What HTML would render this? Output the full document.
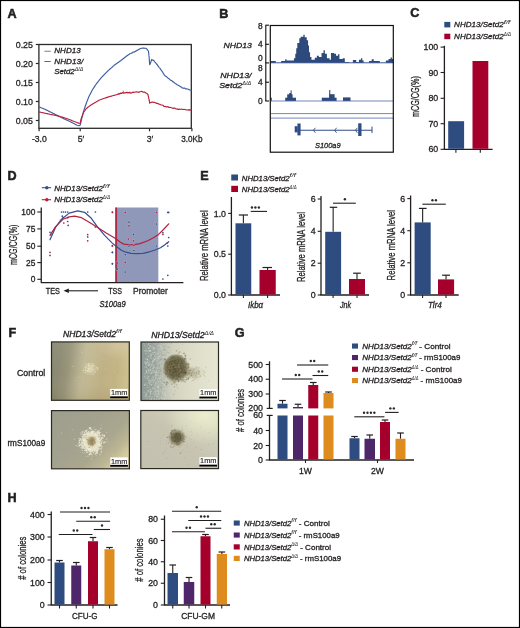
<!DOCTYPE html>
<html><head><meta charset="utf-8"><style>
html,body{margin:0;padding:0;background:#fff;}
svg{display:block;will-change:transform;}
text{font-family:"Liberation Sans",sans-serif;fill:#231f20;stroke:#231f20;stroke-width:0.3px;}
</style></head><body>
<svg width="520" height="628" viewBox="0 0 520 628">
<rect x="0" y="0" width="520" height="628" fill="#fff"/>
<text x="7.6" y="18" font-size="12.6" font-weight="bold" style="stroke-width:0.55px">A</text>
<rect x="38.9" y="44.5" width="152.4" height="83.8" fill="none" stroke="#2b2b2b" stroke-width="1.3"/>
<line x1="35.8" y1="44.5" x2="38.9" y2="44.5" stroke="#2b2b2b" stroke-width="1.2"/>
<text x="32.9" y="47.6" font-size="8.8" text-anchor="end">0.25</text>
<line x1="35.8" y1="63.5" x2="38.9" y2="63.5" stroke="#2b2b2b" stroke-width="1.2"/>
<text x="32.9" y="66.6" font-size="8.8" text-anchor="end">0.20</text>
<line x1="35.8" y1="82.5" x2="38.9" y2="82.5" stroke="#2b2b2b" stroke-width="1.2"/>
<text x="32.9" y="85.6" font-size="8.8" text-anchor="end">0.15</text>
<line x1="35.8" y1="101.5" x2="38.9" y2="101.5" stroke="#2b2b2b" stroke-width="1.2"/>
<text x="32.9" y="104.6" font-size="8.8" text-anchor="end">0.10</text>
<line x1="35.8" y1="120.5" x2="38.9" y2="120.5" stroke="#2b2b2b" stroke-width="1.2"/>
<text x="32.9" y="123.6" font-size="8.8" text-anchor="end">0.05</text>
<line x1="39.1" y1="128.3" x2="39.1" y2="131.3" stroke="#2b2b2b" stroke-width="1.2"/>
<line x1="80.2" y1="128.3" x2="80.2" y2="131.3" stroke="#2b2b2b" stroke-width="1.2"/>
<line x1="149.5" y1="128.3" x2="149.5" y2="131.3" stroke="#2b2b2b" stroke-width="1.2"/>
<line x1="191.9" y1="128.3" x2="191.9" y2="131.3" stroke="#2b2b2b" stroke-width="1.2"/>
<text x="39.3" y="142" font-size="8.6" text-anchor="middle">-3.0</text>
<text x="80.9" y="142" font-size="8.6" text-anchor="middle">5′</text>
<text x="150" y="142" font-size="8.6" text-anchor="middle">3′</text>
<text x="191.9" y="142" font-size="8.6" text-anchor="middle" textLength="21.3" lengthAdjust="spacingAndGlyphs">3.0Kb</text>
<line x1="44.4" y1="51.25" x2="50.8" y2="51.25" stroke="#6a82b8" stroke-width="1.0"/>
<text x="54.3" y="53.3" font-size="7.8" font-style="italic" textLength="26.4" lengthAdjust="spacingAndGlyphs">NHD13</text>
<line x1="44.4" y1="61.5" x2="50.8" y2="61.5" stroke="#c23a5c" stroke-width="1.0"/>
<text x="54.3" y="64.3" font-size="7.8" font-style="italic" textLength="29" lengthAdjust="spacingAndGlyphs">NHD13/</text>
<text x="54.3" y="74.4" font-size="7.8" font-style="italic"><tspan textLength="20.4" lengthAdjust="spacingAndGlyphs">Setd2</tspan><tspan font-size="5.4" dy="-3.4" style="stroke-width:0.05px" textLength="8.6" lengthAdjust="spacingAndGlyphs">Δ/Δ</tspan></text>
<polyline points="39.3,107 40.11,107.33 40.93,107.66 41.74,107.99 42.56,108.31 43.37,108.64 44.19,108.97 45,109.3 45.83,109.72 46.67,110.13 47.5,110.55 48.33,110.97 49.17,111.38 50,111.8 50.83,112.22 51.67,112.63 52.5,113.05 53.33,113.47 54.17,113.88 55,114.3 55.83,114.72 56.67,115.13 57.5,115.55 58.33,115.97 59.17,116.38 60,116.8 60.83,117.22 61.67,117.63 62.5,118.05 63.33,118.47 64.17,118.88 65,119.3 65.83,119.68 66.67,120.07 67.5,120.45 68.33,120.83 69.17,121.22 70,121.6 70.8,122 71.6,122.4 72.4,122.8 73.2,123.2 74,123.6 74.75,124 75.5,124.4 76.25,124.8 77,125.2 78,125.45 79,125.7 80.3,125 80.5,124.08 80.7,123.15 80.9,122.22 81.1,121.3 81.29,120.52 81.48,119.73 81.68,118.95 81.87,118.16 82.06,117.38 82.25,116.59 82.45,115.81 82.64,115.02 82.83,114.24 83.02,113.45 83.22,112.67 83.41,111.88 83.6,111.1 83.86,110.34 84.12,109.58 84.38,108.82 84.64,108.06 84.9,107.3 85.16,106.54 85.42,105.78 85.68,105.02 85.94,104.26 86.2,103.5 86.51,102.7 86.83,101.9 87.14,101.1 87.45,100.3 87.76,99.5 88.08,98.7 88.39,97.9 88.7,97.1 89.09,96.34 89.48,95.58 89.87,94.82 90.26,94.06 90.65,93.3 91.04,92.54 91.43,91.78 91.82,91.02 92.21,90.26 92.6,89.5 93.07,88.79 93.55,88.08 94.03,87.36 94.5,86.65 94.97,85.94 95.45,85.22 95.93,84.51 96.4,83.8 96.91,83.16 97.42,82.52 97.93,81.88 98.44,81.24 98.95,80.6 99.46,79.96 99.97,79.32 100.48,78.68 100.99,78.04 101.5,77.4 102.07,76.82 102.65,76.24 103.22,75.65 103.79,75.07 104.36,74.49 104.94,73.91 105.51,73.33 106.08,72.75 106.65,72.16 107.23,71.58 107.8,71 108.44,70.43 109.08,69.86 109.72,69.29 110.36,68.72 111,68.15 111.64,67.58 112.28,67.01 112.92,66.44 113.56,65.87 114.2,65.3 114.91,64.8 115.62,64.3 116.33,63.8 117.04,63.3 117.76,62.8 118.47,62.3 119.18,61.8 119.89,61.3 120.6,60.8 121.24,60.29 121.88,59.78 122.52,59.27 123.16,58.76 123.8,58.25 124.44,57.74 125.08,57.23 125.72,56.72 126.36,56.21 127,55.7 127.75,55.18 128.5,54.71 129.25,54.25 130,53.75 130.76,53.52 131.52,53.12 132.28,52.91 133.04,52.16 133.8,52.08 134.56,51.94 135.32,51.41 136.08,51.16 136.84,50.39 137.6,50.18 138.6,49.42 139.6,48.92 140.48,48.74 141.36,48.26 142.24,48.16 143.12,47.99 144,48.11 144.87,48.3 145.73,48.26 146.6,48.85 147.07,49.22 147.55,50.16 148.03,50.61 148.5,51.25 148.6,52.54 148.7,53.05 148.8,53.91 148.9,55.14 149,55.94 149.1,56.49 149.16,57.65 149.22,58.26 149.28,59.15 149.34,59.73 149.4,60.92 149.46,61.62 149.52,62.57 149.58,63.36 149.64,63.88 149.7,64.73 150.4,63.43 150.66,62.64 150.92,61.82 151.18,61.16 151.44,60.53 151.7,59.45 152.65,60.14 153.6,60.32 154.13,60.94 154.67,61.83 155.2,62.29 155.73,62.84 156.27,63.56 156.8,64.3 157.34,64.71 157.89,65.89 158.43,66.15 158.97,67.24 159.51,68.02 160.06,68.33 160.6,69.44 161.07,69.95 161.55,70.76 162.03,71.19 162.5,71.92 162.97,72.7 163.45,73.8 163.93,74.14 164.4,75.13 165.03,75.75 165.67,76.29 166.3,76.52 166.93,77.06 167.57,77.68 168.2,78.34 168.93,78.55 169.66,79.41 170.39,79.98 171.11,80.55 171.84,80.68 172.57,81.68 173.3,81.8 174.06,82.44 174.82,83.1 175.58,83.77 176.34,84 177.1,84.81 177.83,85.08 178.56,85.42 179.29,85.88 180.01,86.27 180.74,86.67 181.47,87.17 182.2,87.89 183.05,88.25 183.9,88.03 184.75,88.17 185.6,88.84 186.45,88.82 187.3,88.95 188.06,89.13 188.82,89.57 189.58,89.94 190.34,90.02 191.1,90.3" fill="none" stroke="#3e5e9e" stroke-width="1.15" stroke-linejoin="round" stroke-linecap="round"/>
<polyline points="39.3,112 40.01,112.15 40.72,112.3 41.44,112.45 42.15,112.6 42.86,112.75 43.58,112.9 44.29,113.05 45,113.2 45.71,113.36 46.43,113.51 47.14,113.67 47.86,113.83 48.57,113.99 49.29,114.14 50,114.3 50.71,114.44 51.43,114.59 52.14,114.73 52.86,114.87 53.57,115.01 54.29,115.16 55,115.3 55.71,115.47 56.43,115.64 57.14,115.81 57.86,115.99 58.57,116.16 59.29,116.33 60,116.5 60.71,116.71 61.43,116.93 62.14,117.14 62.86,117.36 63.57,117.57 64.29,117.79 65,118 65.71,118.26 66.43,118.51 67.14,118.77 67.86,119.03 68.57,119.29 69.29,119.54 70,119.8 70.71,120.09 71.43,120.37 72.14,120.66 72.86,120.94 73.57,121.23 74.29,121.51 75,121.8 75.7,122.06 76.4,122.32 77.1,122.58 77.8,122.84 78.5,123.1 79.35,123.25 80.2,123.4 80.35,122.63 80.5,121.87 80.65,121.1 80.8,120.33 80.95,119.57 81.1,118.8 81.38,118.09 81.66,117.38 81.93,116.67 82.21,115.96 82.49,115.24 82.77,114.53 83.04,113.82 83.32,113.11 83.6,112.4 84.03,111.77 84.47,111.13 84.9,110.5 85.33,109.87 85.77,109.23 86.2,108.6 86.77,108.18 87.33,107.76 87.9,107.33 88.47,106.91 89.03,106.49 89.6,106.07 90.17,105.64 90.73,105.22 91.3,104.8 91.93,104.42 92.57,104.05 93.2,103.67 93.83,103.3 94.47,102.92 95.1,102.55 95.73,102.17 96.37,101.8 97,101.42 97.63,101.05 98.27,100.67 98.9,100.3 99.58,100.05 100.27,99.81 100.95,99.56 101.64,99.32 102.32,99.07 103.01,98.82 103.69,98.58 104.38,98.33 105.06,98.08 105.75,97.84 106.43,97.59 107.12,97.35 107.8,97.1 108.49,96.91 109.18,96.72 109.88,96.52 110.57,96.33 111.26,96.14 111.95,95.95 112.65,95.75 113.34,95.56 114.03,95.37 114.72,95.18 115.42,94.98 116.11,94.79 116.8,94.6 117.5,94.39 118.2,94.11 118.9,93.57 119.6,94.13 120.3,93.12 121,93.33 121.7,93.43 122.4,92.58 123.1,92.91 123.81,93.1 124.52,92.82 125.23,92.96 125.94,92.35 126.66,92.64 127.37,92.38 128.08,93.01 128.79,92.52 129.5,92.66 130.2,93.09 130.9,92.89 131.6,92.94 132.3,92.41 133,92.38 133.7,92.53 134.4,92.24 135.1,92.01 135.81,92.05 136.52,91.75 137.23,91.89 137.94,92.37 138.66,92.28 139.37,91.91 140.08,91.73 140.79,91.52 141.5,91.23 142.26,91.52 143.02,92.09 143.78,92.29 144.54,91.96 145.3,92.46 145.93,92.92 146.55,93.33 147.18,93.77 147.8,94.33 147.98,94.73 148.17,95.78 148.35,96.15 148.53,97.09 148.72,98.09 148.9,98.77 149.03,99.16 149.17,100.5 149.3,100.98 149.43,101.67 149.57,101.91 149.7,103.14 150.35,102.55 151,102.6 151.65,102.09 152.3,102.09 153.05,102.15 153.8,102.5 154.55,102.31 155.3,102.8 156.05,103.1 156.8,103.4 157.56,103.21 158.32,103.89 159.08,104.15 159.84,104.23 160.6,104.73 161.23,105.03 161.87,104.95 162.5,105.28 163.13,105.27 163.77,106.19 164.4,106.59 165.11,106.32 165.82,106.66 166.53,106.83 167.24,106.99 167.96,106.63 168.67,107.32 169.38,107.28 170.09,107.5 170.8,107.43 171.49,107.78 172.18,108.09 172.87,108.14 173.56,108.39 174.25,107.94 174.95,108.23 175.64,108.66 176.33,109.02 177.02,108.8 177.71,109.39 178.4,109.52 179.11,109.03 179.82,109.46 180.53,109.29 181.24,109.18 181.96,109.29 182.67,109.5 183.38,109.42 184.09,109.48 184.8,109.38 185.5,109.8 186.2,109.76 186.9,110 187.6,110.01 188.3,109.73 189,110.36 189.7,109.58 190.4,109.98 191.1,110.1" fill="none" stroke="#b8203c" stroke-width="1.15" stroke-linejoin="round" stroke-linecap="round"/>
<line x1="123.3" y1="92.8" x2="123.3" y2="90.6" stroke="#b8203c" stroke-width="0.7"/>
<line x1="129.8" y1="92.8" x2="129.8" y2="91.5" stroke="#b8203c" stroke-width="0.7"/>
<line x1="133.5" y1="92.8" x2="133.5" y2="91.6" stroke="#b8203c" stroke-width="0.7"/>
<line x1="139" y1="92.8" x2="139" y2="91.8" stroke="#b8203c" stroke-width="0.7"/>
<text x="219.3" y="18" font-size="12.6" font-weight="bold" style="stroke-width:0.55px">B</text>
<path d="M270.38,62.9 L270.38,61.05 L275.77,61.05 L275.77,62.53 L281.15,62.53 L281.15,61.05 L285.19,61.05 L285.19,59.3 L286.53,59.3 L286.53,60.38 L293.94,60.38 L293.94,58.36 L295.28,58.36 L295.28,53.65 L296.22,53.65 L296.22,48.26 L297.3,48.26 L297.3,42.88 L299.32,42.88 L299.32,38.17 L300.67,38.17 L300.67,36.82 L303.36,36.82 L303.36,34.8 L304.7,34.8 L304.7,37.23 L306.72,37.23 L306.72,40.19 L308.07,40.19 L308.07,45.57 L309.01,45.57 L309.01,52.3 L310.09,52.3 L310.09,57.01 L311.43,57.01 L311.43,59.7 L314.8,59.7 L314.8,57.69 L316.82,57.69 L316.82,55.67 L318.84,55.67 L318.84,57.01 L321.53,57.01 L321.53,52.97 L323.55,52.97 L323.55,50.28 L324.89,50.28 L324.89,53.65 L326.91,53.65 L326.91,58.36 L329.6,58.36 L329.6,59.7 L330.95,59.7 L330.95,52.97 L334.99,52.97 L330,52.97 L334.04,52.97 L334.04,53.65 L336.06,53.65 L336.06,55.67 L338.08,55.67 L338.08,54.32 L339.42,54.32 L339.42,59.03 L342.79,59.03 L342.79,58.36 L344.8,58.36 L344.8,61.99 L348.84,61.99 L348.84,62.53 L352.88,62.53 L352.88,60.11 L356.24,60.11 L356.24,61.99 L358.94,61.99 L358.94,59.7 L360.96,59.7 L360.96,58.36 L362.3,58.36 L362.3,60.38 L363.65,60.38 L363.65,62.53 L369.03,62.53 L369.03,61.05 L371.72,61.05 L371.72,59.3 L373.74,59.3 L373.74,61.05 L379.8,61.05 L379.8,62.53 L385.85,62.53 L385.85,60.38 L388.55,60.38 L388.55,59.03 L390.57,59.03 L390.57,57.42 L391.91,57.42 L391.91,59.03 L393.26,59.03 L393.26,62.9Z" fill="#2e4a7d"/>
<rect x="270.4" y="97.7" width="1.4" height="3.3" fill="#2e4a7d"/>
<rect x="285.2" y="97.7" width="10.8" height="3.3" fill="#2e4a7d"/>
<rect x="287.2" y="94.3" width="5.4" height="6.7" fill="#2e4a7d"/>
<rect x="289.2" y="93" width="2" height="8" fill="#2e4a7d"/>
<rect x="290.6" y="90.3" width="1" height="10.7" fill="#2e4a7d"/>
<rect x="321.8" y="97.7" width="14.8" height="3.3" fill="#2e4a7d"/>
<rect x="329.2" y="94.2" width="5.4" height="6.8" fill="#2e4a7d"/>
<rect x="329.2" y="90" width="1.1" height="11" fill="#2e4a7d"/>
<rect x="343" y="97.4" width="7.5" height="3.6" fill="#2e4a7d"/>
<line x1="270.3" y1="62.9" x2="393.3" y2="62.9" stroke="#5168ab" stroke-width="0.8"/>
<line x1="270.3" y1="101" x2="393.3" y2="101" stroke="#5168ab" stroke-width="0.8"/>
<line x1="270.3" y1="113.6" x2="393.3" y2="113.6" stroke="#5168ab" stroke-width="0.8"/>
<line x1="270.3" y1="118.1" x2="393.3" y2="118.1" stroke="#5168ab" stroke-width="0.8"/>
<rect x="270.3" y="25.5" width="123" height="126.7" fill="none" stroke="#111" stroke-width="1.2"/>
<line x1="265.8" y1="25.2" x2="265.8" y2="101" stroke="#111" stroke-width="1.1"/>
<line x1="265.3" y1="25.2" x2="269" y2="25.2" stroke="#111" stroke-width="1.1"/>
<line x1="265.3" y1="44.3" x2="269" y2="44.3" stroke="#111" stroke-width="1.1"/>
<line x1="265.3" y1="62.9" x2="269" y2="62.9" stroke="#111" stroke-width="1.1"/>
<line x1="265.3" y1="82.2" x2="269" y2="82.2" stroke="#111" stroke-width="1.1"/>
<line x1="265.3" y1="101" x2="269" y2="101" stroke="#111" stroke-width="1.1"/>
<text x="260.4" y="28.6" font-size="8.4" text-anchor="middle">8</text>
<text x="260.4" y="47.1" font-size="8.4" text-anchor="middle">4</text>
<text x="260.4" y="60.9" font-size="8.4" text-anchor="middle">0</text>
<text x="260.4" y="71.1" font-size="8.4" text-anchor="middle">8</text>
<text x="260.4" y="85.4" font-size="8.4" text-anchor="middle">4</text>
<text x="260.4" y="104.1" font-size="8.4" text-anchor="middle">0</text>
<text x="251.8" y="47.6" font-size="7.9" text-anchor="end" font-style="italic" textLength="28.4" lengthAdjust="spacingAndGlyphs">NHD13</text>
<text x="251.6" y="77.8" font-size="7.9" text-anchor="end" font-style="italic" textLength="31.4" lengthAdjust="spacingAndGlyphs">NHD13/</text>
<text x="219.2" y="88.3" font-size="7.9" font-style="italic"><tspan textLength="23" lengthAdjust="spacingAndGlyphs">Setd2</tspan><tspan font-size="5.5" dy="-3.5" style="stroke-width:0.05px" textLength="9" lengthAdjust="spacingAndGlyphs">Δ/Δ</tspan></text>
<line x1="297" y1="130.3" x2="372" y2="130.3" stroke="#2f4c86" stroke-width="1.1"/>
<line x1="372" y1="126.6" x2="372" y2="133.1" stroke="#2f4c86" stroke-width="1"/>
<rect x="294.7" y="126.2" width="2.9" height="6.2" fill="#2f4c86"/>
<rect x="297.4" y="123.5" width="3.2" height="11.9" fill="#2f4c86"/>
<rect x="358.2" y="123.3" width="3.3" height="12.7" fill="#2f4c86"/>
<polyline points="315.4,127.8 313.4,130.3 315.4,132.8" fill="none" stroke="#2f4c86" stroke-width="0.9"/>
<polyline points="336.6,127.8 334.6,130.3 336.6,132.8" fill="none" stroke="#2f4c86" stroke-width="0.9"/>
<polyline points="357.4,127.8 355.4,130.3 357.4,132.8" fill="none" stroke="#2f4c86" stroke-width="0.9"/>
<text x="315" y="148.2" font-size="8" font-style="italic" textLength="25.6" lengthAdjust="spacingAndGlyphs">S100a9</text>
<text x="410.2" y="17.3" font-size="12.6" font-weight="bold" style="stroke-width:0.55px">C</text>
<rect x="444.3" y="21.9" width="6" height="5.5" fill="#2e4c7f"/>
<rect x="444.3" y="33.7" width="6" height="5.5" fill="#a4002b"/>
<text x="454.1" y="27.3" font-size="7.9"><tspan font-style="italic" textLength="49.6" lengthAdjust="spacingAndGlyphs">NHD13/Setd2</tspan><tspan font-style="italic" font-size="5.6" dy="-3.32" style="stroke-width:0.05px" textLength="6.6" lengthAdjust="spacingAndGlyphs">f/f</tspan></text>
<text x="454.1" y="39.1" font-size="7.9"><tspan font-style="italic" textLength="49.6" lengthAdjust="spacingAndGlyphs">NHD13/Setd2</tspan><tspan font-style="italic" font-size="5.6" dy="-3.32" style="stroke-width:0.05px" textLength="7.4" lengthAdjust="spacingAndGlyphs">Δ/Δ</tspan></text>
<line x1="444.4" y1="45.8" x2="444.4" y2="149.3" stroke="#231f20" stroke-width="1.3"/>
<line x1="440.6" y1="47.1" x2="444.4" y2="47.1" stroke="#231f20" stroke-width="1.1"/>
<text x="438.2" y="50.2" font-size="8.8" text-anchor="end">100</text>
<line x1="440.6" y1="72.5" x2="444.4" y2="72.5" stroke="#231f20" stroke-width="1.1"/>
<text x="438.2" y="75.6" font-size="8.8" text-anchor="end">90</text>
<line x1="440.6" y1="98.3" x2="444.4" y2="98.3" stroke="#231f20" stroke-width="1.1"/>
<text x="438.2" y="101.4" font-size="8.8" text-anchor="end">80</text>
<line x1="440.6" y1="123.7" x2="444.4" y2="123.7" stroke="#231f20" stroke-width="1.1"/>
<text x="438.2" y="126.8" font-size="8.8" text-anchor="end">70</text>
<line x1="440.6" y1="149.3" x2="444.4" y2="149.3" stroke="#231f20" stroke-width="1.1"/>
<text x="438.2" y="152.4" font-size="8.8" text-anchor="end">60</text>
<line x1="444" y1="149.3" x2="492.6" y2="149.3" stroke="#231f20" stroke-width="1.3"/>
<line x1="455.9" y1="149.3" x2="455.9" y2="152.8" stroke="#231f20" stroke-width="1.1"/>
<line x1="480.3" y1="149.3" x2="480.3" y2="152.8" stroke="#231f20" stroke-width="1.1"/>
<rect x="448.2" y="121.2" width="15.9" height="27.6" fill="#2e4c7f"/>
<rect x="472.5" y="61" width="15.8" height="87.8" fill="#a4002b"/>
<text transform="translate(418.5,96.6) rotate(-90)" x="0" y="0" font-size="10.2" text-anchor="middle" textLength="40.8" lengthAdjust="spacingAndGlyphs">mCG/CG(%)</text>
<text x="7.6" y="180" font-size="12.6" font-weight="bold" style="stroke-width:0.55px">D</text>
<line x1="41.8" y1="187.7" x2="51.1" y2="187.7" stroke="#33508e" stroke-width="1.1"/>
<circle cx="46.8" cy="187.7" r="1.7" fill="#33508e"/>
<line x1="41.8" y1="199.7" x2="51.1" y2="199.7" stroke="#b5203f" stroke-width="1.1"/>
<circle cx="46.8" cy="199.7" r="1.7" fill="#b5203f"/>
<text x="54.2" y="190.8" font-size="7.8"><tspan font-style="italic" textLength="48.6" lengthAdjust="spacingAndGlyphs">NHD13/Setd2</tspan><tspan font-style="italic" font-size="5.6" dy="-3.28" style="stroke-width:0.05px" textLength="6.6" lengthAdjust="spacingAndGlyphs">f/f</tspan></text>
<text x="54.2" y="202.3" font-size="7.8"><tspan font-style="italic" textLength="48.6" lengthAdjust="spacingAndGlyphs">NHD13/Setd2</tspan><tspan font-style="italic" font-size="5.6" dy="-3.28" style="stroke-width:0.05px" textLength="7.4" lengthAdjust="spacingAndGlyphs">Δ/Δ</tspan></text>
<rect x="115.6" y="207.5" width="42.7" height="74.8" fill="#9098b9"/>
<rect x="115.2" y="207.5" width="1.9" height="75" fill="#b02a4a"/>
<line x1="41.25" y1="207.5" x2="41.25" y2="282.6" stroke="#231f20" stroke-width="1.3"/>
<line x1="37.3" y1="212" x2="41.25" y2="212" stroke="#231f20" stroke-width="1.1"/>
<text x="35.3" y="215" font-size="8.4" text-anchor="end">100</text>
<line x1="37.3" y1="228.9" x2="41.25" y2="228.9" stroke="#231f20" stroke-width="1.1"/>
<text x="35.3" y="231.9" font-size="8.4" text-anchor="end">75</text>
<line x1="37.3" y1="246.2" x2="41.25" y2="246.2" stroke="#231f20" stroke-width="1.1"/>
<text x="35.3" y="249.2" font-size="8.4" text-anchor="end">50</text>
<line x1="37.3" y1="262.6" x2="41.25" y2="262.6" stroke="#231f20" stroke-width="1.1"/>
<text x="35.3" y="265.6" font-size="8.4" text-anchor="end">25</text>
<line x1="37.3" y1="279.3" x2="41.25" y2="279.3" stroke="#231f20" stroke-width="1.1"/>
<text x="35.3" y="282.3" font-size="8.4" text-anchor="end">0</text>
<line x1="40.8" y1="282.6" x2="183.4" y2="282.6" stroke="#231f20" stroke-width="1.3"/>
<text x="45.8" y="294" font-size="8.3" textLength="14.2" lengthAdjust="spacingAndGlyphs">TES</text>
<line x1="66" y1="290.8" x2="98" y2="290.8" stroke="#231f20" stroke-width="1.1"/>
<polygon points="63.5,290.8 68.8,288.5 68.8,293.1" fill="#231f20"/>
<text x="108.2" y="294" font-size="8.3" textLength="13.8" lengthAdjust="spacingAndGlyphs">TSS</text>
<text x="133" y="294" font-size="8.3" textLength="34.8" lengthAdjust="spacingAndGlyphs">Promoter</text>
<text x="99.5" y="307.2" font-size="8.6" font-style="italic" textLength="26.2" lengthAdjust="spacingAndGlyphs">S100a9</text>
<text transform="translate(16.6,244.8) rotate(-90)" x="0" y="0" font-size="10.2" text-anchor="middle" textLength="40.3" lengthAdjust="spacingAndGlyphs">mCG/CG(%)</text>
<polyline points="50,239.7 55.4,227.7 61.5,219.2 69.2,213.1 77.7,210.8 84.6,212.3 90.8,217.7 96.9,226.2 104.6,235.4 112.3,243.1 117,247 121,250 125.7,252.2 131,253.4 136.7,253.6 143,253.3 149.5,251.8 155,250 160.5,247.8 164.5,245 168.7,241.7" fill="none" stroke="#33508e" stroke-width="1.2" stroke-linejoin="round" stroke-linecap="round"/>
<polyline points="50,235.4 55.4,226.9 63.1,219.2 69.2,216.9 74.6,216.2 81.5,217.7 89.2,222.3 96.9,226.9 106.2,233.1 113,237 117,239.5 120,242 123.8,244.1 128,244.7 133,244.9 140,243.6 147.7,240.8 153,238 158.6,234.4 163,230 168.7,223.8" fill="none" stroke="#b5203f" stroke-width="1.2" stroke-linejoin="round" stroke-linecap="round"/>
<circle cx="125.3" cy="212.4" r="1.3" fill="#c4c8de" fill-opacity="0.6"/>
<circle cx="156.5" cy="212.4" r="1.3" fill="#c4c8de" fill-opacity="0.6"/>
<circle cx="129" cy="225.8" r="1.3" fill="#c4c8de" fill-opacity="0.6"/>
<circle cx="128.4" cy="239" r="1.3" fill="#c4c8de" fill-opacity="0.6"/>
<circle cx="133.5" cy="240.8" r="1.3" fill="#c4c8de" fill-opacity="0.6"/>
<circle cx="133.9" cy="245.4" r="1.3" fill="#c4c8de" fill-opacity="0.6"/>
<circle cx="117" cy="262.8" r="1.3" fill="#c4c8de" fill-opacity="0.6"/>
<circle cx="125.3" cy="262.4" r="1.3" fill="#c4c8de" fill-opacity="0.6"/>
<circle cx="116.9" cy="263" r="1.3" fill="#c4c8de" fill-opacity="0.6"/>
<circle cx="129" cy="222.1" r="1.3" fill="#c4c8de" fill-opacity="0.6"/>
<circle cx="156.5" cy="224" r="1.3" fill="#c4c8de" fill-opacity="0.6"/>
<circle cx="133.5" cy="234.4" r="1.3" fill="#c4c8de" fill-opacity="0.6"/>
<circle cx="129" cy="246" r="1.3" fill="#c4c8de" fill-opacity="0.6"/>
<circle cx="156.5" cy="246" r="1.3" fill="#c4c8de" fill-opacity="0.6"/>
<circle cx="133.9" cy="250.5" r="1.3" fill="#c4c8de" fill-opacity="0.6"/>
<circle cx="125.3" cy="254.6" r="1.3" fill="#c4c8de" fill-opacity="0.6"/>
<circle cx="117" cy="269.2" r="1.3" fill="#c4c8de" fill-opacity="0.6"/>
<circle cx="125.3" cy="272" r="1.3" fill="#c4c8de" fill-opacity="0.6"/>
<circle cx="116.9" cy="269.2" r="1.3" fill="#c4c8de" fill-opacity="0.6"/>
<circle cx="112.5" cy="212.4" r="0.85" fill="#b5203f"/>
<circle cx="125.3" cy="212.4" r="0.85" fill="#b5203f"/>
<circle cx="156.5" cy="212.4" r="0.85" fill="#b5203f"/>
<circle cx="167.8" cy="212.4" r="0.85" fill="#b5203f"/>
<circle cx="129" cy="225.8" r="0.85" fill="#b5203f"/>
<circle cx="128.4" cy="239" r="0.85" fill="#b5203f"/>
<circle cx="133.5" cy="240.8" r="0.85" fill="#b5203f"/>
<circle cx="133.9" cy="245.4" r="0.85" fill="#b5203f"/>
<circle cx="112.5" cy="246" r="0.85" fill="#b5203f"/>
<circle cx="162.9" cy="234.4" r="0.85" fill="#b5203f"/>
<circle cx="167.4" cy="243" r="0.85" fill="#b5203f"/>
<circle cx="117" cy="262.8" r="0.85" fill="#b5203f"/>
<circle cx="125.3" cy="262.4" r="0.85" fill="#b5203f"/>
<circle cx="112.3" cy="212" r="0.85" fill="#b5203f"/>
<circle cx="63.8" cy="223" r="0.85" fill="#b5203f"/>
<circle cx="67.7" cy="217.7" r="0.85" fill="#b5203f"/>
<circle cx="50.8" cy="234.6" r="0.85" fill="#b5203f"/>
<circle cx="87.7" cy="234.6" r="0.85" fill="#b5203f"/>
<circle cx="87.7" cy="240.8" r="0.85" fill="#b5203f"/>
<circle cx="95.4" cy="226.9" r="0.85" fill="#b5203f"/>
<circle cx="50" cy="252.3" r="0.85" fill="#b5203f"/>
<circle cx="112.3" cy="245.7" r="0.85" fill="#b5203f"/>
<circle cx="116.9" cy="263" r="0.85" fill="#b5203f"/>
<circle cx="168.7" cy="212.4" r="0.85" fill="#33508e"/>
<circle cx="129" cy="222.1" r="0.85" fill="#33508e"/>
<circle cx="156.5" cy="224" r="0.85" fill="#33508e"/>
<circle cx="133.5" cy="234.4" r="0.85" fill="#33508e"/>
<circle cx="162.9" cy="232.6" r="0.85" fill="#33508e"/>
<circle cx="168.7" cy="237.5" r="0.85" fill="#33508e"/>
<circle cx="129" cy="246" r="0.85" fill="#33508e"/>
<circle cx="156.5" cy="246" r="0.85" fill="#33508e"/>
<circle cx="133.9" cy="250.5" r="0.85" fill="#33508e"/>
<circle cx="167.8" cy="246" r="0.85" fill="#33508e"/>
<circle cx="112.5" cy="252.4" r="0.85" fill="#33508e"/>
<circle cx="125.3" cy="254.6" r="0.85" fill="#33508e"/>
<circle cx="112.5" cy="263.7" r="0.85" fill="#33508e"/>
<circle cx="117" cy="269.2" r="0.85" fill="#33508e"/>
<circle cx="125.3" cy="272" r="0.85" fill="#33508e"/>
<circle cx="162.9" cy="279" r="0.85" fill="#33508e"/>
<circle cx="167.8" cy="275.3" r="0.85" fill="#33508e"/>
<circle cx="61.5" cy="212" r="0.85" fill="#33508e"/>
<circle cx="63.5" cy="212" r="0.85" fill="#33508e"/>
<circle cx="65.5" cy="212" r="0.85" fill="#33508e"/>
<circle cx="67.7" cy="212" r="0.85" fill="#33508e"/>
<circle cx="87.7" cy="212" r="0.85" fill="#33508e"/>
<circle cx="95.4" cy="212" r="0.85" fill="#33508e"/>
<circle cx="62.3" cy="216.2" r="0.85" fill="#33508e"/>
<circle cx="63.1" cy="217.7" r="0.85" fill="#33508e"/>
<circle cx="67.7" cy="221.5" r="0.85" fill="#33508e"/>
<circle cx="68.2" cy="225.4" r="0.85" fill="#33508e"/>
<circle cx="50" cy="232.3" r="0.85" fill="#33508e"/>
<circle cx="87.7" cy="236.9" r="0.85" fill="#33508e"/>
<circle cx="50" cy="255.4" r="0.85" fill="#33508e"/>
<circle cx="112.3" cy="252.3" r="0.85" fill="#33508e"/>
<circle cx="112.3" cy="263.8" r="0.85" fill="#33508e"/>
<circle cx="116.9" cy="269.2" r="0.85" fill="#33508e"/>
<text x="200.3" y="180" font-size="12.6" font-weight="bold" style="stroke-width:0.55px">E</text>
<rect x="231.25" y="174.5" width="6.75" height="6" fill="#2e4c7f"/>
<rect x="231.25" y="185.8" width="6.75" height="6.2" fill="#a4002b"/>
<text x="241.8" y="180.5" font-size="7.7"><tspan font-style="italic" textLength="47.8" lengthAdjust="spacingAndGlyphs">NHD13/Setd2</tspan><tspan font-style="italic" font-size="5.4" dy="-3.23" style="stroke-width:0.05px" textLength="6.2" lengthAdjust="spacingAndGlyphs">f/f</tspan></text>
<text x="241.8" y="192" font-size="7.7"><tspan font-style="italic" textLength="47.8" lengthAdjust="spacingAndGlyphs">NHD13/Setd2</tspan><tspan font-style="italic" font-size="5.4" dy="-3.23" style="stroke-width:0.05px" textLength="7" lengthAdjust="spacingAndGlyphs">Δ/Δ</tspan></text>
<line x1="231.4" y1="197" x2="231.4" y2="295" stroke="#231f20" stroke-width="1.3"/>
<line x1="228.1" y1="213.4" x2="231.4" y2="213.4" stroke="#231f20" stroke-width="1.1"/>
<text x="226" y="216.5" font-size="8.8" text-anchor="end">1.0</text>
<line x1="228.1" y1="254.2" x2="231.4" y2="254.2" stroke="#231f20" stroke-width="1.1"/>
<text x="226" y="257.3" font-size="8.8" text-anchor="end">0.5</text>
<line x1="228.1" y1="295" x2="231.4" y2="295" stroke="#231f20" stroke-width="1.1"/>
<text x="226" y="298.1" font-size="8.8" text-anchor="end">0.0</text>
<line x1="230.8" y1="295" x2="280" y2="295" stroke="#231f20" stroke-width="1.3"/>
<line x1="243.4" y1="295" x2="243.4" y2="298" stroke="#231f20" stroke-width="1.1"/>
<line x1="267.6" y1="295" x2="267.6" y2="298" stroke="#231f20" stroke-width="1.1"/>
<line x1="243.38" y1="223.3" x2="243.38" y2="215" stroke="#231f20" stroke-width="1.1"/>
<line x1="238.8" y1="215" x2="248" y2="215" stroke="#231f20" stroke-width="1.2"/>
<rect x="235.5" y="223.3" width="15.75" height="71.2" fill="#2e4c7f"/>
<line x1="267.62" y1="270" x2="267.62" y2="267.5" stroke="#231f20" stroke-width="1.1"/>
<line x1="262.5" y1="267.5" x2="272" y2="267.5" stroke="#231f20" stroke-width="1.2"/>
<rect x="259.5" y="270" width="16.25" height="24.5" fill="#a4002b"/>
<line x1="250.75" y1="211.4" x2="267" y2="211.4" stroke="#231f20" stroke-width="1.1"/>
<circle cx="251.95" cy="207.5" r="1.2" fill="#2a2a2a"/>
<circle cx="255.4" cy="207.5" r="1.2" fill="#2a2a2a"/>
<circle cx="258.85" cy="207.5" r="1.2" fill="#2a2a2a"/>
<text x="255.5" y="308" font-size="8.4" text-anchor="middle" font-style="italic" textLength="15" lengthAdjust="spacingAndGlyphs">Ikbα</text>
<text transform="translate(208.2,245.7) rotate(-90)" x="0" y="0" font-size="10.3" text-anchor="middle" textLength="70.7" lengthAdjust="spacingAndGlyphs">Relative mRNA level</text>
<line x1="321" y1="196.1" x2="321" y2="295" stroke="#231f20" stroke-width="1.3"/>
<line x1="317.7" y1="199" x2="321" y2="199" stroke="#231f20" stroke-width="1.1"/>
<text x="315.6" y="202.1" font-size="8.8" text-anchor="end">6</text>
<line x1="317.7" y1="231.3" x2="321" y2="231.3" stroke="#231f20" stroke-width="1.1"/>
<text x="315.6" y="234.4" font-size="8.8" text-anchor="end">4</text>
<line x1="317.7" y1="263.2" x2="321" y2="263.2" stroke="#231f20" stroke-width="1.1"/>
<text x="315.6" y="266.3" font-size="8.8" text-anchor="end">2</text>
<line x1="317.7" y1="295" x2="321" y2="295" stroke="#231f20" stroke-width="1.1"/>
<text x="315.6" y="298.1" font-size="8.8" text-anchor="end">0</text>
<line x1="320.4" y1="295" x2="369" y2="295" stroke="#231f20" stroke-width="1.3"/>
<line x1="333.1" y1="295" x2="333.1" y2="298" stroke="#231f20" stroke-width="1.1"/>
<line x1="357" y1="295" x2="357" y2="298" stroke="#231f20" stroke-width="1.1"/>
<line x1="333.15" y1="231.8" x2="333.15" y2="207.3" stroke="#231f20" stroke-width="1.1"/>
<line x1="329.8" y1="207.3" x2="337.2" y2="207.3" stroke="#231f20" stroke-width="1.2"/>
<rect x="325.2" y="231.8" width="15.9" height="62.7" fill="#2e4c7f"/>
<line x1="357" y1="279" x2="357" y2="273.2" stroke="#231f20" stroke-width="1.1"/>
<line x1="353.1" y1="273.2" x2="360.8" y2="273.2" stroke="#231f20" stroke-width="1.2"/>
<rect x="349" y="279" width="16" height="15.5" fill="#a4002b"/>
<line x1="333" y1="203.2" x2="355.8" y2="203.2" stroke="#231f20" stroke-width="1.1"/>
<circle cx="344.9" cy="199.3" r="1.2" fill="#2a2a2a"/>
<text x="345.5" y="308" font-size="8.4" text-anchor="middle" font-style="italic" textLength="11" lengthAdjust="spacingAndGlyphs">Jnk</text>
<text transform="translate(305.1,247) rotate(-90)" x="0" y="0" font-size="10.3" text-anchor="middle" textLength="70" lengthAdjust="spacingAndGlyphs">Relative mRNA level</text>
<line x1="410.6" y1="195.5" x2="410.6" y2="295" stroke="#231f20" stroke-width="1.3"/>
<line x1="407.3" y1="198.6" x2="410.6" y2="198.6" stroke="#231f20" stroke-width="1.1"/>
<text x="405.2" y="201.7" font-size="8.8" text-anchor="end">6</text>
<line x1="407.3" y1="230.7" x2="410.6" y2="230.7" stroke="#231f20" stroke-width="1.1"/>
<text x="405.2" y="233.8" font-size="8.8" text-anchor="end">4</text>
<line x1="407.3" y1="262.8" x2="410.6" y2="262.8" stroke="#231f20" stroke-width="1.1"/>
<text x="405.2" y="265.9" font-size="8.8" text-anchor="end">2</text>
<line x1="407.3" y1="295" x2="410.6" y2="295" stroke="#231f20" stroke-width="1.1"/>
<text x="405.2" y="298.1" font-size="8.8" text-anchor="end">0</text>
<line x1="410" y1="295" x2="458.7" y2="295" stroke="#231f20" stroke-width="1.3"/>
<line x1="422.6" y1="295" x2="422.6" y2="298" stroke="#231f20" stroke-width="1.1"/>
<line x1="446" y1="295" x2="446" y2="298" stroke="#231f20" stroke-width="1.1"/>
<line x1="422.65" y1="222.4" x2="422.65" y2="208.4" stroke="#231f20" stroke-width="1.1"/>
<line x1="418.9" y1="208.4" x2="426.6" y2="208.4" stroke="#231f20" stroke-width="1.2"/>
<rect x="414.6" y="222.4" width="16.1" height="72.1" fill="#2e4c7f"/>
<line x1="446.05" y1="279.4" x2="446.05" y2="275.2" stroke="#231f20" stroke-width="1.1"/>
<line x1="442.1" y1="275.2" x2="450" y2="275.2" stroke="#231f20" stroke-width="1.2"/>
<rect x="438" y="279.4" width="16.1" height="15.1" fill="#a4002b"/>
<line x1="422.4" y1="204.2" x2="445.8" y2="204.2" stroke="#231f20" stroke-width="1.1"/>
<circle cx="432.47" cy="200.3" r="1.2" fill="#2a2a2a"/>
<circle cx="435.92" cy="200.3" r="1.2" fill="#2a2a2a"/>
<text x="434.9" y="308" font-size="8.4" text-anchor="middle" font-style="italic" textLength="14" lengthAdjust="spacingAndGlyphs">Tlr4</text>
<text transform="translate(394.5,245.2) rotate(-90)" x="0" y="0" font-size="10.3" text-anchor="middle" textLength="70.4" lengthAdjust="spacingAndGlyphs">Relative mRNA level</text>
<text x="8.6" y="336.5" font-size="12.6" font-weight="bold" style="stroke-width:0.55px">F</text>
<text x="63" y="336.9" font-size="8.2"><tspan font-style="italic" textLength="53" lengthAdjust="spacingAndGlyphs">NHD13/Setd2</tspan><tspan font-style="italic" font-size="5.8" dy="-3.44" style="stroke-width:0.05px" textLength="5.8" lengthAdjust="spacingAndGlyphs">f/f</tspan></text>
<text x="151.2" y="338.3" font-size="8.2"><tspan font-style="italic" textLength="53.4" lengthAdjust="spacingAndGlyphs">NHD13/Setd2</tspan><tspan font-style="italic" font-size="5.8" dy="-3.44" style="stroke-width:0.05px" textLength="9.4" lengthAdjust="spacingAndGlyphs">Δ/Δ</tspan></text>
<text x="45.2" y="375.9" font-size="8.4" text-anchor="end" textLength="28.2" lengthAdjust="spacingAndGlyphs">Control</text>
<text x="45.2" y="446" font-size="8.4" text-anchor="end" textLength="37.8" lengthAdjust="spacingAndGlyphs">rmS100a9</text>
<defs>
<linearGradient id="g1" gradientUnits="userSpaceOnUse" x1="51.5" y1="341" x2="129.3" y2="353">
<stop offset="0" stop-color="#878670"/><stop offset="0.15" stop-color="#8c8a72"/><stop offset="0.26" stop-color="#989479"/>
<stop offset="0.36" stop-color="#aea88a"/><stop offset="0.45" stop-color="#bfb894"/><stop offset="0.55" stop-color="#c1b78f"/>
<stop offset="0.7" stop-color="#bfb084"/><stop offset="0.88" stop-color="#c4b483"/><stop offset="1" stop-color="#cdbf8d"/></linearGradient>
<linearGradient id="g1v" x1="0" y1="0" x2="0" y2="1">
<stop offset="0" stop-color="#fff" stop-opacity="0.07"/><stop offset="0.55" stop-color="#fff" stop-opacity="0"/><stop offset="1" stop-color="#4a3a10" stop-opacity="0.09"/></linearGradient>
<radialGradient id="g1c" cx="0.5" cy="0.5" r="0.5">
<stop offset="0" stop-color="#ebe5c8" stop-opacity="0.65"/><stop offset="1" stop-color="#ebe5c8" stop-opacity="0"/></radialGradient>
<linearGradient id="g2" x1="0" y1="0" x2="1" y2="0">
<stop offset="0" stop-color="#8f9b96"/><stop offset="0.12" stop-color="#97a29d"/><stop offset="0.22" stop-color="#abb2a9"/>
<stop offset="0.32" stop-color="#c2c5b6"/><stop offset="0.42" stop-color="#d2d2bf"/><stop offset="0.6" stop-color="#dcdbc7"/><stop offset="1" stop-color="#e7e6d2"/></linearGradient>
<radialGradient id="g2b" cx="0.47" cy="0.46" r="0.54">
<stop offset="0" stop-color="#5c553a"/><stop offset="0.5" stop-color="#635c3f"/><stop offset="0.75" stop-color="#746d4f" stop-opacity="0.75"/><stop offset="1" stop-color="#a39d80" stop-opacity="0"/></radialGradient>
<radialGradient id="g2t" cx="0.35" cy="0.5" r="0.6">
<stop offset="0" stop-color="#8a8264" stop-opacity="0.55"/><stop offset="0.6" stop-color="#a39d80" stop-opacity="0.3"/><stop offset="1" stop-color="#c4bfa5" stop-opacity="0"/></radialGradient>
<linearGradient id="g3" x1="0" y1="0" x2="1" y2="0.7">
<stop offset="0" stop-color="#9e9e8f"/><stop offset="0.45" stop-color="#a3a28e"/><stop offset="0.72" stop-color="#aaa78f"/><stop offset="0.88" stop-color="#bdb694"/><stop offset="1" stop-color="#d6cca2"/></linearGradient>
<radialGradient id="g3h" cx="0.5" cy="0.5" r="0.5">
<stop offset="0" stop-color="#ece8d1"/><stop offset="0.7" stop-color="#e8e4cb" stop-opacity="0.95"/><stop offset="0.85" stop-color="#dcd8bf" stop-opacity="0.6"/><stop offset="1" stop-color="#d0ccb4" stop-opacity="0"/></radialGradient>
<radialGradient id="g3c" cx="0.5" cy="0.5" r="0.5">
<stop offset="0" stop-color="#9a8960"/><stop offset="0.55" stop-color="#a8986e" stop-opacity="0.85"/><stop offset="1" stop-color="#d8d0b0" stop-opacity="0"/></radialGradient>
<linearGradient id="g4" x1="0" y1="1" x2="1" y2="0">
<stop offset="0" stop-color="#c2c0ae"/><stop offset="0.5" stop-color="#c7c5b2"/><stop offset="0.8" stop-color="#d2d1bb"/><stop offset="1" stop-color="#dddec2"/></linearGradient>
<radialGradient id="g4b" cx="0.5" cy="0.5" r="0.5">
<stop offset="0" stop-color="#615b3f"/><stop offset="0.45" stop-color="#6e684a" stop-opacity="0.92"/><stop offset="0.75" stop-color="#8a8466" stop-opacity="0.5"/><stop offset="1" stop-color="#b0ab90" stop-opacity="0"/></radialGradient>
<radialGradient id="g4h" cx="0.82" cy="0.08" r="0.5">
<stop offset="0" stop-color="#eceecf" stop-opacity="0.95"/><stop offset="1" stop-color="#eceecf" stop-opacity="0"/></radialGradient>
<filter id="soft" x="-2%" y="-2%" width="104%" height="104%"><feGaussianBlur stdDeviation="0.35"/></filter>
</defs>
<clipPath id="c1"><rect x="51.5" y="341.9" width="77.8" height="58.4"/></clipPath><g clip-path="url(#c1)"><g filter="url(#soft)">
<rect x="51.5" y="341.9" width="77.8" height="58.4" fill="url(#g1)"/>
<rect x="51.5" y="341.9" width="77.8" height="58.4" fill="url(#g1v)"/>
<ellipse cx="118" cy="346" rx="22" ry="14" fill="url(#g1c)" opacity="0.45"/>
<ellipse cx="90.3" cy="369" rx="8" ry="7" fill="url(#g1c)"/>
<circle cx="85.61" cy="367.7" r="0.67" fill="#f3efd9" fill-opacity="0.62"/>
<circle cx="85.74" cy="366.88" r="0.37" fill="#f3efd9" fill-opacity="0.64"/>
<circle cx="91.89" cy="364.33" r="0.34" fill="#f3efd9" fill-opacity="0.55"/>
<circle cx="91.13" cy="367.48" r="0.58" fill="#f3efd9" fill-opacity="0.44"/>
<circle cx="97.55" cy="367.89" r="0.56" fill="#f3efd9" fill-opacity="0.69"/>
<circle cx="93.26" cy="369.54" r="0.51" fill="#f3efd9" fill-opacity="0.45"/>
<circle cx="90.47" cy="372.13" r="0.31" fill="#f3efd9" fill-opacity="0.62"/>
<circle cx="93.03" cy="365.69" r="0.51" fill="#f3efd9" fill-opacity="0.7"/>
<circle cx="87.53" cy="365.38" r="0.48" fill="#f3efd9" fill-opacity="0.54"/>
<circle cx="97.79" cy="369.12" r="0.64" fill="#f3efd9" fill-opacity="0.73"/>
<circle cx="90.84" cy="372.92" r="0.42" fill="#f3efd9" fill-opacity="0.45"/>
<circle cx="84.98" cy="372.63" r="0.64" fill="#f3efd9" fill-opacity="0.59"/>
<circle cx="94.51" cy="364.09" r="0.3" fill="#f3efd9" fill-opacity="0.51"/>
<circle cx="83.27" cy="370.46" r="0.69" fill="#f3efd9" fill-opacity="0.59"/>
<circle cx="88.91" cy="368.02" r="0.61" fill="#f3efd9" fill-opacity="0.54"/>
<circle cx="89.2" cy="370.97" r="0.69" fill="#f3efd9" fill-opacity="0.75"/>
<circle cx="90.36" cy="371.53" r="0.34" fill="#f3efd9" fill-opacity="0.45"/>
<circle cx="93.24" cy="374.51" r="0.52" fill="#f3efd9" fill-opacity="0.62"/>
<circle cx="89.93" cy="366.48" r="0.35" fill="#f3efd9" fill-opacity="0.7"/>
<circle cx="88.05" cy="370.36" r="0.39" fill="#f3efd9" fill-opacity="0.54"/>
<circle cx="92.73" cy="363.25" r="0.42" fill="#f3efd9" fill-opacity="0.8"/>
<circle cx="87.59" cy="371.14" r="0.64" fill="#f3efd9" fill-opacity="0.7"/>
<circle cx="92.67" cy="369.16" r="0.39" fill="#f3efd9" fill-opacity="0.53"/>
<circle cx="87.16" cy="374.32" r="0.42" fill="#f3efd9" fill-opacity="0.46"/>
<circle cx="88.35" cy="368.33" r="0.4" fill="#f3efd9" fill-opacity="0.68"/>
<circle cx="85.92" cy="370.45" r="0.68" fill="#f3efd9" fill-opacity="0.63"/>
<circle cx="94.1" cy="365.64" r="0.37" fill="#f3efd9" fill-opacity="0.49"/>
<circle cx="93.25" cy="363.66" r="0.4" fill="#f3efd9" fill-opacity="0.51"/>
<circle cx="96.3" cy="367.26" r="0.38" fill="#f3efd9" fill-opacity="0.83"/>
<circle cx="84.69" cy="365.6" r="0.47" fill="#f3efd9" fill-opacity="0.47"/>
<circle cx="91.73" cy="369" r="0.4" fill="#f3efd9" fill-opacity="0.72"/>
<circle cx="92" cy="366.35" r="0.54" fill="#f3efd9" fill-opacity="0.55"/>
<circle cx="89.72" cy="366.62" r="0.33" fill="#f3efd9" fill-opacity="0.52"/>
<circle cx="93.67" cy="365.41" r="0.55" fill="#f3efd9" fill-opacity="0.54"/>
<circle cx="92.35" cy="375.27" r="0.31" fill="#f3efd9" fill-opacity="0.54"/>
<circle cx="94.95" cy="370.91" r="0.37" fill="#f3efd9" fill-opacity="0.58"/>
<circle cx="94.14" cy="372.92" r="0.44" fill="#f3efd9" fill-opacity="0.8"/>
<circle cx="86.2" cy="363.93" r="0.58" fill="#f3efd9" fill-opacity="0.67"/>
<circle cx="93.04" cy="369.83" r="0.31" fill="#f3efd9" fill-opacity="0.81"/>
<circle cx="96.41" cy="368.04" r="0.31" fill="#f3efd9" fill-opacity="0.7"/>
<circle cx="89.66" cy="364.82" r="0.43" fill="#f3efd9" fill-opacity="0.85"/>
<circle cx="88.33" cy="368.79" r="0.59" fill="#f3efd9" fill-opacity="0.81"/>
<circle cx="88.45" cy="363.95" r="0.62" fill="#f3efd9" fill-opacity="0.81"/>
<circle cx="88.54" cy="365.76" r="0.66" fill="#f3efd9" fill-opacity="0.8"/>
<circle cx="91.52" cy="365.24" r="0.65" fill="#f3efd9" fill-opacity="0.67"/>
<circle cx="78.81" cy="377.1" r="0.5" fill="#ece6cc" fill-opacity="0.44"/>
<circle cx="89.79" cy="363.55" r="0.65" fill="#ece6cc" fill-opacity="0.52"/>
<circle cx="76.58" cy="378.01" r="0.56" fill="#ece6cc" fill-opacity="0.43"/>
<circle cx="99.11" cy="355.42" r="0.33" fill="#ece6cc" fill-opacity="0.48"/>
<circle cx="90.74" cy="365.14" r="0.47" fill="#ece6cc" fill-opacity="0.34"/>
<circle cx="72.49" cy="366.31" r="0.52" fill="#ece6cc" fill-opacity="0.53"/>
<circle cx="100.71" cy="366.57" r="0.41" fill="#ece6cc" fill-opacity="0.46"/>
<circle cx="95.51" cy="371.86" r="0.62" fill="#ece6cc" fill-opacity="0.46"/>
<circle cx="102.52" cy="358.14" r="0.41" fill="#ece6cc" fill-opacity="0.46"/>
<circle cx="85.53" cy="368.77" r="0.58" fill="#ece6cc" fill-opacity="0.53"/>
<circle cx="74.45" cy="380.39" r="0.5" fill="#ece6cc" fill-opacity="0.36"/>
<circle cx="86.73" cy="366.11" r="0.59" fill="#ece6cc" fill-opacity="0.51"/>
<circle cx="110.83" cy="360.35" r="0.4" fill="#ece6cc" fill-opacity="0.32"/>
<circle cx="89.84" cy="378.53" r="0.37" fill="#ece6cc" fill-opacity="0.39"/>
<circle cx="74.14" cy="366.63" r="0.41" fill="#ece6cc" fill-opacity="0.51"/>
<circle cx="67.51" cy="372.96" r="0.33" fill="#ece6cc" fill-opacity="0.28"/>
<circle cx="114.53" cy="371.55" r="0.55" fill="#ece6cc" fill-opacity="0.43"/>
<circle cx="94.62" cy="356.94" r="0.31" fill="#ece6cc" fill-opacity="0.31"/>
<circle cx="105.68" cy="367.98" r="0.59" fill="#ece6cc" fill-opacity="0.34"/>
<circle cx="97.19" cy="367.45" r="0.52" fill="#ece6cc" fill-opacity="0.4"/>
<circle cx="81.91" cy="352.28" r="0.58" fill="#ece6cc" fill-opacity="0.54"/>
<circle cx="98.01" cy="382.83" r="0.47" fill="#ece6cc" fill-opacity="0.32"/>
</g></g>
<rect x="51.5" y="341.9" width="77.8" height="58.4" fill="none" stroke="#2b2a22" stroke-width="1.2"/>
<rect x="110.2" y="388.9" width="17.6" height="7.6" fill="#fff"/>
<rect x="110.2" y="396.4" width="17.6" height="1.8" fill="#000"/>
<text x="119.1" y="395" font-size="7.6" text-anchor="middle" textLength="16.4" lengthAdjust="spacingAndGlyphs" style="stroke-width:0.15px">1mm</text>
<clipPath id="c2"><rect x="141" y="342" width="77.5" height="58.5"/></clipPath><g clip-path="url(#c2)"><g filter="url(#soft)">
<rect x="141" y="342" width="77.5" height="58.5" fill="url(#g2)"/>
<circle cx="162.05" cy="383.56" r="0.48" fill="#d6dace" fill-opacity="0.41"/>
<circle cx="145.22" cy="362.38" r="0.71" fill="#d6dace" fill-opacity="0.51"/>
<circle cx="164.23" cy="365.13" r="0.76" fill="#d6dace" fill-opacity="0.66"/>
<circle cx="161.71" cy="347.51" r="0.82" fill="#d6dace" fill-opacity="0.59"/>
<circle cx="156.05" cy="378.47" r="0.81" fill="#d6dace" fill-opacity="0.45"/>
<circle cx="156.82" cy="375.21" r="0.8" fill="#d6dace" fill-opacity="0.62"/>
<circle cx="160.78" cy="379.95" r="0.49" fill="#d6dace" fill-opacity="0.59"/>
<circle cx="150.13" cy="389.55" r="0.69" fill="#d6dace" fill-opacity="0.59"/>
<circle cx="151.85" cy="398.88" r="0.84" fill="#d6dace" fill-opacity="0.51"/>
<circle cx="177.43" cy="387.97" r="0.54" fill="#d6dace" fill-opacity="0.66"/>
<circle cx="153.14" cy="347.26" r="0.6" fill="#d6dace" fill-opacity="0.52"/>
<circle cx="155.66" cy="386.67" r="0.62" fill="#d6dace" fill-opacity="0.31"/>
<circle cx="146.11" cy="388.49" r="0.48" fill="#d6dace" fill-opacity="0.43"/>
<circle cx="149.42" cy="387.8" r="0.46" fill="#d6dace" fill-opacity="0.36"/>
<circle cx="169.52" cy="390.8" r="0.71" fill="#d6dace" fill-opacity="0.68"/>
<circle cx="146.66" cy="370.82" r="0.83" fill="#d6dace" fill-opacity="0.33"/>
<circle cx="147.5" cy="359.18" r="0.73" fill="#d6dace" fill-opacity="0.56"/>
<circle cx="163.25" cy="372.56" r="0.78" fill="#d6dace" fill-opacity="0.52"/>
<circle cx="149.93" cy="391.1" r="0.81" fill="#d6dace" fill-opacity="0.38"/>
<circle cx="158.51" cy="391.42" r="0.84" fill="#d6dace" fill-opacity="0.51"/>
<circle cx="153.61" cy="373.31" r="0.63" fill="#d6dace" fill-opacity="0.54"/>
<circle cx="148.74" cy="344.1" r="0.84" fill="#d6dace" fill-opacity="0.51"/>
<circle cx="167.32" cy="374.86" r="0.62" fill="#d6dace" fill-opacity="0.58"/>
<circle cx="160.82" cy="346.29" r="0.64" fill="#d6dace" fill-opacity="0.47"/>
<circle cx="178.95" cy="357.98" r="0.61" fill="#d6dace" fill-opacity="0.35"/>
<circle cx="153.71" cy="367.44" r="0.77" fill="#d6dace" fill-opacity="0.66"/>
<circle cx="157.83" cy="353.51" r="0.68" fill="#d6dace" fill-opacity="0.67"/>
<circle cx="146.05" cy="349.94" r="0.75" fill="#d6dace" fill-opacity="0.31"/>
<circle cx="147.95" cy="382" r="0.54" fill="#d6dace" fill-opacity="0.44"/>
<circle cx="154.79" cy="378.14" r="0.45" fill="#d6dace" fill-opacity="0.59"/>
<circle cx="157.71" cy="356.91" r="0.49" fill="#d6dace" fill-opacity="0.51"/>
<circle cx="157.33" cy="367.61" r="0.57" fill="#d6dace" fill-opacity="0.47"/>
<circle cx="153.28" cy="354.25" r="0.68" fill="#d6dace" fill-opacity="0.56"/>
<circle cx="145.73" cy="372.95" r="0.78" fill="#d6dace" fill-opacity="0.54"/>
<circle cx="151.24" cy="385.09" r="0.76" fill="#d6dace" fill-opacity="0.66"/>
<circle cx="153.12" cy="360.66" r="0.54" fill="#d6dace" fill-opacity="0.67"/>
<circle cx="155.39" cy="393.53" r="0.46" fill="#d6dace" fill-opacity="0.4"/>
<circle cx="200.14" cy="384.28" r="0.52" fill="#d6dace" fill-opacity="0.34"/>
<circle cx="152.27" cy="387.92" r="0.46" fill="#d6dace" fill-opacity="0.46"/>
<circle cx="158.56" cy="381.9" r="0.41" fill="#d6dace" fill-opacity="0.38"/>
<circle cx="158.52" cy="398.18" r="0.45" fill="#d6dace" fill-opacity="0.5"/>
<circle cx="176.09" cy="386.09" r="0.63" fill="#d6dace" fill-opacity="0.57"/>
<circle cx="146.29" cy="348.6" r="0.42" fill="#d6dace" fill-opacity="0.52"/>
<circle cx="149.68" cy="372.1" r="0.66" fill="#d6dace" fill-opacity="0.36"/>
<circle cx="148.32" cy="390.81" r="0.85" fill="#d6dace" fill-opacity="0.67"/>
<circle cx="153.9" cy="347.98" r="0.43" fill="#d6dace" fill-opacity="0.68"/>
<circle cx="170.45" cy="361.29" r="0.61" fill="#d6dace" fill-opacity="0.51"/>
<circle cx="150.43" cy="367.23" r="0.67" fill="#d6dace" fill-opacity="0.31"/>
<circle cx="153.34" cy="352.92" r="0.6" fill="#d6dace" fill-opacity="0.6"/>
<circle cx="173.41" cy="365.8" r="0.49" fill="#d6dace" fill-opacity="0.37"/>
<circle cx="146.81" cy="393.86" r="0.76" fill="#d6dace" fill-opacity="0.58"/>
<circle cx="144.22" cy="391.99" r="0.68" fill="#d6dace" fill-opacity="0.46"/>
<circle cx="159.36" cy="399" r="0.76" fill="#d6dace" fill-opacity="0.4"/>
<circle cx="155.1" cy="394.9" r="0.73" fill="#d6dace" fill-opacity="0.61"/>
<circle cx="150.45" cy="394.05" r="0.8" fill="#d6dace" fill-opacity="0.58"/>
<circle cx="158.99" cy="386.62" r="0.74" fill="#d6dace" fill-opacity="0.46"/>
<circle cx="145.05" cy="362.15" r="0.61" fill="#d6dace" fill-opacity="0.3"/>
<circle cx="150.03" cy="362.95" r="0.69" fill="#d6dace" fill-opacity="0.55"/>
<circle cx="148.32" cy="380.8" r="0.55" fill="#d6dace" fill-opacity="0.56"/>
<circle cx="182.25" cy="375.25" r="0.64" fill="#d6dace" fill-opacity="0.46"/>
<circle cx="166.94" cy="382.82" r="0.74" fill="#d6dace" fill-opacity="0.69"/>
<circle cx="144.02" cy="343.81" r="0.68" fill="#d6dace" fill-opacity="0.6"/>
<circle cx="144.68" cy="345.4" r="0.49" fill="#d6dace" fill-opacity="0.45"/>
<circle cx="160.2" cy="348.16" r="0.51" fill="#d6dace" fill-opacity="0.66"/>
<circle cx="162.12" cy="398.11" r="0.66" fill="#d6dace" fill-opacity="0.7"/>
<circle cx="149.89" cy="379.19" r="0.76" fill="#d6dace" fill-opacity="0.33"/>
<circle cx="166.09" cy="345.09" r="0.82" fill="#d6dace" fill-opacity="0.36"/>
<circle cx="159.53" cy="369.63" r="0.48" fill="#d6dace" fill-opacity="0.5"/>
<circle cx="148.26" cy="396.85" r="0.59" fill="#d6dace" fill-opacity="0.51"/>
<circle cx="147.57" cy="376.88" r="0.56" fill="#d6dace" fill-opacity="0.41"/>
<circle cx="155.52" cy="358.8" r="0.72" fill="#d6dace" fill-opacity="0.42"/>
<circle cx="160.98" cy="343.31" r="0.51" fill="#d6dace" fill-opacity="0.32"/>
<circle cx="158.85" cy="364.92" r="0.8" fill="#d6dace" fill-opacity="0.6"/>
<circle cx="166.33" cy="345.38" r="0.84" fill="#d6dace" fill-opacity="0.68"/>
<circle cx="175.12" cy="367.2" r="0.61" fill="#d6dace" fill-opacity="0.69"/>
<circle cx="159.49" cy="356.51" r="0.64" fill="#d6dace" fill-opacity="0.67"/>
<circle cx="147.07" cy="398.78" r="0.77" fill="#d6dace" fill-opacity="0.54"/>
<circle cx="161.72" cy="349.12" r="0.68" fill="#d6dace" fill-opacity="0.48"/>
<circle cx="145.5" cy="372.87" r="0.46" fill="#d6dace" fill-opacity="0.48"/>
<circle cx="149.01" cy="380.9" r="0.6" fill="#d6dace" fill-opacity="0.4"/>
<circle cx="158.51" cy="387.23" r="0.64" fill="#d6dace" fill-opacity="0.7"/>
<circle cx="152.24" cy="397.28" r="0.73" fill="#d6dace" fill-opacity="0.4"/>
<circle cx="169.52" cy="387.6" r="0.68" fill="#d6dace" fill-opacity="0.44"/>
<circle cx="166.18" cy="358.11" r="0.71" fill="#d6dace" fill-opacity="0.53"/>
<circle cx="163" cy="385.82" r="0.49" fill="#d6dace" fill-opacity="0.4"/>
<circle cx="156.34" cy="398.83" r="0.81" fill="#d6dace" fill-opacity="0.65"/>
<circle cx="149.49" cy="358.08" r="0.59" fill="#d6dace" fill-opacity="0.55"/>
<circle cx="145.39" cy="348.39" r="0.64" fill="#d6dace" fill-opacity="0.33"/>
<circle cx="164.57" cy="374.16" r="0.68" fill="#d6dace" fill-opacity="0.45"/>
<circle cx="156.42" cy="370.02" r="0.49" fill="#d6dace" fill-opacity="0.44"/>
<circle cx="144.99" cy="346.77" r="0.45" fill="#d6dace" fill-opacity="0.62"/>
<circle cx="174.54" cy="378.36" r="0.75" fill="#d6dace" fill-opacity="0.39"/>
<circle cx="154.99" cy="389.07" r="0.57" fill="#d6dace" fill-opacity="0.56"/>
<circle cx="149.66" cy="399.38" r="0.55" fill="#d6dace" fill-opacity="0.52"/>
<circle cx="144.88" cy="367.09" r="0.57" fill="#d6dace" fill-opacity="0.34"/>
<circle cx="180.02" cy="392.82" r="0.44" fill="#d6dace" fill-opacity="0.33"/>
<circle cx="160.95" cy="381.91" r="0.53" fill="#d6dace" fill-opacity="0.61"/>
<circle cx="151.24" cy="346.87" r="0.5" fill="#d6dace" fill-opacity="0.56"/>
<circle cx="155.86" cy="384.19" r="0.71" fill="#d6dace" fill-opacity="0.41"/>
<circle cx="150.69" cy="350.72" r="0.56" fill="#d6dace" fill-opacity="0.59"/>
<circle cx="149.34" cy="383.28" r="0.66" fill="#d6dace" fill-opacity="0.67"/>
<circle cx="149.95" cy="396.55" r="0.81" fill="#d6dace" fill-opacity="0.48"/>
<circle cx="148.46" cy="360.76" r="0.58" fill="#d6dace" fill-opacity="0.67"/>
<circle cx="156.89" cy="393.95" r="0.51" fill="#d6dace" fill-opacity="0.44"/>
<circle cx="154.09" cy="365.25" r="0.57" fill="#d6dace" fill-opacity="0.38"/>
<circle cx="155.37" cy="374.92" r="0.76" fill="#d6dace" fill-opacity="0.52"/>
<circle cx="154.63" cy="352.65" r="0.74" fill="#d6dace" fill-opacity="0.65"/>
<circle cx="161.62" cy="358.68" r="0.41" fill="#d6dace" fill-opacity="0.51"/>
<circle cx="163.92" cy="398.07" r="0.69" fill="#d6dace" fill-opacity="0.62"/>
<circle cx="149.67" cy="346.18" r="0.65" fill="#d6dace" fill-opacity="0.62"/>
<circle cx="149.71" cy="384.88" r="0.8" fill="#d6dace" fill-opacity="0.33"/>
<circle cx="147.33" cy="378.96" r="0.46" fill="#d6dace" fill-opacity="0.6"/>
<circle cx="151.12" cy="355.18" r="0.74" fill="#d6dace" fill-opacity="0.51"/>
<circle cx="153.67" cy="386.47" r="0.58" fill="#d6dace" fill-opacity="0.44"/>
<circle cx="167.43" cy="370.89" r="0.64" fill="#d6dace" fill-opacity="0.59"/>
<circle cx="148.73" cy="383.22" r="0.81" fill="#d6dace" fill-opacity="0.46"/>
<circle cx="154.93" cy="391.58" r="0.76" fill="#d6dace" fill-opacity="0.63"/>
<circle cx="165.05" cy="393.6" r="0.83" fill="#d6dace" fill-opacity="0.56"/>
<circle cx="168.9" cy="388.63" r="0.59" fill="#d6dace" fill-opacity="0.47"/>
<circle cx="147.76" cy="350.91" r="0.73" fill="#d6dace" fill-opacity="0.7"/>
<circle cx="150.88" cy="354.25" r="0.59" fill="#d6dace" fill-opacity="0.42"/>
<circle cx="150.83" cy="398.26" r="0.43" fill="#d6dace" fill-opacity="0.42"/>
<circle cx="161.36" cy="387.12" r="0.48" fill="#d6dace" fill-opacity="0.32"/>
<circle cx="159.27" cy="368.88" r="0.66" fill="#d6dace" fill-opacity="0.66"/>
<circle cx="151.48" cy="353.11" r="0.5" fill="#d6dace" fill-opacity="0.39"/>
<circle cx="145.74" cy="383.74" r="0.67" fill="#d6dace" fill-opacity="0.39"/>
<circle cx="149.16" cy="352.42" r="0.74" fill="#d6dace" fill-opacity="0.42"/>
<circle cx="155.93" cy="374.02" r="0.77" fill="#d6dace" fill-opacity="0.49"/>
<circle cx="146.2" cy="395.07" r="0.55" fill="#d6dace" fill-opacity="0.52"/>
<circle cx="177.37" cy="397.53" r="0.62" fill="#d6dace" fill-opacity="0.39"/>
<circle cx="180.97" cy="388.58" r="0.57" fill="#d6dace" fill-opacity="0.51"/>
<circle cx="155.94" cy="372.16" r="0.52" fill="#d6dace" fill-opacity="0.7"/>
<circle cx="150.47" cy="343.13" r="0.61" fill="#d6dace" fill-opacity="0.45"/>
<circle cx="153.85" cy="388.31" r="0.72" fill="#d6dace" fill-opacity="0.54"/>
<circle cx="149.14" cy="361" r="0.52" fill="#d6dace" fill-opacity="0.65"/>
<circle cx="151.81" cy="372.18" r="0.69" fill="#d6dace" fill-opacity="0.7"/>
<circle cx="146.05" cy="351.16" r="0.75" fill="#d6dace" fill-opacity="0.3"/>
<circle cx="163.68" cy="389.73" r="0.78" fill="#d6dace" fill-opacity="0.63"/>
<circle cx="155.03" cy="383.7" r="0.44" fill="#d6dace" fill-opacity="0.49"/>
<circle cx="150.28" cy="369.45" r="0.83" fill="#d6dace" fill-opacity="0.53"/>
<circle cx="152.5" cy="387.89" r="0.59" fill="#d6dace" fill-opacity="0.67"/>
<circle cx="154.63" cy="347.73" r="0.77" fill="#d6dace" fill-opacity="0.38"/>
<circle cx="162.82" cy="351.56" r="0.77" fill="#d6dace" fill-opacity="0.42"/>
<circle cx="149.26" cy="360.37" r="0.43" fill="#d6dace" fill-opacity="0.42"/>
<circle cx="168.82" cy="363.18" r="0.71" fill="#d6dace" fill-opacity="0.34"/>
<circle cx="149.18" cy="365.17" r="0.61" fill="#d6dace" fill-opacity="0.69"/>
<circle cx="155.2" cy="343.21" r="0.57" fill="#d6dace" fill-opacity="0.58"/>
<circle cx="164.44" cy="356.15" r="0.65" fill="#d6dace" fill-opacity="0.48"/>
<circle cx="193.38" cy="388.47" r="0.49" fill="#d6dace" fill-opacity="0.55"/>
<circle cx="147.25" cy="359.2" r="0.57" fill="#d6dace" fill-opacity="0.52"/>
<circle cx="148.33" cy="365.05" r="0.7" fill="#d6dace" fill-opacity="0.4"/>
<circle cx="157.86" cy="354" r="0.73" fill="#d6dace" fill-opacity="0.43"/>
<circle cx="163.37" cy="384.12" r="0.55" fill="#d6dace" fill-opacity="0.63"/>
<circle cx="150.97" cy="347.81" r="0.46" fill="#d6dace" fill-opacity="0.34"/>
<circle cx="155.02" cy="352.84" r="0.58" fill="#d6dace" fill-opacity="0.63"/>
<circle cx="166.57" cy="376.58" r="0.44" fill="#d6dace" fill-opacity="0.39"/>
<circle cx="148.54" cy="365.89" r="0.43" fill="#d6dace" fill-opacity="0.67"/>
<circle cx="150.87" cy="367.05" r="0.63" fill="#d6dace" fill-opacity="0.56"/>
<circle cx="147.14" cy="364.69" r="0.55" fill="#d6dace" fill-opacity="0.46"/>
<circle cx="173.52" cy="343.39" r="0.58" fill="#d6dace" fill-opacity="0.58"/>
<circle cx="172.07" cy="380.46" r="0.67" fill="#d6dace" fill-opacity="0.31"/>
<circle cx="147.2" cy="361.53" r="0.55" fill="#d6dace" fill-opacity="0.56"/>
<circle cx="156.23" cy="371.79" r="0.75" fill="#d6dace" fill-opacity="0.63"/>
<circle cx="153.65" cy="377.66" r="0.47" fill="#d6dace" fill-opacity="0.61"/>
<circle cx="160.54" cy="362.77" r="0.63" fill="#d6dace" fill-opacity="0.36"/>
<circle cx="155.55" cy="383.52" r="0.84" fill="#d6dace" fill-opacity="0.51"/>
<circle cx="150.56" cy="353.84" r="0.83" fill="#d6dace" fill-opacity="0.55"/>
<circle cx="173.68" cy="353.88" r="0.44" fill="#d6dace" fill-opacity="0.4"/>
<circle cx="165.93" cy="361.43" r="0.82" fill="#d6dace" fill-opacity="0.44"/>
<circle cx="155.43" cy="369.12" r="0.46" fill="#d6dace" fill-opacity="0.69"/>
<circle cx="166.81" cy="373.75" r="0.65" fill="#d6dace" fill-opacity="0.52"/>
<circle cx="170.07" cy="357.7" r="0.81" fill="#d6dace" fill-opacity="0.7"/>
<circle cx="152.93" cy="349.55" r="0.77" fill="#d6dace" fill-opacity="0.42"/>
<circle cx="163.78" cy="394.08" r="0.51" fill="#d6dace" fill-opacity="0.53"/>
<circle cx="148.98" cy="374" r="0.43" fill="#d6dace" fill-opacity="0.31"/>
<circle cx="152.96" cy="352.85" r="0.84" fill="#d6dace" fill-opacity="0.68"/>
<circle cx="151.47" cy="381.1" r="0.73" fill="#d6dace" fill-opacity="0.45"/>
<circle cx="155.51" cy="376.53" r="0.76" fill="#d6dace" fill-opacity="0.31"/>
<circle cx="149.6" cy="350.72" r="0.57" fill="#d6dace" fill-opacity="0.53"/>
<circle cx="161.08" cy="352.49" r="0.63" fill="#d6dace" fill-opacity="0.41"/>
<circle cx="157.08" cy="379.4" r="0.42" fill="#d6dace" fill-opacity="0.57"/>
<circle cx="149.96" cy="350.82" r="0.83" fill="#d6dace" fill-opacity="0.54"/>
<circle cx="160.18" cy="378.37" r="0.71" fill="#d6dace" fill-opacity="0.6"/>
<circle cx="147.1" cy="385.72" r="0.62" fill="#d6dace" fill-opacity="0.7"/>
<circle cx="160.56" cy="366.02" r="0.6" fill="#d6dace" fill-opacity="0.53"/>
<circle cx="170.74" cy="394.55" r="0.64" fill="#d6dace" fill-opacity="0.51"/>
<circle cx="175.56" cy="360.94" r="0.42" fill="#d6dace" fill-opacity="0.59"/>
<circle cx="158.32" cy="394.26" r="0.73" fill="#d6dace" fill-opacity="0.54"/>
<circle cx="144.16" cy="376.62" r="0.43" fill="#d6dace" fill-opacity="0.35"/>
<circle cx="157.64" cy="368.2" r="0.63" fill="#d6dace" fill-opacity="0.46"/>
<circle cx="167.35" cy="372.76" r="0.51" fill="#d6dace" fill-opacity="0.42"/>
<circle cx="151.91" cy="365.24" r="0.51" fill="#d6dace" fill-opacity="0.33"/>
<circle cx="179.38" cy="380.78" r="0.79" fill="#d6dace" fill-opacity="0.47"/>
<circle cx="166.05" cy="388.8" r="0.5" fill="#d6dace" fill-opacity="0.6"/>
<circle cx="175.59" cy="348.17" r="0.76" fill="#d6dace" fill-opacity="0.35"/>
<circle cx="158.1" cy="373.41" r="0.83" fill="#d6dace" fill-opacity="0.3"/>
<circle cx="144.51" cy="361.17" r="0.43" fill="#d6dace" fill-opacity="0.66"/>
<circle cx="157.48" cy="389.39" r="0.58" fill="#d6dace" fill-opacity="0.44"/>
<circle cx="148.21" cy="344.29" r="0.8" fill="#d6dace" fill-opacity="0.42"/>
<circle cx="146.51" cy="371.16" r="0.82" fill="#d6dace" fill-opacity="0.69"/>
<circle cx="154.72" cy="359.48" r="0.82" fill="#d6dace" fill-opacity="0.66"/>
<circle cx="145.86" cy="353.74" r="0.78" fill="#d6dace" fill-opacity="0.44"/>
<circle cx="153.68" cy="393.08" r="0.85" fill="#d6dace" fill-opacity="0.38"/>
<circle cx="145.69" cy="378.86" r="0.49" fill="#d6dace" fill-opacity="0.65"/>
<circle cx="151.21" cy="384.23" r="0.54" fill="#d6dace" fill-opacity="0.66"/>
<circle cx="146.34" cy="392.5" r="0.72" fill="#d6dace" fill-opacity="0.35"/>
<circle cx="156.56" cy="368.1" r="0.44" fill="#d6dace" fill-opacity="0.39"/>
<circle cx="179.56" cy="360.16" r="0.72" fill="#d6dace" fill-opacity="0.38"/>
<circle cx="148.92" cy="380.71" r="0.76" fill="#d6dace" fill-opacity="0.45"/>
<circle cx="154.64" cy="380.57" r="0.8" fill="#d6dace" fill-opacity="0.54"/>
<circle cx="145.78" cy="395.79" r="0.7" fill="#d6dace" fill-opacity="0.41"/>
<circle cx="157.42" cy="379.3" r="0.44" fill="#d6dace" fill-opacity="0.69"/>
<circle cx="162.25" cy="373.02" r="0.42" fill="#d6dace" fill-opacity="0.54"/>
<circle cx="151.18" cy="358.86" r="0.51" fill="#d6dace" fill-opacity="0.62"/>
<circle cx="155.19" cy="385.95" r="0.51" fill="#d6dace" fill-opacity="0.41"/>
<circle cx="150.83" cy="374.02" r="0.48" fill="#d6dace" fill-opacity="0.66"/>
<circle cx="148.17" cy="369.04" r="0.74" fill="#d6dace" fill-opacity="0.45"/>
<circle cx="144.32" cy="395.93" r="0.62" fill="#d6dace" fill-opacity="0.37"/>
<circle cx="165.62" cy="363.18" r="0.7" fill="#d6dace" fill-opacity="0.61"/>
<circle cx="151.94" cy="372.21" r="0.63" fill="#d6dace" fill-opacity="0.64"/>
<circle cx="151.79" cy="397.21" r="0.48" fill="#d6dace" fill-opacity="0.61"/>
<circle cx="161.77" cy="352" r="0.67" fill="#d6dace" fill-opacity="0.39"/>
<circle cx="169.65" cy="387.73" r="0.76" fill="#d6dace" fill-opacity="0.39"/>
<circle cx="154.07" cy="370.62" r="0.5" fill="#d6dace" fill-opacity="0.53"/>
<circle cx="148.29" cy="376.82" r="0.72" fill="#d6dace" fill-opacity="0.53"/>
<circle cx="144.03" cy="392.69" r="0.48" fill="#d6dace" fill-opacity="0.36"/>
<circle cx="162.62" cy="367.49" r="0.6" fill="#d6dace" fill-opacity="0.41"/>
<circle cx="146.09" cy="388.41" r="0.43" fill="#d6dace" fill-opacity="0.66"/>
<circle cx="162.18" cy="388.02" r="0.51" fill="#d6dace" fill-opacity="0.36"/>
<circle cx="152.4" cy="360.38" r="0.42" fill="#d6dace" fill-opacity="0.43"/>
<circle cx="158.14" cy="357.72" r="0.66" fill="#d6dace" fill-opacity="0.34"/>
<circle cx="157.48" cy="389.68" r="0.48" fill="#d6dace" fill-opacity="0.4"/>
<circle cx="157.16" cy="390.28" r="0.75" fill="#d6dace" fill-opacity="0.32"/>
<circle cx="164.68" cy="366.11" r="0.56" fill="#d6dace" fill-opacity="0.39"/>
<circle cx="148.61" cy="370.65" r="0.74" fill="#d6dace" fill-opacity="0.69"/>
<circle cx="144.86" cy="350.81" r="0.6" fill="#d6dace" fill-opacity="0.6"/>
<circle cx="155.51" cy="393.68" r="0.46" fill="#d6dace" fill-opacity="0.46"/>
<circle cx="146.9" cy="359.64" r="0.59" fill="#d6dace" fill-opacity="0.33"/>
<circle cx="196.09" cy="386.39" r="0.73" fill="#d6dace" fill-opacity="0.39"/>
<circle cx="155.39" cy="357.06" r="0.65" fill="#d6dace" fill-opacity="0.4"/>
<circle cx="180.07" cy="363.43" r="0.55" fill="#d6dace" fill-opacity="0.69"/>
<circle cx="152.89" cy="377.63" r="0.42" fill="#d6dace" fill-opacity="0.46"/>
<circle cx="147.27" cy="362.23" r="0.71" fill="#d6dace" fill-opacity="0.65"/>
<circle cx="148.49" cy="376.46" r="0.8" fill="#d6dace" fill-opacity="0.49"/>
<circle cx="168.08" cy="364.42" r="0.75" fill="#d6dace" fill-opacity="0.39"/>
<circle cx="163.19" cy="362.48" r="0.48" fill="#d6dace" fill-opacity="0.52"/>
<circle cx="149.56" cy="354.83" r="0.61" fill="#d6dace" fill-opacity="0.42"/>
<circle cx="153.25" cy="368.21" r="0.85" fill="#d6dace" fill-opacity="0.57"/>
<circle cx="151.04" cy="364.52" r="0.43" fill="#d6dace" fill-opacity="0.58"/>
<circle cx="152.22" cy="363.36" r="0.52" fill="#d6dace" fill-opacity="0.31"/>
<circle cx="149.17" cy="365.1" r="0.82" fill="#d6dace" fill-opacity="0.59"/>
<circle cx="155.36" cy="357.95" r="0.56" fill="#d6dace" fill-opacity="0.36"/>
<circle cx="157.93" cy="386.53" r="0.73" fill="#d6dace" fill-opacity="0.66"/>
<circle cx="149.86" cy="343.67" r="0.54" fill="#d6dace" fill-opacity="0.45"/>
<circle cx="172.69" cy="361.2" r="0.75" fill="#d6dace" fill-opacity="0.51"/>
<circle cx="160.52" cy="345.66" r="0.58" fill="#d6dace" fill-opacity="0.4"/>
<circle cx="152.85" cy="376.74" r="0.41" fill="#d6dace" fill-opacity="0.42"/>
<circle cx="146.32" cy="366.88" r="0.64" fill="#d6dace" fill-opacity="0.35"/>
<circle cx="147.35" cy="384.22" r="0.7" fill="#d6dace" fill-opacity="0.36"/>
<circle cx="155.97" cy="354.28" r="0.53" fill="#d6dace" fill-opacity="0.59"/>
<circle cx="157.1" cy="392.29" r="0.5" fill="#d6dace" fill-opacity="0.42"/>
<circle cx="152.86" cy="362.34" r="0.5" fill="#d6dace" fill-opacity="0.32"/>
<circle cx="166.31" cy="375.04" r="0.76" fill="#d6dace" fill-opacity="0.69"/>
<circle cx="147.46" cy="359.64" r="0.7" fill="#d6dace" fill-opacity="0.67"/>
<circle cx="149.16" cy="380.83" r="0.83" fill="#d6dace" fill-opacity="0.65"/>
<circle cx="167.91" cy="355.99" r="0.68" fill="#d6dace" fill-opacity="0.34"/>
<circle cx="158.35" cy="345.96" r="0.57" fill="#d6dace" fill-opacity="0.43"/>
<circle cx="151.01" cy="371.08" r="0.53" fill="#d6dace" fill-opacity="0.36"/>
<circle cx="158.86" cy="352.09" r="0.7" fill="#d6dace" fill-opacity="0.4"/>
<circle cx="154.45" cy="347.85" r="0.55" fill="#d6dace" fill-opacity="0.47"/>
<circle cx="156.35" cy="382.83" r="0.65" fill="#d6dace" fill-opacity="0.58"/>
<circle cx="161.17" cy="343.83" r="0.58" fill="#d6dace" fill-opacity="0.45"/>
<circle cx="159.03" cy="345.64" r="0.62" fill="#d6dace" fill-opacity="0.53"/>
<circle cx="150.27" cy="369.46" r="0.55" fill="#d6dace" fill-opacity="0.4"/>
<circle cx="158.61" cy="393.78" r="0.65" fill="#d6dace" fill-opacity="0.4"/>
<circle cx="146.18" cy="380.91" r="0.48" fill="#d6dace" fill-opacity="0.49"/>
<circle cx="173.81" cy="363.35" r="0.66" fill="#d6dace" fill-opacity="0.68"/>
<circle cx="170.37" cy="386.86" r="0.68" fill="#d6dace" fill-opacity="0.55"/>
<circle cx="158.05" cy="358.38" r="0.77" fill="#d6dace" fill-opacity="0.65"/>
<circle cx="152.8" cy="364.46" r="0.81" fill="#d6dace" fill-opacity="0.32"/>
<circle cx="156.51" cy="360.24" r="0.56" fill="#d6dace" fill-opacity="0.69"/>
<circle cx="158.34" cy="351.12" r="0.49" fill="#d6dace" fill-opacity="0.39"/>
<circle cx="148.97" cy="342.55" r="0.64" fill="#d6dace" fill-opacity="0.46"/>
<circle cx="154.59" cy="356.26" r="0.62" fill="#d6dace" fill-opacity="0.56"/>
<circle cx="165.37" cy="374.74" r="0.77" fill="#d6dace" fill-opacity="0.69"/>
<circle cx="150.67" cy="361.68" r="0.56" fill="#d6dace" fill-opacity="0.65"/>
<circle cx="153.84" cy="382.48" r="0.71" fill="#d6dace" fill-opacity="0.69"/>
<circle cx="167.4" cy="389.9" r="0.47" fill="#d6dace" fill-opacity="0.55"/>
<circle cx="164.58" cy="363.75" r="0.53" fill="#d6dace" fill-opacity="0.6"/>
<circle cx="145.21" cy="373.2" r="0.51" fill="#d6dace" fill-opacity="0.4"/>
<circle cx="148.54" cy="372.04" r="0.46" fill="#d6dace" fill-opacity="0.33"/>
<circle cx="152.92" cy="346.45" r="0.45" fill="#d6dace" fill-opacity="0.58"/>
<circle cx="157.32" cy="386.9" r="0.62" fill="#d6dace" fill-opacity="0.37"/>
<circle cx="155.41" cy="392.31" r="0.79" fill="#d6dace" fill-opacity="0.32"/>
<circle cx="144.47" cy="388.3" r="0.58" fill="#d6dace" fill-opacity="0.59"/>
<circle cx="163.04" cy="356.98" r="0.72" fill="#d6dace" fill-opacity="0.43"/>
<circle cx="157.58" cy="390.96" r="0.77" fill="#d6dace" fill-opacity="0.53"/>
<circle cx="167.34" cy="366.68" r="0.72" fill="#d6dace" fill-opacity="0.55"/>
<circle cx="158.01" cy="349.7" r="0.57" fill="#d6dace" fill-opacity="0.57"/>
<circle cx="169.12" cy="355.78" r="0.48" fill="#d6dace" fill-opacity="0.31"/>
<circle cx="176.7" cy="398.3" r="0.46" fill="#d6dace" fill-opacity="0.58"/>
<circle cx="163.49" cy="366.61" r="0.68" fill="#d6dace" fill-opacity="0.46"/>
<circle cx="187.82" cy="345.3" r="0.72" fill="#d6dace" fill-opacity="0.35"/>
<circle cx="163.49" cy="344.94" r="0.53" fill="#d6dace" fill-opacity="0.59"/>
<circle cx="152.09" cy="361.48" r="0.41" fill="#d6dace" fill-opacity="0.52"/>
<circle cx="144.32" cy="370.28" r="0.57" fill="#d6dace" fill-opacity="0.42"/>
<circle cx="153.53" cy="358.81" r="0.58" fill="#d6dace" fill-opacity="0.55"/>
<circle cx="173.04" cy="386.51" r="0.84" fill="#d6dace" fill-opacity="0.46"/>
<circle cx="150.92" cy="388.51" r="0.47" fill="#d6dace" fill-opacity="0.37"/>
<circle cx="162.88" cy="348.66" r="0.82" fill="#d6dace" fill-opacity="0.4"/>
<circle cx="152.08" cy="361.11" r="0.41" fill="#d6dace" fill-opacity="0.53"/>
<circle cx="144.6" cy="350.76" r="0.68" fill="#d6dace" fill-opacity="0.41"/>
<circle cx="146.58" cy="363.54" r="0.52" fill="#d6dace" fill-opacity="0.32"/>
<circle cx="162.17" cy="346.2" r="0.8" fill="#d6dace" fill-opacity="0.42"/>
<circle cx="152.95" cy="370.3" r="0.85" fill="#d6dace" fill-opacity="0.38"/>
<circle cx="148.8" cy="392.37" r="0.62" fill="#d6dace" fill-opacity="0.47"/>
<circle cx="149.63" cy="345.81" r="0.65" fill="#d6dace" fill-opacity="0.56"/>
<circle cx="159.05" cy="378.32" r="0.52" fill="#d6dace" fill-opacity="0.68"/>
<circle cx="177.91" cy="367.98" r="0.78" fill="#d6dace" fill-opacity="0.59"/>
<circle cx="182.66" cy="352.61" r="0.41" fill="#d6dace" fill-opacity="0.37"/>
<circle cx="148.63" cy="363.14" r="0.74" fill="#d6dace" fill-opacity="0.42"/>
<circle cx="148.28" cy="372.07" r="0.4" fill="#d6dace" fill-opacity="0.38"/>
<circle cx="146.31" cy="372.82" r="0.76" fill="#d6dace" fill-opacity="0.62"/>
<circle cx="144.6" cy="384.79" r="0.58" fill="#d6dace" fill-opacity="0.62"/>
<circle cx="156.82" cy="399.19" r="0.45" fill="#d6dace" fill-opacity="0.68"/>
<circle cx="168.15" cy="365.63" r="0.72" fill="#d6dace" fill-opacity="0.4"/>
<circle cx="146.94" cy="375.67" r="0.5" fill="#d6dace" fill-opacity="0.46"/>
<circle cx="145.88" cy="363.74" r="0.7" fill="#d6dace" fill-opacity="0.62"/>
<circle cx="159.05" cy="362.86" r="0.53" fill="#d6dace" fill-opacity="0.66"/>
<circle cx="161.14" cy="360.99" r="0.44" fill="#d6dace" fill-opacity="0.43"/>
<circle cx="144.58" cy="385.23" r="0.65" fill="#d6dace" fill-opacity="0.57"/>
<circle cx="155.01" cy="352.69" r="0.45" fill="#d6dace" fill-opacity="0.36"/>
<circle cx="154.01" cy="343.04" r="0.63" fill="#d6dace" fill-opacity="0.46"/>
<circle cx="157.72" cy="360.99" r="0.64" fill="#d6dace" fill-opacity="0.68"/>
<circle cx="153.26" cy="360.95" r="0.74" fill="#d6dace" fill-opacity="0.34"/>
<circle cx="175.65" cy="399.28" r="0.59" fill="#d6dace" fill-opacity="0.69"/>
<circle cx="147.11" cy="383.1" r="0.48" fill="#d6dace" fill-opacity="0.41"/>
<circle cx="160.09" cy="381.44" r="0.83" fill="#d6dace" fill-opacity="0.43"/>
<circle cx="150.11" cy="399.39" r="0.47" fill="#d6dace" fill-opacity="0.55"/>
<circle cx="157.75" cy="364.24" r="0.69" fill="#d6dace" fill-opacity="0.38"/>
<circle cx="168.92" cy="391.74" r="0.68" fill="#d6dace" fill-opacity="0.5"/>
<circle cx="166.32" cy="375.14" r="0.45" fill="#d6dace" fill-opacity="0.63"/>
<circle cx="150.49" cy="380.76" r="0.59" fill="#d6dace" fill-opacity="0.45"/>
<circle cx="160.34" cy="355.73" r="0.67" fill="#d6dace" fill-opacity="0.53"/>
<circle cx="148.08" cy="378.57" r="0.6" fill="#d6dace" fill-opacity="0.54"/>
<circle cx="144.39" cy="376.69" r="0.82" fill="#d6dace" fill-opacity="0.36"/>
<circle cx="193.34" cy="384.93" r="0.54" fill="#d6dace" fill-opacity="0.59"/>
<circle cx="153.84" cy="399.39" r="0.58" fill="#d6dace" fill-opacity="0.65"/>
<circle cx="178" cy="370.74" r="0.51" fill="#d6dace" fill-opacity="0.64"/>
<circle cx="178.72" cy="379.83" r="0.82" fill="#d6dace" fill-opacity="0.63"/>
<circle cx="149.65" cy="399.64" r="0.43" fill="#d6dace" fill-opacity="0.65"/>
<circle cx="162.3" cy="383.42" r="0.51" fill="#d6dace" fill-opacity="0.62"/>
<circle cx="163.02" cy="392.27" r="0.49" fill="#d6dace" fill-opacity="0.41"/>
<circle cx="149.65" cy="379.51" r="0.43" fill="#d6dace" fill-opacity="0.52"/>
<circle cx="148.3" cy="356.4" r="0.76" fill="#d6dace" fill-opacity="0.64"/>
<circle cx="162.08" cy="386.82" r="0.65" fill="#d6dace" fill-opacity="0.66"/>
<circle cx="146.66" cy="363.54" r="0.45" fill="#d6dace" fill-opacity="0.31"/>
<circle cx="152.79" cy="362.38" r="0.79" fill="#d6dace" fill-opacity="0.63"/>
<circle cx="151.5" cy="364.85" r="0.78" fill="#d6dace" fill-opacity="0.55"/>
<circle cx="150.81" cy="394.35" r="0.43" fill="#d6dace" fill-opacity="0.7"/>
<circle cx="150.05" cy="392.9" r="0.73" fill="#d6dace" fill-opacity="0.38"/>
<circle cx="165.71" cy="380.93" r="0.59" fill="#d6dace" fill-opacity="0.31"/>
<circle cx="151.43" cy="378.71" r="0.53" fill="#d6dace" fill-opacity="0.54"/>
<circle cx="155.78" cy="382.45" r="0.48" fill="#d6dace" fill-opacity="0.35"/>
<circle cx="150.21" cy="349.92" r="0.45" fill="#d6dace" fill-opacity="0.68"/>
<circle cx="160.83" cy="377.58" r="0.56" fill="#d6dace" fill-opacity="0.38"/>
<circle cx="168.53" cy="384.83" r="0.56" fill="#d6dace" fill-opacity="0.42"/>
<circle cx="144.8" cy="365.98" r="0.47" fill="#d6dace" fill-opacity="0.55"/>
<circle cx="170.38" cy="366.02" r="0.61" fill="#d6dace" fill-opacity="0.5"/>
<circle cx="157.5" cy="396.65" r="0.56" fill="#d6dace" fill-opacity="0.58"/>
<circle cx="145.97" cy="358.88" r="0.79" fill="#d6dace" fill-opacity="0.41"/>
<circle cx="164.96" cy="391.63" r="0.7" fill="#d6dace" fill-opacity="0.48"/>
<circle cx="158.49" cy="385.24" r="0.67" fill="#d6dace" fill-opacity="0.48"/>
<circle cx="150.41" cy="346.19" r="0.59" fill="#d6dace" fill-opacity="0.41"/>
<circle cx="181.07" cy="359.34" r="0.71" fill="#d6dace" fill-opacity="0.57"/>
<circle cx="158.43" cy="356.57" r="0.59" fill="#d6dace" fill-opacity="0.35"/>
<circle cx="153.64" cy="366.69" r="0.55" fill="#d6dace" fill-opacity="0.63"/>
<circle cx="151.44" cy="391.39" r="0.67" fill="#d6dace" fill-opacity="0.52"/>
<circle cx="171.64" cy="347.58" r="0.56" fill="#d6dace" fill-opacity="0.45"/>
<circle cx="163.93" cy="384.08" r="0.7" fill="#d6dace" fill-opacity="0.44"/>
<circle cx="175.34" cy="343.84" r="0.68" fill="#d6dace" fill-opacity="0.49"/>
<circle cx="167.41" cy="363.3" r="0.61" fill="#d6dace" fill-opacity="0.43"/>
<circle cx="154.41" cy="398.3" r="0.84" fill="#d6dace" fill-opacity="0.7"/>
<circle cx="163.18" cy="365.22" r="0.77" fill="#d6dace" fill-opacity="0.56"/>
<circle cx="160.84" cy="346.33" r="0.61" fill="#d6dace" fill-opacity="0.46"/>
<circle cx="197.02" cy="380.22" r="0.5" fill="#d6dace" fill-opacity="0.7"/>
<circle cx="147.88" cy="350.72" r="0.58" fill="#d6dace" fill-opacity="0.6"/>
<circle cx="158.88" cy="347.3" r="0.48" fill="#d6dace" fill-opacity="0.56"/>
<circle cx="162.86" cy="357.07" r="0.77" fill="#d6dace" fill-opacity="0.59"/>
<circle cx="162.39" cy="387.12" r="0.45" fill="#d6dace" fill-opacity="0.49"/>
<circle cx="175.55" cy="396.81" r="0.8" fill="#d6dace" fill-opacity="0.31"/>
<circle cx="147.14" cy="362.69" r="0.64" fill="#d6dace" fill-opacity="0.51"/>
<circle cx="165.62" cy="359.84" r="0.63" fill="#d6dace" fill-opacity="0.35"/>
<circle cx="162.16" cy="375.15" r="0.46" fill="#d6dace" fill-opacity="0.34"/>
<circle cx="157.31" cy="387.2" r="0.51" fill="#d6dace" fill-opacity="0.47"/>
<circle cx="145.02" cy="345.62" r="0.5" fill="#d6dace" fill-opacity="0.48"/>
<circle cx="160.58" cy="391.42" r="0.45" fill="#d6dace" fill-opacity="0.64"/>
<circle cx="150.34" cy="351.4" r="0.84" fill="#d6dace" fill-opacity="0.51"/>
<circle cx="162.33" cy="392.17" r="0.83" fill="#d6dace" fill-opacity="0.47"/>
<circle cx="156.21" cy="343.12" r="0.47" fill="#d6dace" fill-opacity="0.63"/>
<circle cx="146.47" cy="351.5" r="0.64" fill="#d6dace" fill-opacity="0.31"/>
<circle cx="169.15" cy="348.84" r="0.54" fill="#d6dace" fill-opacity="0.69"/>
<circle cx="163.32" cy="345.15" r="0.59" fill="#d6dace" fill-opacity="0.33"/>
<circle cx="168.29" cy="357.5" r="0.45" fill="#d6dace" fill-opacity="0.67"/>
<circle cx="152.81" cy="380.11" r="0.8" fill="#d6dace" fill-opacity="0.68"/>
<circle cx="160.31" cy="375.15" r="0.63" fill="#d6dace" fill-opacity="0.66"/>
<circle cx="154.64" cy="385.01" r="0.52" fill="#d6dace" fill-opacity="0.45"/>
<circle cx="152.31" cy="367.18" r="0.61" fill="#d6dace" fill-opacity="0.44"/>
<circle cx="159.87" cy="345.35" r="0.78" fill="#d6dace" fill-opacity="0.32"/>
<circle cx="151.41" cy="372.85" r="0.65" fill="#d6dace" fill-opacity="0.46"/>
<circle cx="145.25" cy="363.89" r="0.54" fill="#d6dace" fill-opacity="0.49"/>
<circle cx="151.21" cy="355.74" r="0.74" fill="#d6dace" fill-opacity="0.49"/>
<circle cx="160.32" cy="398.06" r="0.4" fill="#d6dace" fill-opacity="0.54"/>
<circle cx="144.92" cy="397.75" r="0.56" fill="#d6dace" fill-opacity="0.54"/>
<circle cx="153.2" cy="377.53" r="0.67" fill="#d6dace" fill-opacity="0.43"/>
<circle cx="153.94" cy="371.11" r="0.63" fill="#d6dace" fill-opacity="0.6"/>
<circle cx="150.67" cy="356.99" r="0.52" fill="#d6dace" fill-opacity="0.62"/>
<circle cx="146.31" cy="366.97" r="0.79" fill="#d6dace" fill-opacity="0.46"/>
<circle cx="149.38" cy="347.41" r="0.84" fill="#d6dace" fill-opacity="0.63"/>
<circle cx="167.54" cy="361.37" r="0.54" fill="#d6dace" fill-opacity="0.63"/>
<circle cx="149.47" cy="345.76" r="0.74" fill="#d6dace" fill-opacity="0.32"/>
<circle cx="166.28" cy="378.42" r="0.65" fill="#d6dace" fill-opacity="0.67"/>
<circle cx="146.19" cy="396.22" r="0.74" fill="#d6dace" fill-opacity="0.53"/>
<circle cx="146.6" cy="342.82" r="0.73" fill="#d6dace" fill-opacity="0.47"/>
<circle cx="163.64" cy="395.21" r="0.43" fill="#d6dace" fill-opacity="0.61"/>
<circle cx="185.49" cy="367.83" r="0.74" fill="#d6dace" fill-opacity="0.45"/>
<circle cx="160.23" cy="349.28" r="0.54" fill="#d6dace" fill-opacity="0.59"/>
<circle cx="149.54" cy="346.61" r="0.45" fill="#d6dace" fill-opacity="0.63"/>
<circle cx="154.13" cy="349.01" r="0.45" fill="#d6dace" fill-opacity="0.42"/>
<circle cx="161.44" cy="397.35" r="0.65" fill="#d6dace" fill-opacity="0.67"/>
<circle cx="148" cy="373.34" r="0.78" fill="#d6dace" fill-opacity="0.35"/>
<circle cx="160.07" cy="392.74" r="0.61" fill="#d6dace" fill-opacity="0.31"/>
<circle cx="158.18" cy="381.28" r="0.82" fill="#d6dace" fill-opacity="0.5"/>
<circle cx="150.46" cy="382.15" r="0.57" fill="#d6dace" fill-opacity="0.61"/>
<circle cx="164.8" cy="352.07" r="0.66" fill="#d6dace" fill-opacity="0.38"/>
<circle cx="160.18" cy="362.41" r="0.47" fill="#d6dace" fill-opacity="0.44"/>
<circle cx="160.27" cy="364.84" r="0.66" fill="#d6dace" fill-opacity="0.64"/>
<circle cx="154.53" cy="363.1" r="0.66" fill="#d6dace" fill-opacity="0.49"/>
<circle cx="158.16" cy="382.6" r="0.51" fill="#d6dace" fill-opacity="0.4"/>
<circle cx="145.73" cy="384.5" r="0.66" fill="#d6dace" fill-opacity="0.4"/>
<circle cx="171.47" cy="364.21" r="0.72" fill="#d6dace" fill-opacity="0.47"/>
<circle cx="155.72" cy="378.01" r="0.65" fill="#d6dace" fill-opacity="0.69"/>
<circle cx="158.88" cy="370.49" r="0.5" fill="#d6dace" fill-opacity="0.6"/>
<circle cx="153.49" cy="348.38" r="0.54" fill="#d6dace" fill-opacity="0.64"/>
<circle cx="168.18" cy="375.16" r="0.65" fill="#d6dace" fill-opacity="0.43"/>
<circle cx="149.42" cy="351.21" r="0.83" fill="#d6dace" fill-opacity="0.61"/>
<circle cx="146.49" cy="387.58" r="0.5" fill="#d6dace" fill-opacity="0.38"/>
<circle cx="150.81" cy="373.26" r="0.67" fill="#d6dace" fill-opacity="0.35"/>
<circle cx="145.97" cy="394.21" r="0.82" fill="#d6dace" fill-opacity="0.58"/>
<circle cx="165.05" cy="363.43" r="0.83" fill="#d6dace" fill-opacity="0.59"/>
<circle cx="152.03" cy="384.3" r="0.52" fill="#d6dace" fill-opacity="0.4"/>
<circle cx="174.55" cy="343.67" r="0.64" fill="#d6dace" fill-opacity="0.4"/>
<circle cx="147.26" cy="350.06" r="0.62" fill="#d6dace" fill-opacity="0.41"/>
<circle cx="155.77" cy="358.89" r="0.52" fill="#d6dace" fill-opacity="0.5"/>
<circle cx="150.63" cy="391.93" r="0.78" fill="#d6dace" fill-opacity="0.54"/>
<circle cx="150.73" cy="373.77" r="0.73" fill="#d6dace" fill-opacity="0.51"/>
<circle cx="163.24" cy="387.07" r="0.52" fill="#d6dace" fill-opacity="0.32"/>
<circle cx="174.3" cy="396.36" r="0.56" fill="#d6dace" fill-opacity="0.61"/>
<circle cx="145.83" cy="363.8" r="0.73" fill="#d6dace" fill-opacity="0.68"/>
<circle cx="161.48" cy="371.57" r="0.65" fill="#d6dace" fill-opacity="0.44"/>
<circle cx="148.37" cy="348.84" r="0.82" fill="#d6dace" fill-opacity="0.56"/>
<circle cx="182.9" cy="346.63" r="0.81" fill="#d6dace" fill-opacity="0.34"/>
<circle cx="151.41" cy="399.36" r="0.54" fill="#d6dace" fill-opacity="0.65"/>
<circle cx="147.23" cy="346.03" r="0.7" fill="#d6dace" fill-opacity="0.33"/>
<circle cx="164.45" cy="399.01" r="0.71" fill="#d6dace" fill-opacity="0.64"/>
<circle cx="147.86" cy="387.63" r="0.63" fill="#d6dace" fill-opacity="0.33"/>
<circle cx="154.07" cy="372.79" r="0.56" fill="#d6dace" fill-opacity="0.5"/>
<circle cx="145.73" cy="353.86" r="0.72" fill="#d6dace" fill-opacity="0.47"/>
<circle cx="150.45" cy="370.5" r="0.65" fill="#d6dace" fill-opacity="0.69"/>
<circle cx="144.57" cy="374.78" r="0.46" fill="#d6dace" fill-opacity="0.42"/>
<circle cx="156.76" cy="396.49" r="0.84" fill="#d6dace" fill-opacity="0.68"/>
<circle cx="165.38" cy="395.71" r="0.79" fill="#d6dace" fill-opacity="0.67"/>
<circle cx="162.41" cy="376.46" r="0.71" fill="#d6dace" fill-opacity="0.55"/>
<circle cx="146.35" cy="377.76" r="0.82" fill="#d6dace" fill-opacity="0.33"/>
<circle cx="184.22" cy="344.33" r="0.45" fill="#d6dace" fill-opacity="0.65"/>
<circle cx="148.89" cy="397.54" r="0.41" fill="#d6dace" fill-opacity="0.31"/>
<circle cx="155.74" cy="372.39" r="0.66" fill="#d6dace" fill-opacity="0.6"/>
<circle cx="165.43" cy="388.95" r="0.4" fill="#d6dace" fill-opacity="0.33"/>
<circle cx="155.93" cy="390.42" r="0.58" fill="#d6dace" fill-opacity="0.43"/>
<circle cx="185.89" cy="362.44" r="0.41" fill="#d6dace" fill-opacity="0.61"/>
<circle cx="145.53" cy="372.75" r="0.53" fill="#7c8883" fill-opacity="0.37"/>
<circle cx="163.85" cy="368.66" r="0.49" fill="#7c8883" fill-opacity="0.42"/>
<circle cx="147.85" cy="357.07" r="0.59" fill="#7c8883" fill-opacity="0.4"/>
<circle cx="151.64" cy="361.64" r="0.5" fill="#7c8883" fill-opacity="0.36"/>
<circle cx="145.17" cy="357.16" r="0.75" fill="#7c8883" fill-opacity="0.25"/>
<circle cx="162.21" cy="355.85" r="0.52" fill="#7c8883" fill-opacity="0.28"/>
<circle cx="147.31" cy="387.94" r="0.62" fill="#7c8883" fill-opacity="0.22"/>
<circle cx="166.22" cy="386.4" r="0.5" fill="#7c8883" fill-opacity="0.25"/>
<circle cx="183.01" cy="363.82" r="0.54" fill="#7c8883" fill-opacity="0.43"/>
<circle cx="167.28" cy="399.45" r="0.55" fill="#7c8883" fill-opacity="0.23"/>
<circle cx="150.45" cy="361.94" r="0.72" fill="#7c8883" fill-opacity="0.29"/>
<circle cx="169.39" cy="359.01" r="0.64" fill="#7c8883" fill-opacity="0.39"/>
<circle cx="171.39" cy="343.3" r="0.6" fill="#7c8883" fill-opacity="0.3"/>
<circle cx="148.19" cy="346.24" r="0.77" fill="#7c8883" fill-opacity="0.24"/>
<circle cx="152.48" cy="397.73" r="0.77" fill="#7c8883" fill-opacity="0.29"/>
<circle cx="173.59" cy="396.02" r="0.46" fill="#7c8883" fill-opacity="0.38"/>
<circle cx="153.25" cy="350.3" r="0.67" fill="#7c8883" fill-opacity="0.42"/>
<circle cx="147.29" cy="384.27" r="0.78" fill="#7c8883" fill-opacity="0.31"/>
<circle cx="149.28" cy="358.2" r="0.78" fill="#7c8883" fill-opacity="0.22"/>
<circle cx="149.46" cy="353.13" r="0.54" fill="#7c8883" fill-opacity="0.21"/>
<circle cx="147.34" cy="349.56" r="0.61" fill="#7c8883" fill-opacity="0.34"/>
<circle cx="152.93" cy="375.14" r="0.7" fill="#7c8883" fill-opacity="0.33"/>
<circle cx="149.85" cy="355.32" r="0.43" fill="#7c8883" fill-opacity="0.28"/>
<circle cx="146.02" cy="386.24" r="0.77" fill="#7c8883" fill-opacity="0.33"/>
<circle cx="151.18" cy="375.19" r="0.52" fill="#7c8883" fill-opacity="0.4"/>
<circle cx="155.36" cy="398.42" r="0.58" fill="#7c8883" fill-opacity="0.35"/>
<circle cx="153.52" cy="353.47" r="0.78" fill="#7c8883" fill-opacity="0.44"/>
<circle cx="157.82" cy="343.9" r="0.71" fill="#7c8883" fill-opacity="0.3"/>
<circle cx="152.47" cy="352.45" r="0.69" fill="#7c8883" fill-opacity="0.25"/>
<circle cx="146.86" cy="343.63" r="0.49" fill="#7c8883" fill-opacity="0.4"/>
<circle cx="165.82" cy="369.24" r="0.47" fill="#7c8883" fill-opacity="0.2"/>
<circle cx="144.11" cy="360" r="0.42" fill="#7c8883" fill-opacity="0.27"/>
<circle cx="154.58" cy="369.69" r="0.65" fill="#7c8883" fill-opacity="0.28"/>
<circle cx="153.78" cy="363" r="0.75" fill="#7c8883" fill-opacity="0.35"/>
<circle cx="160.21" cy="368.97" r="0.53" fill="#7c8883" fill-opacity="0.43"/>
<circle cx="153.32" cy="355.92" r="0.77" fill="#7c8883" fill-opacity="0.41"/>
<circle cx="150.59" cy="371.76" r="0.79" fill="#7c8883" fill-opacity="0.27"/>
<circle cx="150.04" cy="352.33" r="0.69" fill="#7c8883" fill-opacity="0.26"/>
<circle cx="151.6" cy="396.98" r="0.51" fill="#7c8883" fill-opacity="0.22"/>
<circle cx="148.41" cy="382.02" r="0.54" fill="#7c8883" fill-opacity="0.34"/>
<circle cx="177.92" cy="372.07" r="0.55" fill="#7c8883" fill-opacity="0.2"/>
<circle cx="144.59" cy="371.05" r="0.51" fill="#7c8883" fill-opacity="0.34"/>
<circle cx="155.29" cy="347.67" r="0.6" fill="#7c8883" fill-opacity="0.32"/>
<circle cx="156.31" cy="379.37" r="0.79" fill="#7c8883" fill-opacity="0.27"/>
<circle cx="149.9" cy="388.5" r="0.49" fill="#7c8883" fill-opacity="0.41"/>
<circle cx="146.22" cy="388.38" r="0.5" fill="#7c8883" fill-opacity="0.43"/>
<circle cx="159.81" cy="374.42" r="0.78" fill="#7c8883" fill-opacity="0.32"/>
<circle cx="144.39" cy="370.23" r="0.52" fill="#7c8883" fill-opacity="0.41"/>
<circle cx="157.73" cy="353.8" r="0.49" fill="#7c8883" fill-opacity="0.41"/>
<circle cx="144.26" cy="388.7" r="0.79" fill="#7c8883" fill-opacity="0.43"/>
<circle cx="154.63" cy="383.42" r="0.72" fill="#7c8883" fill-opacity="0.4"/>
<circle cx="168.61" cy="352.63" r="0.73" fill="#7c8883" fill-opacity="0.28"/>
<circle cx="145.25" cy="343.81" r="0.6" fill="#7c8883" fill-opacity="0.29"/>
<circle cx="177.65" cy="388.03" r="0.64" fill="#7c8883" fill-opacity="0.43"/>
<circle cx="163.66" cy="346.21" r="0.67" fill="#7c8883" fill-opacity="0.23"/>
<circle cx="152.87" cy="398.98" r="0.75" fill="#7c8883" fill-opacity="0.28"/>
<circle cx="153.05" cy="386.09" r="0.79" fill="#7c8883" fill-opacity="0.36"/>
<circle cx="165.25" cy="349.7" r="0.69" fill="#7c8883" fill-opacity="0.21"/>
<circle cx="161.3" cy="387.66" r="0.75" fill="#7c8883" fill-opacity="0.34"/>
<circle cx="162.96" cy="396.75" r="0.66" fill="#7c8883" fill-opacity="0.32"/>
<circle cx="154.48" cy="343.82" r="0.46" fill="#7c8883" fill-opacity="0.4"/>
<circle cx="153.3" cy="355.65" r="0.66" fill="#7c8883" fill-opacity="0.39"/>
<circle cx="150.18" cy="360.67" r="0.51" fill="#7c8883" fill-opacity="0.25"/>
<circle cx="160.98" cy="379.75" r="0.67" fill="#7c8883" fill-opacity="0.44"/>
<circle cx="160.65" cy="394.91" r="0.52" fill="#7c8883" fill-opacity="0.44"/>
<circle cx="174.02" cy="378.11" r="0.79" fill="#7c8883" fill-opacity="0.39"/>
<circle cx="150.07" cy="372.55" r="0.6" fill="#7c8883" fill-opacity="0.21"/>
<circle cx="154.52" cy="392.09" r="0.61" fill="#7c8883" fill-opacity="0.32"/>
<circle cx="144.39" cy="353.96" r="0.63" fill="#7c8883" fill-opacity="0.26"/>
<circle cx="155.37" cy="361.33" r="0.43" fill="#7c8883" fill-opacity="0.21"/>
<circle cx="155.28" cy="397.06" r="0.66" fill="#7c8883" fill-opacity="0.3"/>
<circle cx="158.48" cy="365.89" r="0.49" fill="#7c8883" fill-opacity="0.32"/>
<circle cx="151.4" cy="367.4" r="0.67" fill="#7c8883" fill-opacity="0.39"/>
<circle cx="145.95" cy="374.42" r="0.66" fill="#7c8883" fill-opacity="0.43"/>
<circle cx="153.34" cy="373.62" r="0.8" fill="#7c8883" fill-opacity="0.33"/>
<circle cx="150.56" cy="353.39" r="0.71" fill="#7c8883" fill-opacity="0.21"/>
<circle cx="155.13" cy="358.17" r="0.69" fill="#7c8883" fill-opacity="0.38"/>
<circle cx="159.39" cy="360.86" r="0.71" fill="#7c8883" fill-opacity="0.36"/>
<circle cx="148.52" cy="367.37" r="0.44" fill="#7c8883" fill-opacity="0.32"/>
<circle cx="159.94" cy="397.39" r="0.76" fill="#7c8883" fill-opacity="0.21"/>
<circle cx="154.72" cy="382.43" r="0.58" fill="#7c8883" fill-opacity="0.23"/>
<circle cx="149.13" cy="366.97" r="0.63" fill="#7c8883" fill-opacity="0.39"/>
<circle cx="161.82" cy="381.68" r="0.65" fill="#7c8883" fill-opacity="0.21"/>
<circle cx="156.43" cy="383.35" r="0.45" fill="#7c8883" fill-opacity="0.21"/>
<circle cx="146.73" cy="346.69" r="0.56" fill="#7c8883" fill-opacity="0.32"/>
<circle cx="144.46" cy="348.57" r="0.78" fill="#7c8883" fill-opacity="0.41"/>
<circle cx="163.9" cy="360.65" r="0.79" fill="#7c8883" fill-opacity="0.23"/>
<circle cx="145.67" cy="359.99" r="0.49" fill="#7c8883" fill-opacity="0.42"/>
<circle cx="159.4" cy="365.43" r="0.75" fill="#7c8883" fill-opacity="0.26"/>
<circle cx="144.85" cy="388" r="0.68" fill="#7c8883" fill-opacity="0.31"/>
<circle cx="154.69" cy="368.55" r="0.53" fill="#7c8883" fill-opacity="0.36"/>
<circle cx="156" cy="366.14" r="0.52" fill="#7c8883" fill-opacity="0.39"/>
<circle cx="160.32" cy="393.07" r="0.58" fill="#7c8883" fill-opacity="0.29"/>
<circle cx="148.73" cy="394.13" r="0.79" fill="#7c8883" fill-opacity="0.4"/>
<circle cx="162.22" cy="385.1" r="0.52" fill="#7c8883" fill-opacity="0.38"/>
<circle cx="156.99" cy="397.11" r="0.66" fill="#7c8883" fill-opacity="0.37"/>
<circle cx="164.05" cy="355.49" r="0.71" fill="#7c8883" fill-opacity="0.33"/>
<circle cx="152.66" cy="398.85" r="0.54" fill="#7c8883" fill-opacity="0.38"/>
<circle cx="159.47" cy="386.57" r="0.5" fill="#7c8883" fill-opacity="0.35"/>
<circle cx="145.63" cy="355.2" r="0.56" fill="#7c8883" fill-opacity="0.45"/>
<circle cx="154.9" cy="345.94" r="0.63" fill="#7c8883" fill-opacity="0.41"/>
<circle cx="175.28" cy="390.65" r="0.56" fill="#7c8883" fill-opacity="0.35"/>
<circle cx="149.99" cy="385.43" r="0.63" fill="#7c8883" fill-opacity="0.26"/>
<circle cx="168.69" cy="383.05" r="0.62" fill="#7c8883" fill-opacity="0.34"/>
<circle cx="152.1" cy="387.39" r="0.53" fill="#7c8883" fill-opacity="0.38"/>
<circle cx="144.66" cy="397.14" r="0.51" fill="#7c8883" fill-opacity="0.34"/>
<circle cx="161.26" cy="352.11" r="0.65" fill="#7c8883" fill-opacity="0.42"/>
<circle cx="147.1" cy="380.64" r="0.52" fill="#7c8883" fill-opacity="0.4"/>
<circle cx="151.36" cy="377.34" r="0.58" fill="#7c8883" fill-opacity="0.33"/>
<circle cx="148.05" cy="399.49" r="0.63" fill="#7c8883" fill-opacity="0.44"/>
<circle cx="159.21" cy="346.83" r="0.52" fill="#7c8883" fill-opacity="0.37"/>
<circle cx="164.22" cy="382.19" r="0.73" fill="#7c8883" fill-opacity="0.3"/>
<circle cx="146.09" cy="373.4" r="0.41" fill="#7c8883" fill-opacity="0.29"/>
<circle cx="157.98" cy="380.29" r="0.46" fill="#7c8883" fill-opacity="0.28"/>
<circle cx="168.33" cy="356.86" r="0.47" fill="#7c8883" fill-opacity="0.23"/>
<circle cx="169.07" cy="347.43" r="0.72" fill="#7c8883" fill-opacity="0.38"/>
<circle cx="145.57" cy="382.48" r="0.41" fill="#7c8883" fill-opacity="0.4"/>
<circle cx="161.31" cy="391.92" r="0.48" fill="#7c8883" fill-opacity="0.38"/>
<circle cx="148.26" cy="393.01" r="0.49" fill="#7c8883" fill-opacity="0.32"/>
<circle cx="156.92" cy="360.54" r="0.58" fill="#7c8883" fill-opacity="0.4"/>
<circle cx="162.61" cy="399.25" r="0.49" fill="#7c8883" fill-opacity="0.26"/>
<circle cx="152.75" cy="378.13" r="0.46" fill="#7c8883" fill-opacity="0.44"/>
<circle cx="152.76" cy="367.29" r="0.73" fill="#7c8883" fill-opacity="0.43"/>
<circle cx="157.57" cy="381.43" r="0.47" fill="#7c8883" fill-opacity="0.29"/>
<circle cx="146.83" cy="393.26" r="0.75" fill="#7c8883" fill-opacity="0.26"/>
<circle cx="154.08" cy="363.45" r="0.49" fill="#7c8883" fill-opacity="0.38"/>
<circle cx="166.13" cy="346.1" r="0.74" fill="#7c8883" fill-opacity="0.34"/>
<circle cx="150.75" cy="376.03" r="0.44" fill="#7c8883" fill-opacity="0.21"/>
<circle cx="170.17" cy="377.01" r="0.74" fill="#7c8883" fill-opacity="0.22"/>
<circle cx="178.59" cy="348.36" r="0.41" fill="#7c8883" fill-opacity="0.37"/>
<circle cx="149.34" cy="380.85" r="0.68" fill="#7c8883" fill-opacity="0.28"/>
<circle cx="154.71" cy="369.38" r="0.52" fill="#7c8883" fill-opacity="0.34"/>
<circle cx="152.75" cy="356.81" r="0.52" fill="#7c8883" fill-opacity="0.27"/>
<circle cx="155.15" cy="343.43" r="0.52" fill="#7c8883" fill-opacity="0.35"/>
<circle cx="144.86" cy="391.15" r="0.59" fill="#7c8883" fill-opacity="0.33"/>
<circle cx="151.29" cy="360.43" r="0.75" fill="#7c8883" fill-opacity="0.39"/>
<circle cx="159.8" cy="382.31" r="0.6" fill="#7c8883" fill-opacity="0.3"/>
<circle cx="159.33" cy="364.93" r="0.6" fill="#7c8883" fill-opacity="0.32"/>
<circle cx="162.21" cy="387.84" r="0.76" fill="#7c8883" fill-opacity="0.26"/>
<circle cx="147.34" cy="343.78" r="0.52" fill="#7c8883" fill-opacity="0.21"/>
<circle cx="150" cy="358.92" r="0.48" fill="#7c8883" fill-opacity="0.42"/>
<circle cx="164" cy="390.58" r="0.67" fill="#7c8883" fill-opacity="0.37"/>
<circle cx="144.57" cy="365.35" r="0.62" fill="#7c8883" fill-opacity="0.42"/>
<circle cx="160.51" cy="399.5" r="0.77" fill="#7c8883" fill-opacity="0.41"/>
<circle cx="154.09" cy="398.33" r="0.62" fill="#7c8883" fill-opacity="0.33"/>
<circle cx="149.09" cy="360.32" r="0.74" fill="#7c8883" fill-opacity="0.33"/>
<circle cx="149.93" cy="399.61" r="0.41" fill="#7c8883" fill-opacity="0.24"/>
<circle cx="144.36" cy="364.9" r="0.66" fill="#7c8883" fill-opacity="0.23"/>
<circle cx="176.82" cy="367.54" r="0.7" fill="#7c8883" fill-opacity="0.35"/>
<circle cx="157.57" cy="375.99" r="0.47" fill="#7c8883" fill-opacity="0.32"/>
<circle cx="162.2" cy="354.97" r="0.58" fill="#7c8883" fill-opacity="0.34"/>
<circle cx="157.16" cy="361.86" r="0.63" fill="#7c8883" fill-opacity="0.36"/>
<circle cx="154.51" cy="380.26" r="0.49" fill="#7c8883" fill-opacity="0.22"/>
<circle cx="145.18" cy="386.31" r="0.53" fill="#7c8883" fill-opacity="0.44"/>
<circle cx="150.47" cy="379.12" r="0.5" fill="#7c8883" fill-opacity="0.4"/>
<circle cx="146.5" cy="384.14" r="0.7" fill="#7c8883" fill-opacity="0.21"/>
<circle cx="170.21" cy="350.58" r="0.48" fill="#7c8883" fill-opacity="0.21"/>
<circle cx="149.72" cy="351.9" r="0.59" fill="#7c8883" fill-opacity="0.44"/>
<circle cx="149.03" cy="390.11" r="0.47" fill="#7c8883" fill-opacity="0.36"/>
<circle cx="154.48" cy="377.87" r="0.77" fill="#7c8883" fill-opacity="0.21"/>
<circle cx="157.59" cy="389.86" r="0.5" fill="#7c8883" fill-opacity="0.38"/>
<circle cx="149.7" cy="353.15" r="0.6" fill="#7c8883" fill-opacity="0.44"/>
<circle cx="144.77" cy="395.26" r="0.67" fill="#7c8883" fill-opacity="0.22"/>
<circle cx="156.11" cy="353.22" r="0.49" fill="#7c8883" fill-opacity="0.27"/>
<circle cx="157.04" cy="398.84" r="0.67" fill="#7c8883" fill-opacity="0.36"/>
<circle cx="163.3" cy="364.53" r="0.69" fill="#7c8883" fill-opacity="0.32"/>
<circle cx="160.28" cy="364.58" r="0.61" fill="#7c8883" fill-opacity="0.21"/>
<circle cx="150.31" cy="344.11" r="0.79" fill="#7c8883" fill-opacity="0.29"/>
<circle cx="148.1" cy="376.57" r="0.77" fill="#7c8883" fill-opacity="0.25"/>
<circle cx="151.45" cy="371.26" r="0.6" fill="#7c8883" fill-opacity="0.39"/>
<circle cx="154.17" cy="353.41" r="0.69" fill="#7c8883" fill-opacity="0.22"/>
<circle cx="148.41" cy="392.22" r="0.41" fill="#7c8883" fill-opacity="0.25"/>
<circle cx="172.32" cy="378.13" r="0.7" fill="#7c8883" fill-opacity="0.39"/>
<circle cx="149.81" cy="384.04" r="0.42" fill="#7c8883" fill-opacity="0.41"/>
<circle cx="149.35" cy="344.66" r="0.41" fill="#7c8883" fill-opacity="0.42"/>
<circle cx="151.15" cy="364.41" r="0.43" fill="#7c8883" fill-opacity="0.21"/>
<circle cx="155.58" cy="395.19" r="0.41" fill="#7c8883" fill-opacity="0.23"/>
<circle cx="160.73" cy="358.98" r="0.48" fill="#7c8883" fill-opacity="0.23"/>
<circle cx="150.56" cy="352.17" r="0.47" fill="#7c8883" fill-opacity="0.33"/>
<circle cx="164.43" cy="364.09" r="0.46" fill="#7c8883" fill-opacity="0.34"/>
<circle cx="158.85" cy="369.77" r="0.42" fill="#7c8883" fill-opacity="0.35"/>
<circle cx="144.74" cy="353.62" r="0.53" fill="#7c8883" fill-opacity="0.2"/>
<circle cx="159.2" cy="365.05" r="0.62" fill="#7c8883" fill-opacity="0.43"/>
<circle cx="156.95" cy="350.09" r="0.55" fill="#7c8883" fill-opacity="0.38"/>
<circle cx="160.31" cy="394.72" r="0.42" fill="#7c8883" fill-opacity="0.27"/>
<circle cx="160.91" cy="359.34" r="0.7" fill="#7c8883" fill-opacity="0.4"/>
<circle cx="154.65" cy="353.18" r="0.56" fill="#7c8883" fill-opacity="0.41"/>
<circle cx="176.41" cy="386.52" r="0.45" fill="#7c8883" fill-opacity="0.44"/>
<circle cx="145.8" cy="363.32" r="0.64" fill="#7c8883" fill-opacity="0.44"/>
<circle cx="174.02" cy="394.13" r="0.63" fill="#7c8883" fill-opacity="0.42"/>
<circle cx="172.68" cy="380.21" r="0.78" fill="#7c8883" fill-opacity="0.24"/>
<circle cx="144.18" cy="365.71" r="0.63" fill="#7c8883" fill-opacity="0.23"/>
<circle cx="145.03" cy="378.65" r="0.51" fill="#7c8883" fill-opacity="0.28"/>
<circle cx="149.27" cy="377.39" r="0.48" fill="#7c8883" fill-opacity="0.31"/>
<circle cx="171.54" cy="357.6" r="0.55" fill="#7c8883" fill-opacity="0.37"/>
<circle cx="178.51" cy="353.41" r="0.74" fill="#7c8883" fill-opacity="0.25"/>
<circle cx="156.8" cy="342.56" r="0.4" fill="#7c8883" fill-opacity="0.2"/>
<circle cx="148.77" cy="361.37" r="0.51" fill="#7c8883" fill-opacity="0.45"/>
<circle cx="147.57" cy="383.67" r="0.49" fill="#7c8883" fill-opacity="0.32"/>
<circle cx="148.19" cy="384.05" r="0.74" fill="#7c8883" fill-opacity="0.43"/>
<circle cx="155.53" cy="365.35" r="0.53" fill="#7c8883" fill-opacity="0.39"/>
<circle cx="150.25" cy="369.12" r="0.67" fill="#7c8883" fill-opacity="0.24"/>
<circle cx="152.01" cy="354.17" r="0.65" fill="#7c8883" fill-opacity="0.24"/>
<circle cx="182.31" cy="344.53" r="0.57" fill="#7c8883" fill-opacity="0.25"/>
<circle cx="146.36" cy="381.29" r="0.79" fill="#7c8883" fill-opacity="0.21"/>
<circle cx="163.41" cy="348.16" r="0.41" fill="#7c8883" fill-opacity="0.31"/>
<circle cx="154.27" cy="374" r="0.74" fill="#7c8883" fill-opacity="0.29"/>
<circle cx="164.31" cy="349" r="0.66" fill="#7c8883" fill-opacity="0.21"/>
<circle cx="144.48" cy="351.79" r="0.43" fill="#7c8883" fill-opacity="0.33"/>
<circle cx="147.66" cy="349.87" r="0.64" fill="#7c8883" fill-opacity="0.41"/>
<circle cx="148.25" cy="381.09" r="0.69" fill="#7c8883" fill-opacity="0.42"/>
<circle cx="150.3" cy="374.36" r="0.63" fill="#7c8883" fill-opacity="0.42"/>
<circle cx="161.98" cy="359" r="0.71" fill="#7c8883" fill-opacity="0.36"/>
<circle cx="180.53" cy="369.43" r="0.4" fill="#7c8883" fill-opacity="0.32"/>
<circle cx="145.71" cy="371.79" r="0.6" fill="#7c8883" fill-opacity="0.21"/>
<circle cx="164.28" cy="350.06" r="0.64" fill="#7c8883" fill-opacity="0.37"/>
<circle cx="170.56" cy="359.18" r="0.58" fill="#7c8883" fill-opacity="0.33"/>
<circle cx="145.58" cy="388.73" r="0.56" fill="#7c8883" fill-opacity="0.43"/>
<circle cx="159.03" cy="370.09" r="0.54" fill="#7c8883" fill-opacity="0.45"/>
<circle cx="145.52" cy="345.17" r="0.56" fill="#7c8883" fill-opacity="0.22"/>
<circle cx="147.75" cy="351.08" r="0.57" fill="#7c8883" fill-opacity="0.35"/>
<circle cx="151.71" cy="386.41" r="0.58" fill="#7c8883" fill-opacity="0.27"/>
<circle cx="165.19" cy="354.76" r="0.4" fill="#7c8883" fill-opacity="0.42"/>
<circle cx="167.18" cy="370.27" r="0.45" fill="#7c8883" fill-opacity="0.23"/>
<circle cx="163.26" cy="346.2" r="0.67" fill="#7c8883" fill-opacity="0.25"/>
<circle cx="159.85" cy="368.14" r="0.64" fill="#7c8883" fill-opacity="0.21"/>
<circle cx="156.46" cy="350.78" r="0.71" fill="#7c8883" fill-opacity="0.23"/>
<circle cx="149.34" cy="344.64" r="0.66" fill="#7c8883" fill-opacity="0.32"/>
<circle cx="165.52" cy="354.37" r="0.42" fill="#7c8883" fill-opacity="0.35"/>
<circle cx="159.51" cy="369.55" r="0.52" fill="#7c8883" fill-opacity="0.43"/>
<circle cx="149.56" cy="346.73" r="0.77" fill="#7c8883" fill-opacity="0.44"/>
<circle cx="164.81" cy="378.04" r="0.53" fill="#7c8883" fill-opacity="0.38"/>
<circle cx="165.94" cy="344.84" r="0.6" fill="#7c8883" fill-opacity="0.23"/>
<circle cx="159.22" cy="373.92" r="0.78" fill="#7c8883" fill-opacity="0.42"/>
<circle cx="144.14" cy="360.75" r="0.47" fill="#7c8883" fill-opacity="0.39"/>
<circle cx="163.01" cy="386.16" r="0.53" fill="#7c8883" fill-opacity="0.31"/>
<circle cx="151.98" cy="369.15" r="0.45" fill="#7c8883" fill-opacity="0.22"/>
<circle cx="166.84" cy="352.25" r="0.73" fill="#7c8883" fill-opacity="0.32"/>
<circle cx="152.79" cy="363.71" r="0.47" fill="#7c8883" fill-opacity="0.44"/>
<circle cx="155.26" cy="377.32" r="0.45" fill="#7c8883" fill-opacity="0.38"/>
<circle cx="160.89" cy="386.77" r="0.64" fill="#7c8883" fill-opacity="0.42"/>
<circle cx="155.93" cy="398.26" r="0.56" fill="#7c8883" fill-opacity="0.36"/>
<circle cx="154.86" cy="363.55" r="0.66" fill="#7c8883" fill-opacity="0.29"/>
<circle cx="154.95" cy="362.74" r="0.74" fill="#7c8883" fill-opacity="0.4"/>
<circle cx="156.92" cy="364.7" r="0.66" fill="#7c8883" fill-opacity="0.26"/>
<circle cx="169.85" cy="360.63" r="0.44" fill="#7c8883" fill-opacity="0.4"/>
<circle cx="155.21" cy="364.25" r="0.45" fill="#7c8883" fill-opacity="0.24"/>
<circle cx="150.05" cy="379.2" r="0.76" fill="#7c8883" fill-opacity="0.22"/>
<circle cx="144.73" cy="355.49" r="0.75" fill="#7c8883" fill-opacity="0.29"/>
<circle cx="169.3" cy="369.72" r="0.48" fill="#7c8883" fill-opacity="0.27"/>
<ellipse cx="192" cy="372.5" rx="14" ry="6.5" fill="url(#g2t)"/>
<ellipse cx="176.3" cy="368.8" rx="13.2" ry="14.6" fill="url(#g2b)"/>
<circle cx="172.28" cy="371.16" r="0.85" fill="#5a5337" fill-opacity="0.28"/>
<circle cx="167.49" cy="364.09" r="0.72" fill="#5a5337" fill-opacity="0.25"/>
<circle cx="185.07" cy="374.1" r="0.78" fill="#5a5337" fill-opacity="0.29"/>
<circle cx="169.96" cy="370.31" r="0.63" fill="#756e50" fill-opacity="0.34"/>
<circle cx="167.21" cy="382.43" r="0.65" fill="#756e50" fill-opacity="0.38"/>
<circle cx="183.45" cy="377.07" r="0.5" fill="#756e50" fill-opacity="0.4"/>
<circle cx="172.79" cy="368.7" r="0.79" fill="#665f42" fill-opacity="0.5"/>
<circle cx="165.76" cy="362.38" r="0.98" fill="#665f42" fill-opacity="0.4"/>
<circle cx="166.73" cy="370.68" r="0.82" fill="#5a5337" fill-opacity="0.37"/>
<circle cx="183.3" cy="360.42" r="0.86" fill="#756e50" fill-opacity="0.39"/>
<circle cx="180.44" cy="358.99" r="0.69" fill="#5a5337" fill-opacity="0.43"/>
<circle cx="185.55" cy="356.28" r="0.88" fill="#5a5337" fill-opacity="0.34"/>
<circle cx="169.25" cy="370.58" r="0.6" fill="#756e50" fill-opacity="0.31"/>
<circle cx="182.01" cy="359.28" r="0.45" fill="#756e50" fill-opacity="0.33"/>
<circle cx="179.49" cy="366.32" r="0.64" fill="#756e50" fill-opacity="0.44"/>
<circle cx="169.31" cy="363.67" r="0.68" fill="#756e50" fill-opacity="0.4"/>
<circle cx="174.83" cy="369.62" r="0.48" fill="#665f42" fill-opacity="0.25"/>
<circle cx="178.71" cy="372.03" r="0.74" fill="#756e50" fill-opacity="0.36"/>
<circle cx="180.07" cy="367.73" r="0.81" fill="#756e50" fill-opacity="0.26"/>
<circle cx="183.36" cy="353.19" r="0.55" fill="#665f42" fill-opacity="0.48"/>
<circle cx="177.03" cy="371.93" r="0.54" fill="#5a5337" fill-opacity="0.48"/>
<circle cx="176.78" cy="369.15" r="0.91" fill="#665f42" fill-opacity="0.25"/>
<circle cx="173.95" cy="380.9" r="0.75" fill="#665f42" fill-opacity="0.34"/>
<circle cx="170.24" cy="370.73" r="0.65" fill="#665f42" fill-opacity="0.36"/>
<circle cx="187.21" cy="364.86" r="0.98" fill="#756e50" fill-opacity="0.26"/>
<circle cx="181.62" cy="370.57" r="0.65" fill="#5a5337" fill-opacity="0.37"/>
<circle cx="182.88" cy="362.97" r="0.57" fill="#665f42" fill-opacity="0.23"/>
<circle cx="174.11" cy="374.41" r="0.62" fill="#5a5337" fill-opacity="0.24"/>
<circle cx="173.28" cy="360.61" r="0.64" fill="#5a5337" fill-opacity="0.25"/>
<circle cx="185.79" cy="369.84" r="0.58" fill="#756e50" fill-opacity="0.45"/>
<circle cx="179.8" cy="367.29" r="0.66" fill="#665f42" fill-opacity="0.44"/>
<circle cx="175.91" cy="363.38" r="0.7" fill="#665f42" fill-opacity="0.24"/>
<circle cx="188.21" cy="378.73" r="0.96" fill="#5a5337" fill-opacity="0.48"/>
<circle cx="164.89" cy="359.2" r="0.97" fill="#5a5337" fill-opacity="0.46"/>
<circle cx="170.15" cy="381.77" r="0.57" fill="#665f42" fill-opacity="0.3"/>
<circle cx="166.29" cy="373.15" r="0.82" fill="#5a5337" fill-opacity="0.24"/>
<circle cx="167.5" cy="374.7" r="0.47" fill="#665f42" fill-opacity="0.3"/>
<circle cx="174.76" cy="375.23" r="0.97" fill="#756e50" fill-opacity="0.46"/>
<circle cx="171.32" cy="372.13" r="0.67" fill="#756e50" fill-opacity="0.32"/>
<circle cx="176.59" cy="371.09" r="0.48" fill="#665f42" fill-opacity="0.3"/>
<circle cx="172.98" cy="382.87" r="0.75" fill="#665f42" fill-opacity="0.22"/>
<circle cx="173.98" cy="363.65" r="0.72" fill="#665f42" fill-opacity="0.25"/>
<circle cx="175.8" cy="368.25" r="0.87" fill="#5a5337" fill-opacity="0.25"/>
<circle cx="182.6" cy="370.15" r="0.46" fill="#5a5337" fill-opacity="0.32"/>
<circle cx="169.88" cy="371.51" r="0.46" fill="#5a5337" fill-opacity="0.33"/>
<circle cx="180.42" cy="360.76" r="0.5" fill="#665f42" fill-opacity="0.43"/>
<circle cx="166.37" cy="368.58" r="0.91" fill="#756e50" fill-opacity="0.26"/>
<circle cx="171.87" cy="384.11" r="0.94" fill="#756e50" fill-opacity="0.36"/>
<circle cx="188.9" cy="367.77" r="0.91" fill="#756e50" fill-opacity="0.37"/>
<circle cx="165.36" cy="363.97" r="0.78" fill="#5a5337" fill-opacity="0.33"/>
<circle cx="179.48" cy="367.58" r="0.76" fill="#5a5337" fill-opacity="0.47"/>
<circle cx="176.47" cy="365.68" r="0.8" fill="#665f42" fill-opacity="0.22"/>
<circle cx="177.75" cy="379.07" r="0.93" fill="#665f42" fill-opacity="0.49"/>
<circle cx="171.05" cy="372.64" r="0.96" fill="#756e50" fill-opacity="0.48"/>
<circle cx="174.86" cy="368.51" r="0.71" fill="#665f42" fill-opacity="0.27"/>
<circle cx="171.49" cy="365.78" r="0.7" fill="#665f42" fill-opacity="0.26"/>
<circle cx="170.05" cy="366.35" r="0.55" fill="#665f42" fill-opacity="0.33"/>
<circle cx="170.4" cy="369.96" r="0.78" fill="#5a5337" fill-opacity="0.48"/>
<circle cx="185.09" cy="362.19" r="0.58" fill="#5a5337" fill-opacity="0.28"/>
<circle cx="181.79" cy="364.99" r="0.84" fill="#756e50" fill-opacity="0.5"/>
<circle cx="175.88" cy="369.97" r="0.5" fill="#5a5337" fill-opacity="0.5"/>
<circle cx="189.13" cy="364.19" r="0.81" fill="#5a5337" fill-opacity="0.29"/>
<circle cx="179.02" cy="355.49" r="0.59" fill="#5a5337" fill-opacity="0.34"/>
<circle cx="174.16" cy="382.51" r="0.77" fill="#5a5337" fill-opacity="0.43"/>
<circle cx="177.03" cy="361.21" r="0.6" fill="#756e50" fill-opacity="0.39"/>
<circle cx="173.47" cy="358.77" r="0.52" fill="#665f42" fill-opacity="0.49"/>
<circle cx="177.26" cy="373.25" r="0.98" fill="#5a5337" fill-opacity="0.48"/>
<circle cx="182.2" cy="358.35" r="0.9" fill="#756e50" fill-opacity="0.41"/>
<circle cx="185.97" cy="358.73" r="0.86" fill="#5a5337" fill-opacity="0.23"/>
<circle cx="184.71" cy="372.69" r="0.72" fill="#756e50" fill-opacity="0.5"/>
<circle cx="168.36" cy="371.94" r="0.82" fill="#756e50" fill-opacity="0.34"/>
<circle cx="191.44" cy="375.53" r="0.87" fill="#665f42" fill-opacity="0.42"/>
<circle cx="178.32" cy="362.06" r="0.56" fill="#665f42" fill-opacity="0.34"/>
<circle cx="180.18" cy="359.67" r="0.54" fill="#665f42" fill-opacity="0.48"/>
<circle cx="177.86" cy="365.81" r="0.98" fill="#756e50" fill-opacity="0.39"/>
<circle cx="183.05" cy="377.43" r="0.82" fill="#756e50" fill-opacity="0.39"/>
<circle cx="175.42" cy="360.03" r="0.64" fill="#665f42" fill-opacity="0.4"/>
<circle cx="166.51" cy="384.44" r="0.92" fill="#756e50" fill-opacity="0.48"/>
<circle cx="172.53" cy="361.2" r="0.89" fill="#665f42" fill-opacity="0.35"/>
<circle cx="184" cy="369.61" r="0.8" fill="#756e50" fill-opacity="0.32"/>
<circle cx="183.75" cy="372.32" r="0.63" fill="#665f42" fill-opacity="0.5"/>
<circle cx="167.17" cy="361.86" r="0.87" fill="#5a5337" fill-opacity="0.35"/>
<circle cx="180.8" cy="364.93" r="0.46" fill="#665f42" fill-opacity="0.48"/>
<circle cx="183.05" cy="371.89" r="0.62" fill="#5a5337" fill-opacity="0.41"/>
<circle cx="180.22" cy="371.94" r="0.67" fill="#5a5337" fill-opacity="0.25"/>
<circle cx="171.05" cy="368.43" r="0.48" fill="#756e50" fill-opacity="0.49"/>
<circle cx="178.61" cy="376.22" r="0.57" fill="#5a5337" fill-opacity="0.37"/>
<circle cx="168.9" cy="373.69" r="0.64" fill="#756e50" fill-opacity="0.39"/>
<circle cx="174.6" cy="363.1" r="0.67" fill="#665f42" fill-opacity="0.49"/>
<circle cx="177.94" cy="357.42" r="1" fill="#5a5337" fill-opacity="0.46"/>
<circle cx="176.19" cy="366.65" r="0.52" fill="#756e50" fill-opacity="0.25"/>
<circle cx="179.66" cy="361.88" r="0.79" fill="#756e50" fill-opacity="0.25"/>
<circle cx="170.51" cy="371.5" r="0.66" fill="#665f42" fill-opacity="0.36"/>
<circle cx="174.44" cy="386.69" r="0.66" fill="#5a5337" fill-opacity="0.43"/>
<circle cx="178.78" cy="369.21" r="0.54" fill="#665f42" fill-opacity="0.39"/>
<circle cx="172.78" cy="377.36" r="0.95" fill="#5a5337" fill-opacity="0.47"/>
<circle cx="180.07" cy="366.48" r="0.9" fill="#5a5337" fill-opacity="0.39"/>
<circle cx="178.68" cy="361.98" r="0.73" fill="#756e50" fill-opacity="0.26"/>
<circle cx="174.9" cy="361.13" r="0.45" fill="#5a5337" fill-opacity="0.24"/>
<circle cx="184.13" cy="361.07" r="0.72" fill="#665f42" fill-opacity="0.36"/>
<circle cx="172.1" cy="370.4" r="0.81" fill="#5a5337" fill-opacity="0.48"/>
<circle cx="175.08" cy="365.93" r="0.85" fill="#756e50" fill-opacity="0.34"/>
<circle cx="174.26" cy="356.75" r="0.52" fill="#756e50" fill-opacity="0.37"/>
<circle cx="175.56" cy="374" r="0.94" fill="#665f42" fill-opacity="0.24"/>
<circle cx="173.29" cy="371.44" r="0.96" fill="#5a5337" fill-opacity="0.49"/>
<circle cx="176.46" cy="350.68" r="0.77" fill="#5a5337" fill-opacity="0.35"/>
<circle cx="183.59" cy="363.24" r="0.63" fill="#665f42" fill-opacity="0.49"/>
<circle cx="175.14" cy="373.27" r="0.57" fill="#5a5337" fill-opacity="0.46"/>
<circle cx="180.26" cy="375.92" r="0.68" fill="#756e50" fill-opacity="0.49"/>
<circle cx="172.21" cy="379.84" r="0.74" fill="#5a5337" fill-opacity="0.35"/>
<circle cx="171.51" cy="375.81" r="0.73" fill="#5a5337" fill-opacity="0.42"/>
<circle cx="177.24" cy="378.5" r="0.91" fill="#756e50" fill-opacity="0.28"/>
<circle cx="174.43" cy="376.06" r="0.72" fill="#5a5337" fill-opacity="0.48"/>
<circle cx="174.54" cy="368.27" r="0.65" fill="#5a5337" fill-opacity="0.24"/>
<circle cx="175.84" cy="370.61" r="0.93" fill="#665f42" fill-opacity="0.46"/>
<circle cx="177.46" cy="367.34" r="0.97" fill="#5a5337" fill-opacity="0.39"/>
<circle cx="174.92" cy="366.39" r="0.74" fill="#5a5337" fill-opacity="0.26"/>
<circle cx="183.75" cy="374.93" r="0.69" fill="#5a5337" fill-opacity="0.29"/>
<circle cx="168.52" cy="375.85" r="0.45" fill="#756e50" fill-opacity="0.33"/>
<circle cx="176.64" cy="375.78" r="0.53" fill="#665f42" fill-opacity="0.28"/>
<circle cx="178.32" cy="375.77" r="0.6" fill="#756e50" fill-opacity="0.5"/>
<circle cx="171.17" cy="368.46" r="0.92" fill="#756e50" fill-opacity="0.25"/>
<circle cx="186.3" cy="363.87" r="0.93" fill="#665f42" fill-opacity="0.49"/>
<circle cx="176.47" cy="371.1" r="0.7" fill="#756e50" fill-opacity="0.28"/>
<circle cx="179.21" cy="368.89" r="0.5" fill="#756e50" fill-opacity="0.45"/>
<circle cx="164.16" cy="376.86" r="0.46" fill="#665f42" fill-opacity="0.26"/>
<circle cx="169.61" cy="363.69" r="0.89" fill="#756e50" fill-opacity="0.26"/>
<circle cx="175.26" cy="372.16" r="0.72" fill="#5a5337" fill-opacity="0.4"/>
<circle cx="182.61" cy="380.11" r="0.81" fill="#5a5337" fill-opacity="0.45"/>
<circle cx="181.13" cy="358.61" r="0.57" fill="#665f42" fill-opacity="0.28"/>
<circle cx="170.46" cy="371.19" r="0.69" fill="#5a5337" fill-opacity="0.3"/>
<circle cx="166.1" cy="374.19" r="0.98" fill="#5a5337" fill-opacity="0.47"/>
<circle cx="180.26" cy="366.45" r="0.79" fill="#5a5337" fill-opacity="0.5"/>
<circle cx="181.86" cy="363.43" r="0.79" fill="#756e50" fill-opacity="0.38"/>
<circle cx="182.01" cy="371.65" r="0.49" fill="#665f42" fill-opacity="0.35"/>
<circle cx="176.91" cy="371.41" r="0.66" fill="#756e50" fill-opacity="0.34"/>
<circle cx="185.6" cy="372.63" r="0.76" fill="#665f42" fill-opacity="0.45"/>
<circle cx="172.48" cy="359.56" r="0.53" fill="#756e50" fill-opacity="0.24"/>
<circle cx="173.59" cy="370.38" r="0.91" fill="#756e50" fill-opacity="0.24"/>
<circle cx="168.34" cy="372.06" r="0.9" fill="#756e50" fill-opacity="0.38"/>
<circle cx="171.49" cy="361.6" r="0.48" fill="#5a5337" fill-opacity="0.32"/>
<circle cx="183.98" cy="374.83" r="0.52" fill="#5a5337" fill-opacity="0.29"/>
<circle cx="183.16" cy="371.16" r="0.68" fill="#756e50" fill-opacity="0.28"/>
<circle cx="176.58" cy="369.9" r="0.47" fill="#665f42" fill-opacity="0.26"/>
<circle cx="183.6" cy="369.61" r="0.59" fill="#756e50" fill-opacity="0.28"/>
<circle cx="183.1" cy="367.71" r="0.85" fill="#756e50" fill-opacity="0.3"/>
<circle cx="176.56" cy="363.86" r="0.93" fill="#756e50" fill-opacity="0.28"/>
<circle cx="173.06" cy="367.6" r="0.76" fill="#5a5337" fill-opacity="0.29"/>
<circle cx="173.38" cy="364.4" r="0.51" fill="#5a5337" fill-opacity="0.38"/>
<circle cx="176.33" cy="371.18" r="0.55" fill="#756e50" fill-opacity="0.26"/>
<circle cx="176.44" cy="363.69" r="0.65" fill="#5a5337" fill-opacity="0.45"/>
<circle cx="184.26" cy="353.34" r="0.78" fill="#5a5337" fill-opacity="0.39"/>
<circle cx="171.99" cy="366.01" r="0.66" fill="#756e50" fill-opacity="0.3"/>
<circle cx="181.88" cy="368.39" r="0.54" fill="#5a5337" fill-opacity="0.41"/>
<circle cx="176.43" cy="371.99" r="0.52" fill="#756e50" fill-opacity="0.3"/>
<circle cx="184.32" cy="361.27" r="0.47" fill="#5a5337" fill-opacity="0.38"/>
<circle cx="172.41" cy="367.27" r="0.52" fill="#665f42" fill-opacity="0.31"/>
<circle cx="186.62" cy="378.12" r="0.46" fill="#665f42" fill-opacity="0.37"/>
<circle cx="172.94" cy="369.94" r="0.88" fill="#5a5337" fill-opacity="0.41"/>
<circle cx="171.98" cy="357.89" r="0.45" fill="#756e50" fill-opacity="0.24"/>
<circle cx="172.9" cy="368.22" r="0.8" fill="#756e50" fill-opacity="0.44"/>
<circle cx="177.65" cy="361.74" r="0.53" fill="#756e50" fill-opacity="0.35"/>
<circle cx="174.83" cy="364.67" r="0.85" fill="#756e50" fill-opacity="0.48"/>
<circle cx="174.94" cy="373.63" r="0.86" fill="#5a5337" fill-opacity="0.3"/>
<circle cx="172.15" cy="373.69" r="0.85" fill="#756e50" fill-opacity="0.37"/>
<circle cx="174.35" cy="371.63" r="0.73" fill="#756e50" fill-opacity="0.5"/>
<circle cx="172.31" cy="364.45" r="0.5" fill="#5a5337" fill-opacity="0.31"/>
<circle cx="176.48" cy="356.29" r="0.58" fill="#665f42" fill-opacity="0.5"/>
<circle cx="165.66" cy="369.85" r="0.82" fill="#665f42" fill-opacity="0.41"/>
<circle cx="174.03" cy="367.77" r="0.82" fill="#756e50" fill-opacity="0.23"/>
<circle cx="167.35" cy="370.09" r="0.86" fill="#665f42" fill-opacity="0.36"/>
<circle cx="174.18" cy="371.8" r="0.94" fill="#5a5337" fill-opacity="0.45"/>
<circle cx="179.3" cy="376.33" r="0.57" fill="#665f42" fill-opacity="0.24"/>
<circle cx="176.69" cy="368.26" r="0.99" fill="#665f42" fill-opacity="0.24"/>
<circle cx="179.59" cy="352.12" r="0.92" fill="#665f42" fill-opacity="0.34"/>
<circle cx="178.18" cy="366.5" r="0.75" fill="#665f42" fill-opacity="0.45"/>
<circle cx="183.52" cy="368.98" r="0.68" fill="#5a5337" fill-opacity="0.49"/>
<circle cx="172.68" cy="365.84" r="0.75" fill="#756e50" fill-opacity="0.23"/>
<circle cx="172.43" cy="362.87" r="0.61" fill="#5a5337" fill-opacity="0.34"/>
<circle cx="177.34" cy="373.28" r="0.64" fill="#665f42" fill-opacity="0.35"/>
<circle cx="171.16" cy="361.87" r="0.96" fill="#5a5337" fill-opacity="0.29"/>
<circle cx="183.27" cy="367.64" r="0.63" fill="#665f42" fill-opacity="0.34"/>
<circle cx="182.84" cy="368.19" r="1" fill="#756e50" fill-opacity="0.46"/>
<circle cx="175.27" cy="381.68" r="0.69" fill="#665f42" fill-opacity="0.34"/>
<circle cx="183.96" cy="379.97" r="0.69" fill="#5a5337" fill-opacity="0.49"/>
<circle cx="176.19" cy="365.99" r="0.99" fill="#5a5337" fill-opacity="0.37"/>
<circle cx="184.88" cy="358.84" r="0.98" fill="#5a5337" fill-opacity="0.48"/>
<circle cx="181.21" cy="373.17" r="0.98" fill="#665f42" fill-opacity="0.22"/>
<circle cx="180.9" cy="370.64" r="0.72" fill="#756e50" fill-opacity="0.4"/>
<circle cx="180.88" cy="362.03" r="0.95" fill="#756e50" fill-opacity="0.39"/>
<circle cx="171.06" cy="369.73" r="0.85" fill="#665f42" fill-opacity="0.48"/>
<circle cx="172.58" cy="369.26" r="0.72" fill="#665f42" fill-opacity="0.3"/>
<circle cx="174.21" cy="367.33" r="0.58" fill="#5a5337" fill-opacity="0.31"/>
<circle cx="174.22" cy="370.58" r="0.46" fill="#756e50" fill-opacity="0.29"/>
<circle cx="177.35" cy="367.68" r="0.58" fill="#665f42" fill-opacity="0.35"/>
<circle cx="172.8" cy="368.56" r="0.5" fill="#756e50" fill-opacity="0.5"/>
<circle cx="177.96" cy="366.37" r="0.47" fill="#5a5337" fill-opacity="0.27"/>
<circle cx="175.5" cy="379.69" r="0.7" fill="#5a5337" fill-opacity="0.35"/>
<circle cx="180.94" cy="362.63" r="0.58" fill="#756e50" fill-opacity="0.37"/>
<circle cx="173.17" cy="357.12" r="0.88" fill="#5a5337" fill-opacity="0.23"/>
<circle cx="180.57" cy="357.12" r="0.5" fill="#5a5337" fill-opacity="0.27"/>
<circle cx="172.06" cy="366.84" r="0.97" fill="#665f42" fill-opacity="0.48"/>
<circle cx="175.42" cy="359.21" r="0.59" fill="#5a5337" fill-opacity="0.36"/>
<circle cx="173.97" cy="370.75" r="0.81" fill="#665f42" fill-opacity="0.41"/>
<circle cx="173.51" cy="375.93" r="0.65" fill="#665f42" fill-opacity="0.28"/>
<circle cx="170.27" cy="377.79" r="0.62" fill="#5a5337" fill-opacity="0.35"/>
<circle cx="166.28" cy="362.21" r="0.46" fill="#665f42" fill-opacity="0.39"/>
<circle cx="168.59" cy="372.89" r="0.68" fill="#665f42" fill-opacity="0.37"/>
<circle cx="181.45" cy="373.37" r="0.59" fill="#665f42" fill-opacity="0.34"/>
<circle cx="174.43" cy="367.34" r="0.65" fill="#756e50" fill-opacity="0.4"/>
<circle cx="179.22" cy="371.86" r="0.52" fill="#5a5337" fill-opacity="0.26"/>
<circle cx="171.85" cy="366.88" r="0.85" fill="#756e50" fill-opacity="0.36"/>
<circle cx="179.67" cy="375.89" r="0.71" fill="#665f42" fill-opacity="0.29"/>
<circle cx="178.02" cy="358.05" r="0.58" fill="#756e50" fill-opacity="0.22"/>
<circle cx="173.05" cy="367.06" r="0.74" fill="#5a5337" fill-opacity="0.24"/>
<circle cx="178.9" cy="376.02" r="0.78" fill="#665f42" fill-opacity="0.34"/>
<circle cx="171.46" cy="362.45" r="0.71" fill="#665f42" fill-opacity="0.46"/>
<circle cx="164.99" cy="366.2" r="0.99" fill="#756e50" fill-opacity="0.47"/>
<circle cx="168.98" cy="367.32" r="0.49" fill="#665f42" fill-opacity="0.29"/>
<circle cx="170.92" cy="363.56" r="0.78" fill="#665f42" fill-opacity="0.47"/>
<circle cx="181.97" cy="380.98" r="0.45" fill="#5a5337" fill-opacity="0.31"/>
<circle cx="173.92" cy="375.22" r="0.69" fill="#756e50" fill-opacity="0.47"/>
<circle cx="183.35" cy="369.88" r="0.94" fill="#756e50" fill-opacity="0.49"/>
<circle cx="170.52" cy="371.01" r="0.81" fill="#665f42" fill-opacity="0.28"/>
<circle cx="175.83" cy="373.43" r="0.89" fill="#665f42" fill-opacity="0.32"/>
<circle cx="180.81" cy="369.14" r="0.71" fill="#5a5337" fill-opacity="0.24"/>
<circle cx="178.54" cy="368.75" r="0.82" fill="#5a5337" fill-opacity="0.4"/>
<circle cx="183.86" cy="381.49" r="0.64" fill="#756e50" fill-opacity="0.41"/>
<circle cx="181.04" cy="357.96" r="0.55" fill="#756e50" fill-opacity="0.47"/>
<circle cx="176.44" cy="364.23" r="0.63" fill="#756e50" fill-opacity="0.3"/>
<circle cx="174.75" cy="365.75" r="0.59" fill="#5a5337" fill-opacity="0.5"/>
<circle cx="169.73" cy="363.21" r="0.77" fill="#665f42" fill-opacity="0.48"/>
<circle cx="175.05" cy="360.63" r="0.93" fill="#5a5337" fill-opacity="0.37"/>
<circle cx="176.29" cy="366.47" r="0.93" fill="#665f42" fill-opacity="0.41"/>
<circle cx="189.19" cy="373.23" r="0.71" fill="#5a5337" fill-opacity="0.46"/>
<circle cx="173.3" cy="368.41" r="0.78" fill="#665f42" fill-opacity="0.29"/>
<circle cx="170.13" cy="370.12" r="0.64" fill="#756e50" fill-opacity="0.34"/>
<circle cx="176.26" cy="364.64" r="0.66" fill="#756e50" fill-opacity="0.37"/>
<circle cx="175.86" cy="362.32" r="0.95" fill="#756e50" fill-opacity="0.32"/>
<circle cx="172.37" cy="377.37" r="0.99" fill="#756e50" fill-opacity="0.46"/>
<circle cx="176.81" cy="384.56" r="0.83" fill="#5a5337" fill-opacity="0.24"/>
<circle cx="179.96" cy="372.24" r="0.65" fill="#5a5337" fill-opacity="0.31"/>
<circle cx="174.16" cy="371.69" r="0.67" fill="#5a5337" fill-opacity="0.3"/>
<circle cx="177.26" cy="363.91" r="0.55" fill="#5a5337" fill-opacity="0.47"/>
<circle cx="173.34" cy="357" r="0.95" fill="#665f42" fill-opacity="0.34"/>
<circle cx="174.53" cy="367.47" r="0.65" fill="#665f42" fill-opacity="0.33"/>
<circle cx="166.92" cy="381.84" r="0.72" fill="#665f42" fill-opacity="0.22"/>
<circle cx="176.01" cy="366.73" r="0.49" fill="#756e50" fill-opacity="0.31"/>
<circle cx="175.05" cy="365.37" r="0.77" fill="#756e50" fill-opacity="0.35"/>
<circle cx="175.64" cy="374.26" r="0.98" fill="#665f42" fill-opacity="0.31"/>
<circle cx="184.85" cy="372.73" r="0.81" fill="#5a5337" fill-opacity="0.45"/>
<circle cx="169.76" cy="360.54" r="0.9" fill="#756e50" fill-opacity="0.41"/>
<circle cx="177.8" cy="369.93" r="0.55" fill="#665f42" fill-opacity="0.29"/>
<circle cx="168.75" cy="373.59" r="0.65" fill="#756e50" fill-opacity="0.37"/>
<circle cx="176.46" cy="365.03" r="0.5" fill="#756e50" fill-opacity="0.36"/>
<circle cx="168.07" cy="366.82" r="0.54" fill="#665f42" fill-opacity="0.44"/>
<circle cx="169.49" cy="368.49" r="0.66" fill="#5a5337" fill-opacity="0.41"/>
<circle cx="179.87" cy="369.71" r="0.98" fill="#756e50" fill-opacity="0.34"/>
<circle cx="173.15" cy="367.89" r="0.49" fill="#665f42" fill-opacity="0.5"/>
<circle cx="167.55" cy="365.94" r="0.78" fill="#665f42" fill-opacity="0.25"/>
<circle cx="182.03" cy="366.13" r="1" fill="#756e50" fill-opacity="0.23"/>
<circle cx="175.55" cy="371.81" r="0.87" fill="#665f42" fill-opacity="0.31"/>
<circle cx="176.61" cy="374.36" r="0.86" fill="#665f42" fill-opacity="0.33"/>
<circle cx="178.28" cy="368.83" r="0.47" fill="#665f42" fill-opacity="0.37"/>
<circle cx="182.8" cy="365.91" r="0.82" fill="#5a5337" fill-opacity="0.38"/>
<circle cx="178.52" cy="360.17" r="0.5" fill="#665f42" fill-opacity="0.35"/>
<circle cx="171.59" cy="358.15" r="0.72" fill="#5a5337" fill-opacity="0.37"/>
<circle cx="180.23" cy="370.42" r="0.84" fill="#5a5337" fill-opacity="0.49"/>
<circle cx="185.72" cy="366.7" r="0.63" fill="#756e50" fill-opacity="0.44"/>
<circle cx="181.74" cy="367.55" r="0.67" fill="#665f42" fill-opacity="0.23"/>
<circle cx="171.93" cy="369.79" r="0.76" fill="#756e50" fill-opacity="0.26"/>
<circle cx="183.03" cy="373.17" r="0.7" fill="#756e50" fill-opacity="0.23"/>
<circle cx="179.87" cy="358.35" r="0.61" fill="#5a5337" fill-opacity="0.34"/>
<circle cx="177.9" cy="372.63" r="0.89" fill="#756e50" fill-opacity="0.49"/>
<circle cx="181.2" cy="360.43" r="0.66" fill="#5a5337" fill-opacity="0.35"/>
<circle cx="184.97" cy="376.86" r="0.54" fill="#5a5337" fill-opacity="0.27"/>
<circle cx="175.92" cy="372.89" r="0.54" fill="#5a5337" fill-opacity="0.47"/>
<circle cx="179.89" cy="370.42" r="0.85" fill="#756e50" fill-opacity="0.34"/>
<circle cx="163.95" cy="372.77" r="0.81" fill="#665f42" fill-opacity="0.49"/>
<circle cx="173.11" cy="357.77" r="0.98" fill="#665f42" fill-opacity="0.42"/>
<circle cx="176.2" cy="360.13" r="0.51" fill="#756e50" fill-opacity="0.3"/>
<circle cx="184.59" cy="370.87" r="0.55" fill="#5a5337" fill-opacity="0.5"/>
<circle cx="175.35" cy="360.62" r="0.8" fill="#665f42" fill-opacity="0.34"/>
<circle cx="181.05" cy="361.59" r="0.58" fill="#5a5337" fill-opacity="0.44"/>
<circle cx="179.92" cy="364.03" r="0.89" fill="#665f42" fill-opacity="0.43"/>
<circle cx="179.74" cy="369.04" r="0.63" fill="#5a5337" fill-opacity="0.43"/>
<circle cx="173.48" cy="372.01" r="0.69" fill="#5a5337" fill-opacity="0.24"/>
<circle cx="185.32" cy="355.31" r="0.95" fill="#756e50" fill-opacity="0.45"/>
<circle cx="168" cy="363.96" r="0.76" fill="#665f42" fill-opacity="0.36"/>
<circle cx="182.47" cy="367.76" r="0.7" fill="#756e50" fill-opacity="0.49"/>
<circle cx="173.24" cy="374.72" r="0.53" fill="#665f42" fill-opacity="0.47"/>
<circle cx="180.03" cy="364.72" r="0.47" fill="#756e50" fill-opacity="0.35"/>
<circle cx="183.73" cy="364.69" r="0.97" fill="#756e50" fill-opacity="0.43"/>
<circle cx="180.37" cy="377.07" r="0.69" fill="#5a5337" fill-opacity="0.46"/>
<circle cx="188.54" cy="366.24" r="0.61" fill="#5a5337" fill-opacity="0.31"/>
<circle cx="185.57" cy="372.63" r="0.86" fill="#5a5337" fill-opacity="0.44"/>
<circle cx="180.5" cy="370.81" r="0.7" fill="#665f42" fill-opacity="0.35"/>
<circle cx="181.37" cy="361.87" r="0.65" fill="#665f42" fill-opacity="0.23"/>
<circle cx="183.82" cy="370.36" r="0.78" fill="#756e50" fill-opacity="0.5"/>
<circle cx="170.29" cy="369.24" r="0.5" fill="#5a5337" fill-opacity="0.28"/>
<circle cx="179.89" cy="374.9" r="0.65" fill="#756e50" fill-opacity="0.5"/>
<circle cx="179.94" cy="368.31" r="0.69" fill="#665f42" fill-opacity="0.43"/>
<circle cx="178.44" cy="377.04" r="0.85" fill="#756e50" fill-opacity="0.37"/>
<circle cx="190.25" cy="358.97" r="0.89" fill="#665f42" fill-opacity="0.22"/>
<circle cx="174.47" cy="371.59" r="0.98" fill="#5a5337" fill-opacity="0.41"/>
<circle cx="185.33" cy="365.53" r="0.74" fill="#756e50" fill-opacity="0.36"/>
<circle cx="164.27" cy="382.65" r="0.58" fill="#665f42" fill-opacity="0.46"/>
<circle cx="176.09" cy="369.59" r="0.99" fill="#665f42" fill-opacity="0.38"/>
<circle cx="178.89" cy="380.85" r="0.95" fill="#665f42" fill-opacity="0.35"/>
<circle cx="175.55" cy="367.66" r="0.95" fill="#665f42" fill-opacity="0.25"/>
<circle cx="170.47" cy="362.73" r="0.85" fill="#665f42" fill-opacity="0.44"/>
<circle cx="187.95" cy="363.73" r="0.74" fill="#5a5337" fill-opacity="0.3"/>
<circle cx="177.86" cy="370.53" r="0.57" fill="#665f42" fill-opacity="0.38"/>
<circle cx="177.78" cy="371.92" r="0.49" fill="#665f42" fill-opacity="0.33"/>
<circle cx="174.9" cy="360.09" r="0.67" fill="#5a5337" fill-opacity="0.25"/>
<circle cx="186.4" cy="377.55" r="0.57" fill="#756e50" fill-opacity="0.38"/>
<circle cx="176.97" cy="372.35" r="0.88" fill="#756e50" fill-opacity="0.41"/>
<circle cx="171.04" cy="375.05" r="0.9" fill="#5a5337" fill-opacity="0.24"/>
<circle cx="174.94" cy="367.22" r="0.77" fill="#665f42" fill-opacity="0.28"/>
<circle cx="175.37" cy="369.08" r="0.73" fill="#5a5337" fill-opacity="0.31"/>
<circle cx="169.32" cy="374.74" r="0.77" fill="#665f42" fill-opacity="0.38"/>
<circle cx="173.01" cy="378.03" r="0.48" fill="#756e50" fill-opacity="0.35"/>
<circle cx="178.46" cy="373.5" r="0.8" fill="#5a5337" fill-opacity="0.4"/>
<circle cx="168.46" cy="372.96" r="0.97" fill="#756e50" fill-opacity="0.35"/>
<circle cx="179.8" cy="367.81" r="0.55" fill="#756e50" fill-opacity="0.29"/>
<circle cx="171.29" cy="362.71" r="0.45" fill="#5a5337" fill-opacity="0.29"/>
<circle cx="184.79" cy="370.51" r="0.93" fill="#756e50" fill-opacity="0.46"/>
<circle cx="177.42" cy="374.16" r="0.78" fill="#756e50" fill-opacity="0.36"/>
<circle cx="174.91" cy="384.05" r="0.67" fill="#665f42" fill-opacity="0.24"/>
<circle cx="183.21" cy="371.78" r="0.5" fill="#5a5337" fill-opacity="0.49"/>
<circle cx="185.13" cy="382.03" r="0.79" fill="#5a5337" fill-opacity="0.34"/>
<circle cx="173.13" cy="370.58" r="0.87" fill="#5a5337" fill-opacity="0.35"/>
<circle cx="183.98" cy="369.07" r="0.63" fill="#756e50" fill-opacity="0.48"/>
<circle cx="181.27" cy="363.85" r="0.89" fill="#665f42" fill-opacity="0.48"/>
<circle cx="174.82" cy="371.45" r="0.53" fill="#5a5337" fill-opacity="0.32"/>
<circle cx="179.01" cy="374.71" r="0.51" fill="#756e50" fill-opacity="0.23"/>
<circle cx="166.4" cy="370.39" r="0.47" fill="#756e50" fill-opacity="0.47"/>
<circle cx="175" cy="359.08" r="0.86" fill="#756e50" fill-opacity="0.35"/>
<circle cx="182.79" cy="359.77" r="0.96" fill="#665f42" fill-opacity="0.37"/>
<circle cx="180.71" cy="366.85" r="0.55" fill="#756e50" fill-opacity="0.38"/>
<circle cx="177.25" cy="374.81" r="0.72" fill="#665f42" fill-opacity="0.28"/>
<circle cx="172.18" cy="364.42" r="0.82" fill="#665f42" fill-opacity="0.32"/>
<circle cx="181.36" cy="366.13" r="0.63" fill="#756e50" fill-opacity="0.39"/>
<circle cx="170.46" cy="363.04" r="0.73" fill="#756e50" fill-opacity="0.29"/>
<circle cx="171.73" cy="355.21" r="0.59" fill="#756e50" fill-opacity="0.35"/>
<circle cx="188.23" cy="364.08" r="0.99" fill="#5a5337" fill-opacity="0.28"/>
<circle cx="181.61" cy="355.6" r="0.57" fill="#665f42" fill-opacity="0.47"/>
<circle cx="178.36" cy="372.66" r="0.93" fill="#756e50" fill-opacity="0.48"/>
<circle cx="188.54" cy="377.8" r="0.61" fill="#756e50" fill-opacity="0.23"/>
<circle cx="169.7" cy="369.44" r="0.62" fill="#5a5337" fill-opacity="0.44"/>
<circle cx="178.76" cy="368.38" r="0.79" fill="#756e50" fill-opacity="0.3"/>
<circle cx="166.85" cy="367.59" r="0.62" fill="#5a5337" fill-opacity="0.3"/>
<circle cx="173" cy="360.85" r="0.65" fill="#5a5337" fill-opacity="0.24"/>
<circle cx="172.25" cy="358" r="0.52" fill="#756e50" fill-opacity="0.23"/>
<circle cx="175.96" cy="371.42" r="0.81" fill="#5a5337" fill-opacity="0.23"/>
<circle cx="183.05" cy="360.89" r="0.85" fill="#665f42" fill-opacity="0.26"/>
<circle cx="181.93" cy="364.71" r="0.73" fill="#756e50" fill-opacity="0.48"/>
<circle cx="180.58" cy="362.43" r="1" fill="#5a5337" fill-opacity="0.44"/>
<circle cx="168.73" cy="365.13" r="0.48" fill="#5a5337" fill-opacity="0.24"/>
<circle cx="172.63" cy="377.62" r="0.93" fill="#5a5337" fill-opacity="0.31"/>
<circle cx="171.97" cy="371.75" r="0.54" fill="#5a5337" fill-opacity="0.22"/>
<circle cx="185.75" cy="373.67" r="0.78" fill="#5a5337" fill-opacity="0.36"/>
<circle cx="175.16" cy="364.88" r="0.86" fill="#756e50" fill-opacity="0.46"/>
<circle cx="181.02" cy="376.78" r="0.58" fill="#5a5337" fill-opacity="0.24"/>
<circle cx="172.59" cy="367.11" r="0.83" fill="#665f42" fill-opacity="0.4"/>
<circle cx="169.89" cy="372.86" r="0.51" fill="#5a5337" fill-opacity="0.37"/>
<circle cx="185.32" cy="372.66" r="0.84" fill="#5a5337" fill-opacity="0.5"/>
<circle cx="174.47" cy="370.25" r="0.74" fill="#5a5337" fill-opacity="0.3"/>
<circle cx="169.62" cy="371.27" r="0.81" fill="#665f42" fill-opacity="0.31"/>
<circle cx="174.04" cy="372.35" r="0.86" fill="#665f42" fill-opacity="0.23"/>
<circle cx="181.41" cy="369.87" r="0.72" fill="#756e50" fill-opacity="0.34"/>
<circle cx="178.76" cy="362.14" r="0.77" fill="#665f42" fill-opacity="0.45"/>
<circle cx="172.27" cy="370.4" r="0.85" fill="#5a5337" fill-opacity="0.29"/>
<circle cx="175.01" cy="374.42" r="0.56" fill="#756e50" fill-opacity="0.33"/>
<circle cx="178.49" cy="381.13" r="0.82" fill="#5a5337" fill-opacity="0.41"/>
<circle cx="178.58" cy="366.58" r="0.55" fill="#665f42" fill-opacity="0.38"/>
<circle cx="173.75" cy="371.55" r="0.94" fill="#5a5337" fill-opacity="0.22"/>
<circle cx="181.3" cy="369.79" r="0.69" fill="#5a5337" fill-opacity="0.31"/>
<circle cx="175.58" cy="368.1" r="0.76" fill="#665f42" fill-opacity="0.31"/>
<circle cx="181.24" cy="379.87" r="0.51" fill="#665f42" fill-opacity="0.31"/>
<circle cx="176.31" cy="365.93" r="0.52" fill="#665f42" fill-opacity="0.43"/>
<circle cx="166.84" cy="382.72" r="0.98" fill="#756e50" fill-opacity="0.43"/>
<circle cx="170.69" cy="367.66" r="0.51" fill="#665f42" fill-opacity="0.46"/>
<circle cx="186.62" cy="368.68" r="0.58" fill="#5a5337" fill-opacity="0.39"/>
<circle cx="180.01" cy="369.84" r="0.98" fill="#756e50" fill-opacity="0.43"/>
<circle cx="175.66" cy="367.62" r="0.97" fill="#665f42" fill-opacity="0.31"/>
<circle cx="176.17" cy="361.28" r="0.5" fill="#756e50" fill-opacity="0.45"/>
<circle cx="167.67" cy="376.51" r="0.55" fill="#665f42" fill-opacity="0.42"/>
<circle cx="175.14" cy="357.62" r="0.8" fill="#756e50" fill-opacity="0.49"/>
<circle cx="178.94" cy="362.14" r="0.48" fill="#665f42" fill-opacity="0.43"/>
<circle cx="184.34" cy="358.86" r="0.67" fill="#756e50" fill-opacity="0.39"/>
<circle cx="165.84" cy="368.63" r="0.64" fill="#665f42" fill-opacity="0.34"/>
<circle cx="182.15" cy="361.62" r="0.74" fill="#665f42" fill-opacity="0.37"/>
<circle cx="181.08" cy="379.21" r="0.94" fill="#5a5337" fill-opacity="0.36"/>
<circle cx="170.28" cy="356.61" r="0.72" fill="#665f42" fill-opacity="0.42"/>
<circle cx="171.24" cy="366.22" r="0.62" fill="#665f42" fill-opacity="0.44"/>
<circle cx="178.28" cy="367.99" r="0.76" fill="#756e50" fill-opacity="0.31"/>
<circle cx="177.65" cy="371.05" r="0.61" fill="#665f42" fill-opacity="0.42"/>
<circle cx="173.32" cy="374.77" r="0.9" fill="#5a5337" fill-opacity="0.25"/>
<circle cx="171.26" cy="371.23" r="0.87" fill="#665f42" fill-opacity="0.4"/>
<circle cx="179.04" cy="365.99" r="0.67" fill="#665f42" fill-opacity="0.4"/>
<circle cx="173.96" cy="360.76" r="0.77" fill="#5a5337" fill-opacity="0.46"/>
<circle cx="185.3" cy="367.21" r="0.86" fill="#5a5337" fill-opacity="0.42"/>
<circle cx="184.98" cy="372.81" r="0.95" fill="#5a5337" fill-opacity="0.32"/>
<circle cx="176.4" cy="371.44" r="0.75" fill="#665f42" fill-opacity="0.32"/>
<circle cx="178.89" cy="370.35" r="0.95" fill="#665f42" fill-opacity="0.23"/>
<circle cx="173.38" cy="360.65" r="0.72" fill="#756e50" fill-opacity="0.29"/>
<circle cx="175.71" cy="377.22" r="0.84" fill="#665f42" fill-opacity="0.44"/>
<circle cx="174.3" cy="374.07" r="0.69" fill="#665f42" fill-opacity="0.36"/>
<circle cx="179.4" cy="365.03" r="0.48" fill="#665f42" fill-opacity="0.41"/>
<circle cx="176.54" cy="379.05" r="0.74" fill="#5a5337" fill-opacity="0.31"/>
<circle cx="169.15" cy="365.53" r="0.71" fill="#5a5337" fill-opacity="0.33"/>
<circle cx="188.42" cy="366.94" r="0.91" fill="#756e50" fill-opacity="0.39"/>
<circle cx="176.59" cy="371.75" r="0.49" fill="#756e50" fill-opacity="0.41"/>
<circle cx="171.72" cy="369.86" r="0.79" fill="#756e50" fill-opacity="0.46"/>
<circle cx="175.66" cy="375.03" r="0.99" fill="#756e50" fill-opacity="0.4"/>
<circle cx="172.79" cy="364.53" r="0.5" fill="#665f42" fill-opacity="0.24"/>
<circle cx="165.56" cy="359.9" r="0.65" fill="#665f42" fill-opacity="0.48"/>
<circle cx="180.1" cy="368.82" r="0.5" fill="#665f42" fill-opacity="0.26"/>
<circle cx="177.73" cy="359.66" r="0.83" fill="#665f42" fill-opacity="0.26"/>
<circle cx="179.17" cy="365.42" r="0.65" fill="#756e50" fill-opacity="0.23"/>
<circle cx="175.85" cy="367.2" r="0.74" fill="#665f42" fill-opacity="0.38"/>
<circle cx="174.02" cy="357.26" r="0.52" fill="#756e50" fill-opacity="0.39"/>
<circle cx="172.84" cy="372.08" r="0.61" fill="#5a5337" fill-opacity="0.46"/>
<circle cx="173.2" cy="375.36" r="0.94" fill="#665f42" fill-opacity="0.5"/>
<circle cx="177.93" cy="359.47" r="0.86" fill="#5a5337" fill-opacity="0.43"/>
<circle cx="185.99" cy="371.67" r="0.89" fill="#5a5337" fill-opacity="0.35"/>
<circle cx="185.06" cy="371.56" r="0.49" fill="#756e50" fill-opacity="0.24"/>
<circle cx="186.2" cy="379.63" r="0.99" fill="#5a5337" fill-opacity="0.37"/>
<circle cx="180.5" cy="368.91" r="0.86" fill="#665f42" fill-opacity="0.4"/>
<circle cx="188.74" cy="365.56" r="0.91" fill="#665f42" fill-opacity="0.24"/>
<circle cx="171.63" cy="366.69" r="0.47" fill="#756e50" fill-opacity="0.43"/>
<circle cx="178.29" cy="359.11" r="0.68" fill="#756e50" fill-opacity="0.5"/>
<circle cx="174.86" cy="369.44" r="0.57" fill="#756e50" fill-opacity="0.46"/>
<circle cx="174.66" cy="361.7" r="0.96" fill="#5a5337" fill-opacity="0.43"/>
<circle cx="187.54" cy="364.91" r="0.69" fill="#5a5337" fill-opacity="0.34"/>
<circle cx="176.81" cy="367.97" r="0.63" fill="#665f42" fill-opacity="0.28"/>
<circle cx="174.3" cy="366.4" r="0.92" fill="#5a5337" fill-opacity="0.47"/>
<circle cx="179.77" cy="372.25" r="0.67" fill="#756e50" fill-opacity="0.43"/>
<circle cx="187.65" cy="368.05" r="0.74" fill="#756e50" fill-opacity="0.44"/>
<circle cx="180.16" cy="359.85" r="0.49" fill="#665f42" fill-opacity="0.26"/>
<circle cx="184.92" cy="370.68" r="0.9" fill="#5a5337" fill-opacity="0.27"/>
<circle cx="178.46" cy="363.38" r="0.85" fill="#756e50" fill-opacity="0.32"/>
<circle cx="182.44" cy="366.78" r="0.98" fill="#665f42" fill-opacity="0.45"/>
<circle cx="178.98" cy="367.71" r="0.84" fill="#756e50" fill-opacity="0.34"/>
<circle cx="183.07" cy="373.79" r="0.89" fill="#5a5337" fill-opacity="0.31"/>
<circle cx="177.56" cy="367.9" r="0.94" fill="#5a5337" fill-opacity="0.3"/>
<circle cx="175.42" cy="366.73" r="0.67" fill="#756e50" fill-opacity="0.34"/>
<circle cx="186.12" cy="373.67" r="0.72" fill="#665f42" fill-opacity="0.23"/>
<circle cx="178.4" cy="372.75" r="0.9" fill="#5a5337" fill-opacity="0.32"/>
<circle cx="173.6" cy="369.37" r="0.79" fill="#5a5337" fill-opacity="0.46"/>
<circle cx="176.89" cy="379.31" r="0.65" fill="#665f42" fill-opacity="0.4"/>
<circle cx="182" cy="371.88" r="0.68" fill="#665f42" fill-opacity="0.29"/>
<circle cx="171.54" cy="370.05" r="0.99" fill="#665f42" fill-opacity="0.45"/>
<circle cx="174.75" cy="365" r="0.53" fill="#665f42" fill-opacity="0.28"/>
<circle cx="181.47" cy="362.39" r="0.71" fill="#665f42" fill-opacity="0.42"/>
<circle cx="170.01" cy="376.56" r="0.73" fill="#756e50" fill-opacity="0.36"/>
<circle cx="170.73" cy="361.45" r="0.8" fill="#5a5337" fill-opacity="0.46"/>
<circle cx="178.15" cy="376.5" r="0.77" fill="#5a5337" fill-opacity="0.44"/>
<circle cx="183.4" cy="370.23" r="0.98" fill="#665f42" fill-opacity="0.35"/>
<circle cx="185.84" cy="366.34" r="0.92" fill="#756e50" fill-opacity="0.3"/>
<circle cx="170.36" cy="370.77" r="0.72" fill="#5a5337" fill-opacity="0.35"/>
<circle cx="160.93" cy="371.07" r="0.74" fill="#5a5337" fill-opacity="0.31"/>
<circle cx="174.49" cy="359.9" r="0.94" fill="#665f42" fill-opacity="0.48"/>
<circle cx="172.05" cy="368.67" r="0.45" fill="#5a5337" fill-opacity="0.36"/>
<circle cx="176.3" cy="377.26" r="0.7" fill="#756e50" fill-opacity="0.49"/>
<circle cx="175.91" cy="359.93" r="0.73" fill="#5a5337" fill-opacity="0.39"/>
<circle cx="167.86" cy="371.45" r="0.68" fill="#5a5337" fill-opacity="0.29"/>
<circle cx="180.9" cy="362.71" r="0.98" fill="#5a5337" fill-opacity="0.3"/>
<circle cx="169.24" cy="369.16" r="0.52" fill="#756e50" fill-opacity="0.35"/>
<circle cx="176.35" cy="367.54" r="0.75" fill="#756e50" fill-opacity="0.38"/>
<circle cx="174.81" cy="383.14" r="0.57" fill="#5a5337" fill-opacity="0.34"/>
<circle cx="175.99" cy="367.37" r="0.79" fill="#665f42" fill-opacity="0.39"/>
<circle cx="171.67" cy="368.43" r="0.54" fill="#665f42" fill-opacity="0.31"/>
<circle cx="174.9" cy="372.64" r="0.99" fill="#756e50" fill-opacity="0.31"/>
<circle cx="171.64" cy="366.25" r="0.87" fill="#5a5337" fill-opacity="0.44"/>
<circle cx="180.57" cy="363.11" r="0.76" fill="#665f42" fill-opacity="0.34"/>
<circle cx="174" cy="361.68" r="0.8" fill="#665f42" fill-opacity="0.47"/>
<circle cx="170.8" cy="369.58" r="0.84" fill="#756e50" fill-opacity="0.25"/>
<circle cx="167.47" cy="366.73" r="0.68" fill="#5a5337" fill-opacity="0.27"/>
<circle cx="175.17" cy="373.17" r="0.51" fill="#b3ad90" fill-opacity="0.36"/>
<circle cx="171.17" cy="360.71" r="0.56" fill="#b3ad90" fill-opacity="0.4"/>
<circle cx="176.87" cy="369.22" r="0.65" fill="#a29c7e" fill-opacity="0.42"/>
<circle cx="186.5" cy="374.11" r="0.49" fill="#a29c7e" fill-opacity="0.37"/>
<circle cx="172.45" cy="370.67" r="0.43" fill="#b3ad90" fill-opacity="0.33"/>
<circle cx="169.39" cy="368.2" r="0.71" fill="#b3ad90" fill-opacity="0.38"/>
<circle cx="178.94" cy="362.82" r="0.66" fill="#a29c7e" fill-opacity="0.32"/>
<circle cx="177.76" cy="369.67" r="0.43" fill="#b3ad90" fill-opacity="0.34"/>
<circle cx="182.17" cy="367.96" r="0.48" fill="#b3ad90" fill-opacity="0.26"/>
<circle cx="173.14" cy="364.55" r="0.54" fill="#a29c7e" fill-opacity="0.41"/>
<circle cx="174.46" cy="364.58" r="0.42" fill="#b3ad90" fill-opacity="0.23"/>
<circle cx="175.7" cy="366.71" r="0.61" fill="#b3ad90" fill-opacity="0.26"/>
<circle cx="179.85" cy="361.41" r="0.71" fill="#a29c7e" fill-opacity="0.32"/>
<circle cx="173.6" cy="371.52" r="0.54" fill="#a29c7e" fill-opacity="0.29"/>
<circle cx="171.47" cy="367.79" r="0.52" fill="#b3ad90" fill-opacity="0.42"/>
<circle cx="180.71" cy="370.52" r="0.45" fill="#a29c7e" fill-opacity="0.39"/>
<circle cx="172.99" cy="370.01" r="0.78" fill="#a29c7e" fill-opacity="0.3"/>
<circle cx="181.46" cy="357.15" r="0.47" fill="#b3ad90" fill-opacity="0.44"/>
<circle cx="195.05" cy="377.62" r="0.43" fill="#a29c7e" fill-opacity="0.23"/>
<circle cx="168.49" cy="366.25" r="0.74" fill="#a29c7e" fill-opacity="0.44"/>
<circle cx="180.19" cy="369.66" r="0.63" fill="#b3ad90" fill-opacity="0.32"/>
<circle cx="177.57" cy="367.16" r="0.56" fill="#a29c7e" fill-opacity="0.41"/>
<circle cx="166.42" cy="369.16" r="0.7" fill="#b3ad90" fill-opacity="0.23"/>
<circle cx="173.52" cy="359.75" r="0.54" fill="#b3ad90" fill-opacity="0.41"/>
<circle cx="179.15" cy="366.04" r="0.71" fill="#a29c7e" fill-opacity="0.27"/>
<circle cx="187.57" cy="363.44" r="0.77" fill="#b3ad90" fill-opacity="0.34"/>
<circle cx="168.58" cy="372.89" r="0.66" fill="#b3ad90" fill-opacity="0.28"/>
<circle cx="168.5" cy="371.04" r="0.76" fill="#b3ad90" fill-opacity="0.33"/>
<circle cx="177.63" cy="351.84" r="0.5" fill="#b3ad90" fill-opacity="0.3"/>
<circle cx="176.58" cy="355.08" r="0.63" fill="#b3ad90" fill-opacity="0.35"/>
<circle cx="172.1" cy="365.74" r="0.8" fill="#b3ad90" fill-opacity="0.29"/>
<circle cx="174.94" cy="367.52" r="0.55" fill="#a29c7e" fill-opacity="0.29"/>
<circle cx="178.51" cy="366.4" r="0.49" fill="#b3ad90" fill-opacity="0.4"/>
<circle cx="172.41" cy="380.85" r="0.65" fill="#a29c7e" fill-opacity="0.32"/>
<circle cx="174.48" cy="380.28" r="0.65" fill="#b3ad90" fill-opacity="0.28"/>
<circle cx="176.04" cy="379.1" r="0.66" fill="#a29c7e" fill-opacity="0.35"/>
<circle cx="185.67" cy="369.6" r="0.46" fill="#a29c7e" fill-opacity="0.34"/>
<circle cx="171.19" cy="368.57" r="0.63" fill="#b3ad90" fill-opacity="0.35"/>
<circle cx="176.16" cy="362.08" r="0.75" fill="#b3ad90" fill-opacity="0.23"/>
<circle cx="177.45" cy="360.19" r="0.67" fill="#a29c7e" fill-opacity="0.33"/>
<circle cx="170.23" cy="372.37" r="0.51" fill="#b3ad90" fill-opacity="0.32"/>
<circle cx="178.13" cy="364.7" r="0.76" fill="#b3ad90" fill-opacity="0.31"/>
<circle cx="182.31" cy="366.06" r="0.61" fill="#b3ad90" fill-opacity="0.32"/>
<circle cx="186.46" cy="370.15" r="0.76" fill="#a29c7e" fill-opacity="0.27"/>
<circle cx="172.27" cy="359.23" r="0.55" fill="#b3ad90" fill-opacity="0.28"/>
<circle cx="175.45" cy="376.31" r="0.52" fill="#a29c7e" fill-opacity="0.28"/>
<circle cx="177.58" cy="367.97" r="0.42" fill="#a29c7e" fill-opacity="0.37"/>
<circle cx="175.69" cy="377.38" r="0.54" fill="#a29c7e" fill-opacity="0.27"/>
<circle cx="169.29" cy="366.64" r="0.74" fill="#b3ad90" fill-opacity="0.34"/>
<circle cx="179.38" cy="371" r="0.43" fill="#b3ad90" fill-opacity="0.22"/>
<circle cx="172.64" cy="362.8" r="0.72" fill="#b3ad90" fill-opacity="0.33"/>
<circle cx="174.17" cy="364.89" r="0.55" fill="#a29c7e" fill-opacity="0.45"/>
<circle cx="181.29" cy="381.74" r="0.66" fill="#a29c7e" fill-opacity="0.39"/>
<circle cx="181.68" cy="377.65" r="0.56" fill="#a29c7e" fill-opacity="0.34"/>
<circle cx="174.92" cy="358.94" r="0.57" fill="#a29c7e" fill-opacity="0.25"/>
<circle cx="180.2" cy="363.03" r="0.41" fill="#b3ad90" fill-opacity="0.45"/>
<circle cx="176.02" cy="361.02" r="0.42" fill="#a29c7e" fill-opacity="0.2"/>
<circle cx="179.92" cy="367.02" r="0.66" fill="#a29c7e" fill-opacity="0.34"/>
<circle cx="179.1" cy="371.8" r="0.69" fill="#a29c7e" fill-opacity="0.4"/>
<circle cx="179.1" cy="364.53" r="0.75" fill="#b3ad90" fill-opacity="0.33"/>
<circle cx="177.73" cy="373.75" r="0.79" fill="#b3ad90" fill-opacity="0.24"/>
<circle cx="171.1" cy="366.91" r="0.45" fill="#a29c7e" fill-opacity="0.29"/>
<circle cx="174.95" cy="367.43" r="0.78" fill="#a29c7e" fill-opacity="0.28"/>
<circle cx="179.24" cy="375.01" r="0.58" fill="#a29c7e" fill-opacity="0.24"/>
<circle cx="180.12" cy="362.04" r="0.7" fill="#b3ad90" fill-opacity="0.34"/>
<circle cx="176.78" cy="358.09" r="0.61" fill="#b3ad90" fill-opacity="0.31"/>
<circle cx="175.24" cy="381.17" r="0.64" fill="#b3ad90" fill-opacity="0.2"/>
<circle cx="171.96" cy="371.49" r="0.75" fill="#a29c7e" fill-opacity="0.4"/>
<circle cx="169.02" cy="371.49" r="0.42" fill="#b3ad90" fill-opacity="0.26"/>
<circle cx="172.7" cy="365.2" r="0.41" fill="#a29c7e" fill-opacity="0.42"/>
<circle cx="168.85" cy="368.25" r="0.44" fill="#b3ad90" fill-opacity="0.39"/>
<circle cx="172.99" cy="374.84" r="0.51" fill="#b3ad90" fill-opacity="0.38"/>
<circle cx="178.39" cy="365.63" r="0.51" fill="#b3ad90" fill-opacity="0.27"/>
<circle cx="181.03" cy="364.56" r="0.57" fill="#a29c7e" fill-opacity="0.36"/>
<circle cx="163.44" cy="383.2" r="0.44" fill="#b3ad90" fill-opacity="0.32"/>
<circle cx="176.29" cy="367" r="0.67" fill="#b3ad90" fill-opacity="0.3"/>
<circle cx="175.84" cy="359.56" r="0.6" fill="#b3ad90" fill-opacity="0.32"/>
<circle cx="180.73" cy="373.81" r="0.7" fill="#a29c7e" fill-opacity="0.43"/>
<circle cx="182.85" cy="374.65" r="0.53" fill="#b3ad90" fill-opacity="0.41"/>
<circle cx="170.44" cy="365.22" r="0.66" fill="#a29c7e" fill-opacity="0.42"/>
<circle cx="178.37" cy="353.1" r="0.41" fill="#a29c7e" fill-opacity="0.37"/>
<circle cx="178.84" cy="366.97" r="0.46" fill="#a29c7e" fill-opacity="0.4"/>
<circle cx="186.47" cy="363.11" r="0.66" fill="#a29c7e" fill-opacity="0.33"/>
<circle cx="181.5" cy="374.71" r="0.68" fill="#a29c7e" fill-opacity="0.35"/>
<circle cx="180.67" cy="370.94" r="0.73" fill="#b3ad90" fill-opacity="0.29"/>
<circle cx="180.87" cy="370.41" r="0.55" fill="#a29c7e" fill-opacity="0.3"/>
<circle cx="174.01" cy="373.85" r="0.75" fill="#a29c7e" fill-opacity="0.23"/>
<circle cx="179.13" cy="367.51" r="0.7" fill="#b3ad90" fill-opacity="0.36"/>
<circle cx="178.78" cy="360.64" r="0.45" fill="#b3ad90" fill-opacity="0.25"/>
<circle cx="173.65" cy="363.22" r="0.42" fill="#b3ad90" fill-opacity="0.38"/>
<circle cx="203.76" cy="373.24" r="0.45" fill="#7a7354" fill-opacity="0.19"/>
<circle cx="193.52" cy="375.32" r="0.46" fill="#7a7354" fill-opacity="0.37"/>
<circle cx="187.53" cy="372.22" r="0.55" fill="#8a8466" fill-opacity="0.32"/>
<circle cx="192.59" cy="371.03" r="0.58" fill="#7a7354" fill-opacity="0.26"/>
<circle cx="196.96" cy="372.35" r="0.42" fill="#8a8466" fill-opacity="0.33"/>
<circle cx="181.6" cy="372.29" r="0.47" fill="#7a7354" fill-opacity="0.27"/>
<circle cx="198.71" cy="371.52" r="0.68" fill="#8a8466" fill-opacity="0.35"/>
<circle cx="199.6" cy="371.82" r="0.47" fill="#7a7354" fill-opacity="0.34"/>
<circle cx="194.96" cy="375.96" r="0.66" fill="#7a7354" fill-opacity="0.17"/>
<circle cx="189.49" cy="374.92" r="0.38" fill="#8a8466" fill-opacity="0.22"/>
<circle cx="187.19" cy="370.95" r="0.4" fill="#7a7354" fill-opacity="0.39"/>
<circle cx="187.54" cy="371.76" r="0.51" fill="#8a8466" fill-opacity="0.23"/>
<circle cx="203.06" cy="374.24" r="0.43" fill="#7a7354" fill-opacity="0.31"/>
<circle cx="203.55" cy="371.12" r="0.54" fill="#7a7354" fill-opacity="0.24"/>
<circle cx="198.33" cy="374.02" r="0.64" fill="#7a7354" fill-opacity="0.16"/>
<circle cx="192.93" cy="371.68" r="0.53" fill="#7a7354" fill-opacity="0.25"/>
<circle cx="208.82" cy="380.77" r="0.48" fill="#7a7354" fill-opacity="0.37"/>
<circle cx="189.71" cy="372.46" r="0.36" fill="#7a7354" fill-opacity="0.19"/>
<circle cx="196.38" cy="374.06" r="0.6" fill="#7a7354" fill-opacity="0.36"/>
<circle cx="187.28" cy="375.15" r="0.62" fill="#7a7354" fill-opacity="0.3"/>
<circle cx="182.99" cy="369.9" r="0.66" fill="#8a8466" fill-opacity="0.23"/>
<circle cx="186.87" cy="369.87" r="0.52" fill="#7a7354" fill-opacity="0.33"/>
<circle cx="205.77" cy="367.27" r="0.69" fill="#7a7354" fill-opacity="0.2"/>
<circle cx="196.04" cy="377.96" r="0.5" fill="#7a7354" fill-opacity="0.37"/>
<circle cx="190.27" cy="374.46" r="0.57" fill="#7a7354" fill-opacity="0.17"/>
<circle cx="195.07" cy="368.85" r="0.47" fill="#8a8466" fill-opacity="0.29"/>
<circle cx="187.82" cy="368.14" r="0.42" fill="#8a8466" fill-opacity="0.19"/>
<circle cx="192.37" cy="377.7" r="0.4" fill="#8a8466" fill-opacity="0.38"/>
<circle cx="182.8" cy="375.74" r="0.68" fill="#7a7354" fill-opacity="0.39"/>
<circle cx="184.78" cy="373.69" r="0.36" fill="#8a8466" fill-opacity="0.26"/>
<circle cx="181.87" cy="373.5" r="0.36" fill="#7a7354" fill-opacity="0.19"/>
<circle cx="191.44" cy="368.15" r="0.45" fill="#8a8466" fill-opacity="0.37"/>
<circle cx="185.31" cy="375.18" r="0.69" fill="#7a7354" fill-opacity="0.34"/>
<circle cx="187.98" cy="373.86" r="0.68" fill="#7a7354" fill-opacity="0.24"/>
<circle cx="186.49" cy="374.23" r="0.42" fill="#8a8466" fill-opacity="0.24"/>
<circle cx="188.91" cy="370.95" r="0.64" fill="#7a7354" fill-opacity="0.37"/>
<circle cx="192.45" cy="371.67" r="0.55" fill="#7a7354" fill-opacity="0.18"/>
<circle cx="204.11" cy="375.14" r="0.68" fill="#8a8466" fill-opacity="0.31"/>
<circle cx="194.34" cy="372.66" r="0.64" fill="#8a8466" fill-opacity="0.22"/>
<circle cx="202.72" cy="370.1" r="0.39" fill="#7a7354" fill-opacity="0.3"/>
<circle cx="187.79" cy="378.98" r="0.63" fill="#7a7354" fill-opacity="0.16"/>
<circle cx="196.36" cy="372.06" r="0.59" fill="#8a8466" fill-opacity="0.33"/>
<circle cx="194.39" cy="373.27" r="0.67" fill="#7a7354" fill-opacity="0.29"/>
<circle cx="188.18" cy="373.06" r="0.63" fill="#8a8466" fill-opacity="0.18"/>
<circle cx="185.08" cy="369.85" r="0.69" fill="#8a8466" fill-opacity="0.35"/>
<circle cx="193.11" cy="369.17" r="0.54" fill="#7a7354" fill-opacity="0.31"/>
<circle cx="191" cy="370.16" r="0.62" fill="#8a8466" fill-opacity="0.32"/>
<circle cx="198.41" cy="373.16" r="0.4" fill="#8a8466" fill-opacity="0.2"/>
<circle cx="182.87" cy="371.82" r="0.65" fill="#8a8466" fill-opacity="0.36"/>
<circle cx="188.09" cy="374.82" r="0.7" fill="#8a8466" fill-opacity="0.26"/>
<circle cx="196.66" cy="374.88" r="0.36" fill="#7a7354" fill-opacity="0.28"/>
<circle cx="196.29" cy="376.44" r="0.55" fill="#7a7354" fill-opacity="0.34"/>
<circle cx="204.91" cy="372.23" r="0.65" fill="#7a7354" fill-opacity="0.31"/>
<circle cx="191.27" cy="374.65" r="0.7" fill="#7a7354" fill-opacity="0.22"/>
<circle cx="191.91" cy="373.49" r="0.4" fill="#8a8466" fill-opacity="0.26"/>
<circle cx="196.41" cy="372.82" r="0.62" fill="#7a7354" fill-opacity="0.22"/>
<circle cx="205.07" cy="376.43" r="0.54" fill="#8a8466" fill-opacity="0.21"/>
<circle cx="198.71" cy="370.74" r="0.68" fill="#8a8466" fill-opacity="0.23"/>
<circle cx="182.23" cy="381.71" r="0.5" fill="#8a8466" fill-opacity="0.22"/>
<circle cx="196.21" cy="374.94" r="0.5" fill="#8a8466" fill-opacity="0.32"/>
<circle cx="189.18" cy="374.23" r="0.36" fill="#8a8466" fill-opacity="0.28"/>
<circle cx="191.73" cy="373.69" r="0.61" fill="#7a7354" fill-opacity="0.17"/>
<circle cx="197.67" cy="368.14" r="0.36" fill="#8a8466" fill-opacity="0.28"/>
<circle cx="184.6" cy="379.35" r="0.43" fill="#7a7354" fill-opacity="0.32"/>
<circle cx="188.01" cy="374" r="0.51" fill="#7a7354" fill-opacity="0.22"/>
<circle cx="183.38" cy="374.16" r="0.36" fill="#7a7354" fill-opacity="0.35"/>
<circle cx="189.03" cy="370.44" r="0.63" fill="#8a8466" fill-opacity="0.3"/>
<circle cx="182.87" cy="371.06" r="0.59" fill="#7a7354" fill-opacity="0.4"/>
<circle cx="190.39" cy="369.96" r="0.7" fill="#8a8466" fill-opacity="0.31"/>
<circle cx="181.09" cy="366.01" r="0.64" fill="#8a8466" fill-opacity="0.33"/>
<circle cx="188.94" cy="372.81" r="0.6" fill="#8a8466" fill-opacity="0.4"/>
<circle cx="187.81" cy="373.19" r="0.36" fill="#7a7354" fill-opacity="0.17"/>
<circle cx="191.89" cy="373.71" r="0.64" fill="#7a7354" fill-opacity="0.33"/>
<circle cx="193.94" cy="373.65" r="0.36" fill="#7a7354" fill-opacity="0.23"/>
<circle cx="192.97" cy="370.44" r="0.63" fill="#8a8466" fill-opacity="0.17"/>
<circle cx="200.51" cy="376.26" r="0.69" fill="#7a7354" fill-opacity="0.24"/>
<circle cx="195.47" cy="374.73" r="0.49" fill="#7a7354" fill-opacity="0.27"/>
<circle cx="202.32" cy="368.24" r="0.47" fill="#7a7354" fill-opacity="0.19"/>
<circle cx="188.65" cy="370.67" r="0.5" fill="#7a7354" fill-opacity="0.2"/>
<circle cx="192.43" cy="371.56" r="0.41" fill="#7a7354" fill-opacity="0.17"/>
<circle cx="199.37" cy="367.21" r="0.43" fill="#8a8466" fill-opacity="0.37"/>
<circle cx="192.88" cy="376.58" r="0.36" fill="#7a7354" fill-opacity="0.24"/>
<circle cx="181.69" cy="375.64" r="0.61" fill="#7a7354" fill-opacity="0.35"/>
<circle cx="191.61" cy="372.81" r="0.44" fill="#8a8466" fill-opacity="0.31"/>
<circle cx="190.78" cy="369.57" r="0.48" fill="#7a7354" fill-opacity="0.17"/>
<circle cx="195.08" cy="375.55" r="0.43" fill="#7a7354" fill-opacity="0.34"/>
<circle cx="198.99" cy="377.61" r="0.64" fill="#8a8466" fill-opacity="0.25"/>
<circle cx="197.67" cy="378.11" r="0.49" fill="#7a7354" fill-opacity="0.35"/>
<circle cx="192.85" cy="372.56" r="0.55" fill="#8a8466" fill-opacity="0.27"/>
<circle cx="204.3" cy="370.6" r="0.41" fill="#8a8466" fill-opacity="0.39"/>
<circle cx="184.92" cy="373.36" r="0.4" fill="#7a7354" fill-opacity="0.29"/>
<circle cx="190.11" cy="372.61" r="0.6" fill="#8a8466" fill-opacity="0.28"/>
<circle cx="197.65" cy="376.67" r="0.38" fill="#7a7354" fill-opacity="0.26"/>
<circle cx="204.7" cy="378.81" r="0.35" fill="#8a8466" fill-opacity="0.16"/>
<circle cx="190.21" cy="375.86" r="0.51" fill="#8a8466" fill-opacity="0.33"/>
<circle cx="196.94" cy="373.52" r="0.45" fill="#8a8466" fill-opacity="0.2"/>
<circle cx="198.05" cy="370.37" r="0.66" fill="#7a7354" fill-opacity="0.31"/>
<circle cx="182.86" cy="374.51" r="0.47" fill="#8a8466" fill-opacity="0.27"/>
<circle cx="189.57" cy="377.8" r="0.44" fill="#8a8466" fill-opacity="0.26"/>
<circle cx="186.4" cy="368.81" r="0.55" fill="#7a7354" fill-opacity="0.33"/>
<circle cx="186.91" cy="372.65" r="0.47" fill="#8a8466" fill-opacity="0.28"/>
<circle cx="199.07" cy="368.71" r="0.37" fill="#7a7354" fill-opacity="0.27"/>
<circle cx="177.96" cy="371.25" r="0.66" fill="#8a8466" fill-opacity="0.23"/>
<circle cx="194.98" cy="369.19" r="0.4" fill="#7a7354" fill-opacity="0.17"/>
<circle cx="196.13" cy="367.92" r="0.67" fill="#7a7354" fill-opacity="0.24"/>
<circle cx="196.96" cy="376.89" r="0.38" fill="#7a7354" fill-opacity="0.35"/>
<circle cx="176.52" cy="373.74" r="0.67" fill="#8a8466" fill-opacity="0.19"/>
<circle cx="194.38" cy="371.02" r="0.59" fill="#8a8466" fill-opacity="0.17"/>
<circle cx="187.28" cy="372.88" r="0.39" fill="#8a8466" fill-opacity="0.32"/>
<circle cx="199.41" cy="372.63" r="0.59" fill="#8a8466" fill-opacity="0.35"/>
<circle cx="194.26" cy="379.28" r="0.69" fill="#7a7354" fill-opacity="0.36"/>
<circle cx="193.37" cy="374.33" r="0.43" fill="#8a8466" fill-opacity="0.37"/>
<circle cx="183.1" cy="378.15" r="0.64" fill="#7a7354" fill-opacity="0.24"/>
<circle cx="188.97" cy="376.98" r="0.62" fill="#8a8466" fill-opacity="0.37"/>
<circle cx="191.62" cy="373" r="0.65" fill="#8a8466" fill-opacity="0.16"/>
<circle cx="199.07" cy="373.88" r="0.57" fill="#7a7354" fill-opacity="0.39"/>
<circle cx="189.69" cy="369.88" r="0.41" fill="#8a8466" fill-opacity="0.37"/>
<circle cx="184.09" cy="371.7" r="0.43" fill="#7a7354" fill-opacity="0.24"/>
<circle cx="186.13" cy="375.55" r="0.55" fill="#8a8466" fill-opacity="0.22"/>
<circle cx="193.45" cy="377.38" r="0.68" fill="#7a7354" fill-opacity="0.23"/>
<circle cx="195.65" cy="377.92" r="0.67" fill="#7a7354" fill-opacity="0.29"/>
<circle cx="192.12" cy="374.69" r="0.63" fill="#8a8466" fill-opacity="0.16"/>
<circle cx="200.05" cy="376.36" r="0.62" fill="#8a8466" fill-opacity="0.39"/>
<circle cx="200.14" cy="375.69" r="0.36" fill="#7a7354" fill-opacity="0.34"/>
<circle cx="186.55" cy="371.61" r="0.35" fill="#8a8466" fill-opacity="0.35"/>
<circle cx="193.75" cy="369.05" r="0.54" fill="#7a7354" fill-opacity="0.3"/>
<circle cx="198.38" cy="374.05" r="0.42" fill="#8a8466" fill-opacity="0.25"/>
<circle cx="190.5" cy="370.18" r="0.6" fill="#8a8466" fill-opacity="0.23"/>
<circle cx="185.97" cy="374.66" r="0.68" fill="#7a7354" fill-opacity="0.35"/>
<circle cx="190.08" cy="370.85" r="0.57" fill="#8a8466" fill-opacity="0.31"/>
<circle cx="196.56" cy="372.81" r="0.58" fill="#8a8466" fill-opacity="0.18"/>
<circle cx="187.1" cy="374.44" r="0.37" fill="#8a8466" fill-opacity="0.29"/>
<circle cx="191.73" cy="381.26" r="0.48" fill="#7a7354" fill-opacity="0.24"/>
<circle cx="197.56" cy="372.49" r="0.7" fill="#8a8466" fill-opacity="0.17"/>
<circle cx="199.35" cy="371.18" r="0.45" fill="#7a7354" fill-opacity="0.3"/>
<circle cx="182.92" cy="376" r="0.51" fill="#7a7354" fill-opacity="0.34"/>
<circle cx="190.64" cy="370.83" r="0.6" fill="#7a7354" fill-opacity="0.22"/>
<circle cx="194.83" cy="376.78" r="0.5" fill="#8a8466" fill-opacity="0.32"/>
<circle cx="187.81" cy="369.29" r="0.61" fill="#7a7354" fill-opacity="0.16"/>
<circle cx="189.95" cy="370.36" r="0.51" fill="#7a7354" fill-opacity="0.37"/>
<circle cx="196.6" cy="366.67" r="0.6" fill="#8a8466" fill-opacity="0.31"/>
<circle cx="185.97" cy="370.54" r="0.5" fill="#7a7354" fill-opacity="0.23"/>
<circle cx="194.46" cy="368.9" r="0.5" fill="#8a8466" fill-opacity="0.33"/>
<circle cx="198.15" cy="367.78" r="0.6" fill="#7a7354" fill-opacity="0.33"/>
<circle cx="204.2" cy="374.24" r="0.41" fill="#8a8466" fill-opacity="0.17"/>
<circle cx="181.24" cy="373.34" r="0.5" fill="#8a8466" fill-opacity="0.24"/>
<circle cx="186.92" cy="372.73" r="0.4" fill="#7a7354" fill-opacity="0.38"/>
<circle cx="186.79" cy="379.57" r="0.39" fill="#8a8466" fill-opacity="0.2"/>
<circle cx="193" cy="380.42" r="0.55" fill="#7a7354" fill-opacity="0.4"/>
<circle cx="189.36" cy="370.59" r="0.69" fill="#7a7354" fill-opacity="0.17"/>
</g></g>
<rect x="141" y="342" width="77.5" height="58.5" fill="none" stroke="#2b2a22" stroke-width="1.2"/>
<rect x="199.4" y="389.1" width="17.6" height="7.6" fill="#fff"/>
<rect x="199.4" y="396.6" width="17.6" height="1.8" fill="#000"/>
<text x="208.3" y="395.2" font-size="7.6" text-anchor="middle" textLength="16.4" lengthAdjust="spacingAndGlyphs" style="stroke-width:0.15px">1mm</text>
<clipPath id="c3"><rect x="51.5" y="410.6" width="77.9" height="58.2"/></clipPath><g clip-path="url(#c3)"><g filter="url(#soft)">
<rect x="51.5" y="410.6" width="77.9" height="58.2" fill="url(#g3)"/>
<circle cx="59.65" cy="453.55" r="0.38" fill="#dcd9c6" fill-opacity="0.38"/>
<circle cx="101.21" cy="425.36" r="0.54" fill="#dcd9c6" fill-opacity="0.39"/>
<circle cx="60.93" cy="442.08" r="0.41" fill="#dcd9c6" fill-opacity="0.46"/>
<circle cx="68.98" cy="425.67" r="0.38" fill="#dcd9c6" fill-opacity="0.42"/>
<circle cx="78.71" cy="438.06" r="0.48" fill="#dcd9c6" fill-opacity="0.43"/>
<circle cx="91.38" cy="458.88" r="0.78" fill="#dcd9c6" fill-opacity="0.37"/>
<circle cx="82.51" cy="439.75" r="0.82" fill="#dcd9c6" fill-opacity="0.39"/>
<circle cx="74.44" cy="439.36" r="0.62" fill="#dcd9c6" fill-opacity="0.34"/>
<circle cx="74.42" cy="438.94" r="0.83" fill="#dcd9c6" fill-opacity="0.31"/>
<circle cx="96.44" cy="434.14" r="0.37" fill="#dcd9c6" fill-opacity="0.45"/>
<circle cx="106.57" cy="432.34" r="0.79" fill="#dcd9c6" fill-opacity="0.43"/>
<circle cx="83.45" cy="448.59" r="0.47" fill="#dcd9c6" fill-opacity="0.5"/>
<circle cx="84.27" cy="439.86" r="0.88" fill="#dcd9c6" fill-opacity="0.34"/>
<circle cx="85.65" cy="453.74" r="0.47" fill="#dcd9c6" fill-opacity="0.46"/>
<circle cx="84.62" cy="442.42" r="0.39" fill="#dcd9c6" fill-opacity="0.35"/>
<circle cx="99.37" cy="455.09" r="0.47" fill="#dcd9c6" fill-opacity="0.32"/>
<circle cx="112.07" cy="454.49" r="0.67" fill="#dcd9c6" fill-opacity="0.46"/>
<circle cx="61.56" cy="433" r="0.65" fill="#dcd9c6" fill-opacity="0.48"/>
<circle cx="83.75" cy="431.41" r="0.83" fill="#dcd9c6" fill-opacity="0.33"/>
<circle cx="93.16" cy="438.57" r="0.65" fill="#dcd9c6" fill-opacity="0.49"/>
<circle cx="112.66" cy="448.12" r="0.37" fill="#dcd9c6" fill-opacity="0.41"/>
<circle cx="72.24" cy="429.81" r="0.68" fill="#dcd9c6" fill-opacity="0.5"/>
<ellipse cx="91.4" cy="441.6" rx="10.8" ry="11.8" fill="url(#g3h)"/>
<circle cx="97.12" cy="431.89" r="0.42" fill="#f1edd8" fill-opacity="0.89"/>
<circle cx="96.2" cy="441.34" r="0.47" fill="#f1edd8" fill-opacity="0.47"/>
<circle cx="94.45" cy="429.76" r="0.57" fill="#f1edd8" fill-opacity="0.46"/>
<circle cx="86.79" cy="430.47" r="0.7" fill="#f1edd8" fill-opacity="0.87"/>
<circle cx="90.18" cy="451.21" r="0.49" fill="#f1edd8" fill-opacity="0.93"/>
<circle cx="83.32" cy="439.65" r="0.69" fill="#f1edd8" fill-opacity="0.87"/>
<circle cx="86.05" cy="434.62" r="0.64" fill="#f1edd8" fill-opacity="0.63"/>
<circle cx="88.51" cy="431.94" r="0.76" fill="#f1edd8" fill-opacity="0.73"/>
<circle cx="85.52" cy="450.11" r="0.49" fill="#f1edd8" fill-opacity="0.46"/>
<circle cx="100.08" cy="444.58" r="0.75" fill="#f1edd8" fill-opacity="0.53"/>
<circle cx="104.31" cy="436.13" r="0.83" fill="#f1edd8" fill-opacity="0.86"/>
<circle cx="95.86" cy="429.8" r="0.71" fill="#f1edd8" fill-opacity="0.69"/>
<circle cx="101.98" cy="446.87" r="0.74" fill="#f1edd8" fill-opacity="0.86"/>
<circle cx="98.66" cy="434.48" r="0.39" fill="#f1edd8" fill-opacity="0.66"/>
<circle cx="82.58" cy="446.48" r="0.82" fill="#f1edd8" fill-opacity="0.73"/>
<circle cx="101.62" cy="437.77" r="0.85" fill="#f1edd8" fill-opacity="0.92"/>
<circle cx="88.82" cy="449.39" r="0.82" fill="#f1edd8" fill-opacity="0.69"/>
<circle cx="99.21" cy="432.93" r="0.83" fill="#f1edd8" fill-opacity="0.72"/>
<circle cx="90.3" cy="450.21" r="0.63" fill="#f1edd8" fill-opacity="0.77"/>
<circle cx="98.53" cy="445.5" r="0.64" fill="#f1edd8" fill-opacity="0.7"/>
<circle cx="80.5" cy="434.65" r="0.49" fill="#f1edd8" fill-opacity="0.58"/>
<circle cx="87.68" cy="433.81" r="0.84" fill="#f1edd8" fill-opacity="0.73"/>
<circle cx="86.32" cy="436" r="0.5" fill="#f1edd8" fill-opacity="0.68"/>
<circle cx="102.25" cy="435.96" r="0.44" fill="#f1edd8" fill-opacity="0.69"/>
<circle cx="97.14" cy="453.02" r="0.82" fill="#f1edd8" fill-opacity="0.8"/>
<circle cx="98.37" cy="430.71" r="0.56" fill="#f1edd8" fill-opacity="0.93"/>
<circle cx="100.8" cy="445.77" r="0.82" fill="#f1edd8" fill-opacity="0.8"/>
<circle cx="98.9" cy="431.55" r="0.73" fill="#f1edd8" fill-opacity="0.7"/>
<circle cx="82.27" cy="431.86" r="0.7" fill="#f1edd8" fill-opacity="0.94"/>
<circle cx="97.57" cy="447.17" r="0.37" fill="#f1edd8" fill-opacity="0.55"/>
<circle cx="101.29" cy="452.01" r="0.72" fill="#f1edd8" fill-opacity="0.84"/>
<circle cx="91.73" cy="431.61" r="0.42" fill="#f1edd8" fill-opacity="0.69"/>
<circle cx="100.59" cy="435.72" r="0.75" fill="#f1edd8" fill-opacity="0.59"/>
<circle cx="96.81" cy="453.09" r="0.72" fill="#f1edd8" fill-opacity="0.62"/>
<circle cx="92.41" cy="433.84" r="0.7" fill="#f1edd8" fill-opacity="0.73"/>
<circle cx="82.91" cy="446.49" r="0.59" fill="#f1edd8" fill-opacity="0.5"/>
<circle cx="85.58" cy="450.36" r="0.54" fill="#f1edd8" fill-opacity="0.86"/>
<circle cx="90.75" cy="447.51" r="0.54" fill="#f1edd8" fill-opacity="0.79"/>
<circle cx="97.23" cy="431.67" r="0.54" fill="#f1edd8" fill-opacity="0.92"/>
<circle cx="81.98" cy="433.94" r="0.81" fill="#f1edd8" fill-opacity="0.69"/>
<circle cx="99.23" cy="440.02" r="0.62" fill="#f1edd8" fill-opacity="0.73"/>
<circle cx="95.83" cy="434.72" r="0.47" fill="#f1edd8" fill-opacity="0.78"/>
<circle cx="91.1" cy="433.1" r="0.59" fill="#f1edd8" fill-opacity="0.71"/>
<circle cx="96.2" cy="434.76" r="0.49" fill="#f1edd8" fill-opacity="0.94"/>
<circle cx="98.54" cy="444.75" r="0.6" fill="#f1edd8" fill-opacity="0.92"/>
<circle cx="82.21" cy="446.72" r="0.63" fill="#f1edd8" fill-opacity="0.54"/>
<circle cx="97.33" cy="433.76" r="0.63" fill="#f1edd8" fill-opacity="0.72"/>
<circle cx="81.98" cy="443.96" r="0.85" fill="#f1edd8" fill-opacity="0.6"/>
<circle cx="100.36" cy="440.36" r="0.52" fill="#f1edd8" fill-opacity="0.88"/>
<circle cx="97.7" cy="450.88" r="0.47" fill="#f1edd8" fill-opacity="0.67"/>
<circle cx="100.02" cy="435.25" r="0.48" fill="#f1edd8" fill-opacity="0.92"/>
<circle cx="90.75" cy="450.14" r="0.76" fill="#f1edd8" fill-opacity="0.57"/>
<circle cx="95" cy="451.28" r="0.74" fill="#f1edd8" fill-opacity="0.51"/>
<circle cx="95.3" cy="434.05" r="0.83" fill="#f1edd8" fill-opacity="0.61"/>
<circle cx="98.71" cy="449.13" r="0.76" fill="#f1edd8" fill-opacity="0.64"/>
<circle cx="98.08" cy="446.19" r="0.62" fill="#f1edd8" fill-opacity="0.48"/>
<circle cx="91.51" cy="429.2" r="0.78" fill="#f1edd8" fill-opacity="0.52"/>
<circle cx="87.11" cy="436.19" r="0.59" fill="#f1edd8" fill-opacity="0.56"/>
<circle cx="99.38" cy="446.29" r="0.46" fill="#f1edd8" fill-opacity="0.84"/>
<circle cx="81.19" cy="442.2" r="0.46" fill="#f1edd8" fill-opacity="0.62"/>
<circle cx="84.02" cy="434.65" r="0.84" fill="#f1edd8" fill-opacity="0.92"/>
<circle cx="86.69" cy="451.81" r="0.45" fill="#f1edd8" fill-opacity="0.48"/>
<circle cx="82.73" cy="438.77" r="0.77" fill="#f1edd8" fill-opacity="0.6"/>
<circle cx="88.46" cy="438.88" r="0.63" fill="#f1edd8" fill-opacity="0.83"/>
<circle cx="94.43" cy="448.13" r="0.45" fill="#f1edd8" fill-opacity="0.48"/>
<circle cx="102.19" cy="437.76" r="0.59" fill="#f1edd8" fill-opacity="0.61"/>
<circle cx="100.35" cy="432.53" r="0.62" fill="#f1edd8" fill-opacity="0.76"/>
<circle cx="99.99" cy="444.98" r="0.8" fill="#f1edd8" fill-opacity="0.8"/>
<circle cx="94.31" cy="451.93" r="0.38" fill="#f1edd8" fill-opacity="0.75"/>
<circle cx="95.38" cy="449.78" r="0.64" fill="#f1edd8" fill-opacity="0.78"/>
<circle cx="100.43" cy="439.94" r="0.45" fill="#f1edd8" fill-opacity="0.58"/>
<circle cx="97.25" cy="435.02" r="0.82" fill="#f1edd8" fill-opacity="0.92"/>
<circle cx="98.33" cy="432.99" r="0.79" fill="#f1edd8" fill-opacity="0.8"/>
<circle cx="83.67" cy="445.67" r="0.69" fill="#f1edd8" fill-opacity="0.62"/>
<circle cx="83.13" cy="435.46" r="0.49" fill="#f1edd8" fill-opacity="0.9"/>
<circle cx="90.24" cy="453.74" r="0.71" fill="#f1edd8" fill-opacity="0.76"/>
<circle cx="90.01" cy="428.22" r="0.85" fill="#f1edd8" fill-opacity="0.87"/>
<circle cx="101.29" cy="443.43" r="0.64" fill="#f1edd8" fill-opacity="0.7"/>
<circle cx="92.29" cy="431.8" r="0.78" fill="#f1edd8" fill-opacity="0.88"/>
<circle cx="97.69" cy="438.78" r="0.65" fill="#f1edd8" fill-opacity="0.9"/>
<circle cx="99.16" cy="434.47" r="0.36" fill="#f1edd8" fill-opacity="0.81"/>
<circle cx="81.19" cy="447.71" r="0.82" fill="#f1edd8" fill-opacity="0.72"/>
<circle cx="82.9" cy="438.83" r="0.52" fill="#f1edd8" fill-opacity="0.8"/>
<circle cx="99.1" cy="441.18" r="0.67" fill="#f1edd8" fill-opacity="0.77"/>
<circle cx="84.22" cy="432.78" r="0.58" fill="#f1edd8" fill-opacity="0.78"/>
<circle cx="97.69" cy="432.79" r="0.62" fill="#f1edd8" fill-opacity="0.59"/>
<circle cx="82.24" cy="436.44" r="0.76" fill="#f1edd8" fill-opacity="0.68"/>
<circle cx="80.99" cy="440.4" r="0.55" fill="#f1edd8" fill-opacity="0.92"/>
<circle cx="91.38" cy="436.03" r="0.8" fill="#f1edd8" fill-opacity="0.84"/>
<circle cx="80.32" cy="432.67" r="0.58" fill="#f1edd8" fill-opacity="0.47"/>
<circle cx="78.65" cy="443.99" r="0.74" fill="#f1edd8" fill-opacity="0.62"/>
<circle cx="90.85" cy="454.11" r="0.78" fill="#f1edd8" fill-opacity="0.82"/>
<circle cx="90.42" cy="428.71" r="0.73" fill="#f1edd8" fill-opacity="0.61"/>
<circle cx="80.54" cy="444.24" r="0.84" fill="#f1edd8" fill-opacity="0.87"/>
<circle cx="83.19" cy="447.31" r="0.52" fill="#f1edd8" fill-opacity="0.9"/>
<circle cx="84.41" cy="443.03" r="0.53" fill="#f1edd8" fill-opacity="0.55"/>
<circle cx="99.08" cy="430.89" r="0.41" fill="#f1edd8" fill-opacity="0.53"/>
<circle cx="92.05" cy="456.08" r="0.56" fill="#f1edd8" fill-opacity="0.59"/>
<circle cx="88.14" cy="432.77" r="0.47" fill="#f1edd8" fill-opacity="0.69"/>
<circle cx="97.19" cy="450.31" r="0.59" fill="#f1edd8" fill-opacity="0.78"/>
<circle cx="103.84" cy="442.72" r="0.73" fill="#f1edd8" fill-opacity="0.84"/>
<circle cx="89.59" cy="454.84" r="0.52" fill="#f1edd8" fill-opacity="0.85"/>
<circle cx="93.78" cy="431.68" r="0.72" fill="#f1edd8" fill-opacity="0.94"/>
<circle cx="97.38" cy="448.94" r="0.43" fill="#f1edd8" fill-opacity="0.46"/>
<circle cx="82.1" cy="439.28" r="0.35" fill="#f1edd8" fill-opacity="0.46"/>
<circle cx="80.05" cy="438.47" r="0.61" fill="#f1edd8" fill-opacity="0.57"/>
<circle cx="93.52" cy="452.81" r="0.62" fill="#f1edd8" fill-opacity="0.72"/>
<circle cx="89.67" cy="449.02" r="0.71" fill="#f1edd8" fill-opacity="0.59"/>
<circle cx="86.72" cy="448.14" r="0.54" fill="#f1edd8" fill-opacity="0.83"/>
<circle cx="95.61" cy="433.64" r="0.66" fill="#f1edd8" fill-opacity="0.6"/>
<circle cx="92.57" cy="431.81" r="0.35" fill="#f1edd8" fill-opacity="0.6"/>
<circle cx="101.67" cy="443.55" r="0.7" fill="#f1edd8" fill-opacity="0.76"/>
<circle cx="79.39" cy="439.33" r="0.56" fill="#f1edd8" fill-opacity="0.54"/>
<circle cx="99.45" cy="444.01" r="0.65" fill="#f1edd8" fill-opacity="0.9"/>
<circle cx="102.39" cy="440.93" r="0.4" fill="#f1edd8" fill-opacity="0.49"/>
<circle cx="84.55" cy="448.63" r="0.63" fill="#f1edd8" fill-opacity="0.72"/>
<circle cx="96.41" cy="450.2" r="0.42" fill="#f1edd8" fill-opacity="0.86"/>
<circle cx="82.42" cy="452.36" r="0.43" fill="#f1edd8" fill-opacity="0.91"/>
<circle cx="99.19" cy="429.91" r="0.49" fill="#f1edd8" fill-opacity="0.69"/>
<circle cx="87.83" cy="448.72" r="0.72" fill="#f1edd8" fill-opacity="0.66"/>
<circle cx="87.98" cy="455.48" r="0.35" fill="#f1edd8" fill-opacity="0.7"/>
<circle cx="84.77" cy="450.53" r="0.75" fill="#f1edd8" fill-opacity="0.63"/>
<circle cx="97.83" cy="433.01" r="0.78" fill="#f1edd8" fill-opacity="0.72"/>
<circle cx="83.46" cy="447.47" r="0.45" fill="#f1edd8" fill-opacity="0.58"/>
<circle cx="104.21" cy="442.53" r="0.47" fill="#f1edd8" fill-opacity="0.89"/>
<circle cx="79.09" cy="438.48" r="0.62" fill="#f1edd8" fill-opacity="0.52"/>
<circle cx="86.98" cy="434.05" r="0.59" fill="#f1edd8" fill-opacity="0.45"/>
<circle cx="85.11" cy="434.15" r="0.8" fill="#f1edd8" fill-opacity="0.53"/>
<circle cx="96.86" cy="447.61" r="0.72" fill="#f1edd8" fill-opacity="0.91"/>
<circle cx="92.06" cy="454.34" r="0.72" fill="#f1edd8" fill-opacity="0.53"/>
<circle cx="88.77" cy="449.21" r="0.57" fill="#f1edd8" fill-opacity="0.64"/>
<circle cx="92.14" cy="451.96" r="0.48" fill="#f1edd8" fill-opacity="0.61"/>
<circle cx="97.84" cy="448.86" r="0.66" fill="#f1edd8" fill-opacity="0.77"/>
<circle cx="81.69" cy="445.44" r="0.72" fill="#f1edd8" fill-opacity="0.87"/>
<circle cx="92.99" cy="430.38" r="0.46" fill="#f1edd8" fill-opacity="0.92"/>
<circle cx="91.47" cy="432.73" r="0.73" fill="#f1edd8" fill-opacity="0.77"/>
<circle cx="88.01" cy="456.3" r="0.48" fill="#f1edd8" fill-opacity="0.95"/>
<circle cx="81.23" cy="445.29" r="0.57" fill="#f1edd8" fill-opacity="0.48"/>
<circle cx="96.65" cy="450.41" r="0.67" fill="#f1edd8" fill-opacity="0.62"/>
<circle cx="89.63" cy="447.25" r="0.53" fill="#f1edd8" fill-opacity="0.84"/>
<circle cx="97.52" cy="431.12" r="0.74" fill="#f1edd8" fill-opacity="0.57"/>
<circle cx="81.21" cy="435.87" r="0.35" fill="#f1edd8" fill-opacity="0.48"/>
<circle cx="99.41" cy="435.1" r="0.56" fill="#f1edd8" fill-opacity="0.94"/>
<circle cx="86.35" cy="450.44" r="0.77" fill="#f1edd8" fill-opacity="0.91"/>
<circle cx="92.6" cy="432.27" r="0.84" fill="#f1edd8" fill-opacity="0.87"/>
<circle cx="97.27" cy="449.79" r="0.73" fill="#f1edd8" fill-opacity="0.49"/>
<circle cx="99.32" cy="454.52" r="0.38" fill="#f1edd8" fill-opacity="0.6"/>
<circle cx="94.69" cy="450.44" r="0.75" fill="#f1edd8" fill-opacity="0.87"/>
<circle cx="83.11" cy="436.26" r="0.42" fill="#f1edd8" fill-opacity="0.8"/>
<circle cx="93.56" cy="452.45" r="0.42" fill="#f1edd8" fill-opacity="0.92"/>
<circle cx="101.59" cy="438.84" r="0.71" fill="#f1edd8" fill-opacity="0.6"/>
<circle cx="96.73" cy="435.54" r="0.44" fill="#f1edd8" fill-opacity="0.75"/>
<circle cx="91.54" cy="429.91" r="0.42" fill="#f1edd8" fill-opacity="0.63"/>
<circle cx="84.27" cy="432.33" r="0.53" fill="#f1edd8" fill-opacity="0.89"/>
<circle cx="102.06" cy="440.24" r="0.39" fill="#f1edd8" fill-opacity="0.83"/>
<circle cx="83.48" cy="440.24" r="0.66" fill="#f1edd8" fill-opacity="0.75"/>
<circle cx="103" cy="437.96" r="0.73" fill="#f1edd8" fill-opacity="0.67"/>
<circle cx="90.86" cy="434.55" r="0.48" fill="#f1edd8" fill-opacity="0.8"/>
<circle cx="95.64" cy="454.27" r="0.63" fill="#f1edd8" fill-opacity="0.54"/>
<circle cx="90.69" cy="452.11" r="0.77" fill="#f1edd8" fill-opacity="0.61"/>
<circle cx="96.96" cy="451.26" r="0.46" fill="#f1edd8" fill-opacity="0.93"/>
<circle cx="82.34" cy="432.74" r="0.53" fill="#f1edd8" fill-opacity="0.62"/>
<circle cx="82.97" cy="448.42" r="0.51" fill="#f1edd8" fill-opacity="0.57"/>
<circle cx="95.32" cy="433.05" r="0.79" fill="#f1edd8" fill-opacity="0.55"/>
<circle cx="84.3" cy="440.91" r="0.84" fill="#f1edd8" fill-opacity="0.47"/>
<circle cx="88.51" cy="450.24" r="0.73" fill="#f1edd8" fill-opacity="0.62"/>
<circle cx="97.51" cy="451.75" r="0.43" fill="#f1edd8" fill-opacity="0.61"/>
<circle cx="85.7" cy="448.02" r="0.42" fill="#f1edd8" fill-opacity="0.73"/>
<circle cx="105.39" cy="442.5" r="0.63" fill="#f1edd8" fill-opacity="0.63"/>
<circle cx="100.82" cy="428.36" r="0.54" fill="#f1edd8" fill-opacity="0.83"/>
<circle cx="84.33" cy="452.77" r="0.5" fill="#f1edd8" fill-opacity="0.79"/>
<circle cx="86.42" cy="432.82" r="0.6" fill="#f1edd8" fill-opacity="0.89"/>
<circle cx="106.78" cy="439.05" r="0.76" fill="#f1edd8" fill-opacity="0.51"/>
<circle cx="99.19" cy="442.74" r="0.58" fill="#f1edd8" fill-opacity="0.53"/>
<circle cx="77.98" cy="446.24" r="0.67" fill="#f1edd8" fill-opacity="0.52"/>
<circle cx="99.08" cy="445.95" r="0.4" fill="#f1edd8" fill-opacity="0.95"/>
<circle cx="100.06" cy="445.86" r="0.69" fill="#f1edd8" fill-opacity="0.94"/>
<circle cx="89.5" cy="427.71" r="0.76" fill="#f1edd8" fill-opacity="0.72"/>
<circle cx="92.64" cy="431.59" r="0.76" fill="#f1edd8" fill-opacity="0.49"/>
<circle cx="97.47" cy="450.21" r="0.55" fill="#f1edd8" fill-opacity="0.6"/>
<circle cx="97.63" cy="438.21" r="0.53" fill="#f1edd8" fill-opacity="0.52"/>
<circle cx="86.96" cy="452.26" r="0.8" fill="#f1edd8" fill-opacity="0.8"/>
<circle cx="82.83" cy="443.31" r="0.52" fill="#f1edd8" fill-opacity="0.74"/>
<circle cx="88.79" cy="431.8" r="0.41" fill="#f1edd8" fill-opacity="0.94"/>
<circle cx="98.44" cy="450.03" r="0.41" fill="#f1edd8" fill-opacity="0.95"/>
<circle cx="82.41" cy="450.29" r="0.5" fill="#f1edd8" fill-opacity="0.73"/>
<circle cx="94.89" cy="434.27" r="0.63" fill="#f1edd8" fill-opacity="0.52"/>
<circle cx="96.98" cy="449.07" r="0.6" fill="#f1edd8" fill-opacity="0.64"/>
<circle cx="92.51" cy="431.26" r="0.63" fill="#f1edd8" fill-opacity="0.93"/>
<circle cx="79.42" cy="442.82" r="0.72" fill="#f1edd8" fill-opacity="0.89"/>
<circle cx="92.38" cy="432.82" r="0.36" fill="#f1edd8" fill-opacity="0.86"/>
<circle cx="95.44" cy="433.72" r="0.57" fill="#f1edd8" fill-opacity="0.6"/>
<circle cx="97.01" cy="432.22" r="0.69" fill="#f1edd8" fill-opacity="0.89"/>
<circle cx="96.62" cy="434.74" r="0.66" fill="#f1edd8" fill-opacity="0.54"/>
<circle cx="94.62" cy="454.2" r="0.44" fill="#f1edd8" fill-opacity="0.62"/>
<circle cx="83.97" cy="441.91" r="0.38" fill="#f1edd8" fill-opacity="0.55"/>
<circle cx="91.47" cy="432.28" r="0.73" fill="#f1edd8" fill-opacity="0.7"/>
<circle cx="97.04" cy="448.31" r="0.76" fill="#f1edd8" fill-opacity="0.67"/>
<circle cx="84.82" cy="440.59" r="0.82" fill="#f1edd8" fill-opacity="0.46"/>
<circle cx="86.13" cy="431.43" r="0.62" fill="#f1edd8" fill-opacity="0.79"/>
<circle cx="99.27" cy="433.16" r="0.69" fill="#f1edd8" fill-opacity="0.84"/>
<circle cx="104.04" cy="435.24" r="0.72" fill="#f1edd8" fill-opacity="0.87"/>
<circle cx="98.8" cy="438.46" r="0.72" fill="#f1edd8" fill-opacity="0.87"/>
<circle cx="86.02" cy="441.19" r="0.57" fill="#f1edd8" fill-opacity="0.62"/>
<circle cx="96.25" cy="437.61" r="0.39" fill="#f1edd8" fill-opacity="0.86"/>
<circle cx="87.49" cy="433.28" r="0.69" fill="#f1edd8" fill-opacity="0.83"/>
<circle cx="92.52" cy="450.48" r="0.72" fill="#f1edd8" fill-opacity="0.93"/>
<circle cx="87.18" cy="445.65" r="0.65" fill="#f1edd8" fill-opacity="0.58"/>
<circle cx="82.69" cy="447.02" r="0.58" fill="#f1edd8" fill-opacity="0.54"/>
<circle cx="90.33" cy="429.23" r="0.37" fill="#f1edd8" fill-opacity="0.86"/>
<circle cx="96.92" cy="451.28" r="0.83" fill="#f1edd8" fill-opacity="0.72"/>
<circle cx="89.85" cy="448.26" r="0.53" fill="#f1edd8" fill-opacity="0.89"/>
<circle cx="99.13" cy="448.74" r="0.7" fill="#f1edd8" fill-opacity="0.7"/>
<circle cx="101.51" cy="439.19" r="0.54" fill="#f1edd8" fill-opacity="0.8"/>
<circle cx="89.25" cy="454.36" r="0.81" fill="#f1edd8" fill-opacity="0.84"/>
<circle cx="83.05" cy="437.91" r="0.4" fill="#f1edd8" fill-opacity="0.78"/>
<circle cx="95.73" cy="447.1" r="0.38" fill="#f1edd8" fill-opacity="0.91"/>
<circle cx="83.06" cy="440.67" r="0.49" fill="#f1edd8" fill-opacity="0.77"/>
<circle cx="79.53" cy="445.62" r="0.85" fill="#f1edd8" fill-opacity="0.93"/>
<circle cx="80.94" cy="438.56" r="0.39" fill="#f1edd8" fill-opacity="0.76"/>
<circle cx="101.43" cy="450.05" r="0.75" fill="#f1edd8" fill-opacity="0.56"/>
<circle cx="80.69" cy="439.38" r="0.83" fill="#f1edd8" fill-opacity="0.83"/>
<circle cx="96.23" cy="446.57" r="0.42" fill="#f1edd8" fill-opacity="0.66"/>
<circle cx="101.77" cy="441.67" r="0.64" fill="#f1edd8" fill-opacity="0.76"/>
<circle cx="89.92" cy="451.84" r="0.57" fill="#f1edd8" fill-opacity="0.95"/>
<circle cx="92.84" cy="427.5" r="0.35" fill="#f1edd8" fill-opacity="0.92"/>
<circle cx="84.49" cy="444.55" r="0.66" fill="#f1edd8" fill-opacity="0.86"/>
<circle cx="79.37" cy="440.79" r="0.8" fill="#f1edd8" fill-opacity="0.94"/>
<circle cx="85.43" cy="448.87" r="0.38" fill="#f1edd8" fill-opacity="0.48"/>
<circle cx="81.48" cy="442.49" r="0.71" fill="#f1edd8" fill-opacity="0.52"/>
<circle cx="87.93" cy="429.37" r="0.65" fill="#f1edd8" fill-opacity="0.45"/>
<circle cx="104.14" cy="441.37" r="0.65" fill="#f1edd8" fill-opacity="0.51"/>
<circle cx="98.24" cy="443.44" r="0.8" fill="#f1edd8" fill-opacity="0.49"/>
<circle cx="100.71" cy="438.64" r="0.51" fill="#f1edd8" fill-opacity="0.72"/>
<circle cx="82.38" cy="448.11" r="0.7" fill="#f1edd8" fill-opacity="0.94"/>
<circle cx="88.24" cy="434.17" r="0.52" fill="#f1edd8" fill-opacity="0.73"/>
<circle cx="90.75" cy="451.18" r="0.71" fill="#f1edd8" fill-opacity="0.83"/>
<circle cx="83.15" cy="437.31" r="0.83" fill="#f1edd8" fill-opacity="0.63"/>
<circle cx="98.9" cy="432.79" r="0.5" fill="#f1edd8" fill-opacity="0.52"/>
<circle cx="79.7" cy="441.99" r="0.45" fill="#f1edd8" fill-opacity="0.78"/>
<circle cx="100.54" cy="448.35" r="0.64" fill="#f1edd8" fill-opacity="0.74"/>
<circle cx="95.72" cy="453.05" r="0.84" fill="#f1edd8" fill-opacity="0.64"/>
<circle cx="84.29" cy="434.24" r="0.72" fill="#f1edd8" fill-opacity="0.56"/>
<circle cx="88.98" cy="449.77" r="0.79" fill="#f1edd8" fill-opacity="0.66"/>
<circle cx="98.87" cy="440.76" r="0.66" fill="#f1edd8" fill-opacity="0.83"/>
<circle cx="84.82" cy="434.45" r="0.36" fill="#f1edd8" fill-opacity="0.7"/>
<circle cx="94.85" cy="431.66" r="0.39" fill="#f1edd8" fill-opacity="0.86"/>
<circle cx="86.49" cy="450.1" r="0.7" fill="#f1edd8" fill-opacity="0.87"/>
<circle cx="97.15" cy="451.98" r="0.84" fill="#f1edd8" fill-opacity="0.67"/>
<circle cx="87.65" cy="452.71" r="0.42" fill="#f1edd8" fill-opacity="0.83"/>
<circle cx="102.58" cy="435.35" r="0.37" fill="#f1edd8" fill-opacity="0.87"/>
<circle cx="97.35" cy="450.92" r="0.64" fill="#f1edd8" fill-opacity="0.56"/>
<circle cx="82.05" cy="442.16" r="0.74" fill="#f1edd8" fill-opacity="0.73"/>
<circle cx="95.92" cy="449.62" r="0.66" fill="#f1edd8" fill-opacity="0.85"/>
<circle cx="102.47" cy="434.99" r="0.64" fill="#f1edd8" fill-opacity="0.93"/>
<circle cx="85.21" cy="431.08" r="0.72" fill="#f1edd8" fill-opacity="0.81"/>
<circle cx="86.55" cy="448.97" r="0.37" fill="#f1edd8" fill-opacity="0.64"/>
<circle cx="101.69" cy="448.22" r="0.66" fill="#f1edd8" fill-opacity="0.55"/>
<circle cx="86.65" cy="432.05" r="0.49" fill="#f1edd8" fill-opacity="0.88"/>
<circle cx="90.68" cy="427.72" r="0.5" fill="#f1edd8" fill-opacity="0.59"/>
<circle cx="90.85" cy="441.26" r="0.45" fill="#e6e2cc" fill-opacity="0.45"/>
<circle cx="82.13" cy="447.73" r="0.54" fill="#e6e2cc" fill-opacity="0.64"/>
<circle cx="107.11" cy="441.42" r="0.62" fill="#e6e2cc" fill-opacity="0.53"/>
<circle cx="88.23" cy="441.99" r="0.6" fill="#e6e2cc" fill-opacity="0.51"/>
<circle cx="101.97" cy="434.6" r="0.67" fill="#e6e2cc" fill-opacity="0.38"/>
<circle cx="98.64" cy="436.2" r="0.3" fill="#e6e2cc" fill-opacity="0.36"/>
<circle cx="80.77" cy="439.67" r="0.41" fill="#e6e2cc" fill-opacity="0.53"/>
<circle cx="91.87" cy="434.3" r="0.43" fill="#e6e2cc" fill-opacity="0.64"/>
<circle cx="95.05" cy="445.63" r="0.49" fill="#e6e2cc" fill-opacity="0.43"/>
<circle cx="86.02" cy="456.34" r="0.62" fill="#e6e2cc" fill-opacity="0.52"/>
<circle cx="87.86" cy="438.06" r="0.59" fill="#e6e2cc" fill-opacity="0.51"/>
<circle cx="86.08" cy="430.39" r="0.46" fill="#e6e2cc" fill-opacity="0.56"/>
<circle cx="101.52" cy="445.56" r="0.66" fill="#e6e2cc" fill-opacity="0.49"/>
<circle cx="90.75" cy="442.41" r="0.5" fill="#e6e2cc" fill-opacity="0.59"/>
<circle cx="91.51" cy="445.21" r="0.39" fill="#e6e2cc" fill-opacity="0.68"/>
<circle cx="89.15" cy="432.16" r="0.4" fill="#e6e2cc" fill-opacity="0.47"/>
<circle cx="88.19" cy="436.82" r="0.55" fill="#e6e2cc" fill-opacity="0.5"/>
<circle cx="89.15" cy="440.09" r="0.44" fill="#e6e2cc" fill-opacity="0.46"/>
<circle cx="83.45" cy="438.52" r="0.32" fill="#e6e2cc" fill-opacity="0.42"/>
<circle cx="95.96" cy="448.05" r="0.48" fill="#e6e2cc" fill-opacity="0.49"/>
<circle cx="96.51" cy="455.24" r="0.53" fill="#e6e2cc" fill-opacity="0.41"/>
<circle cx="94.38" cy="427.71" r="0.47" fill="#e6e2cc" fill-opacity="0.57"/>
<circle cx="78.42" cy="450.73" r="0.35" fill="#e6e2cc" fill-opacity="0.49"/>
<circle cx="91.72" cy="451.3" r="0.55" fill="#e6e2cc" fill-opacity="0.68"/>
<circle cx="88.77" cy="441.97" r="0.38" fill="#e6e2cc" fill-opacity="0.52"/>
<circle cx="96.39" cy="447.3" r="0.65" fill="#e6e2cc" fill-opacity="0.52"/>
<circle cx="81.45" cy="446.85" r="0.39" fill="#e6e2cc" fill-opacity="0.49"/>
<circle cx="89.87" cy="438.56" r="0.55" fill="#e6e2cc" fill-opacity="0.65"/>
<circle cx="89.59" cy="440.92" r="0.57" fill="#e6e2cc" fill-opacity="0.48"/>
<circle cx="76.07" cy="445.45" r="0.69" fill="#e6e2cc" fill-opacity="0.63"/>
<circle cx="81.34" cy="449.88" r="0.57" fill="#e6e2cc" fill-opacity="0.43"/>
<circle cx="85.33" cy="430.41" r="0.48" fill="#e6e2cc" fill-opacity="0.52"/>
<circle cx="99.07" cy="442.53" r="0.69" fill="#e6e2cc" fill-opacity="0.5"/>
<circle cx="80.71" cy="451.89" r="0.44" fill="#e6e2cc" fill-opacity="0.61"/>
<circle cx="82.57" cy="446.74" r="0.65" fill="#e6e2cc" fill-opacity="0.59"/>
<circle cx="100.63" cy="454.6" r="0.56" fill="#e6e2cc" fill-opacity="0.56"/>
<circle cx="91.2" cy="436.22" r="0.56" fill="#e6e2cc" fill-opacity="0.57"/>
<circle cx="81.52" cy="441.47" r="0.35" fill="#e6e2cc" fill-opacity="0.57"/>
<circle cx="93.22" cy="439.98" r="0.63" fill="#e6e2cc" fill-opacity="0.52"/>
<circle cx="83.07" cy="434.7" r="0.63" fill="#e6e2cc" fill-opacity="0.63"/>
<ellipse cx="91.5" cy="441.3" rx="5.8" ry="6.6" fill="url(#g3c)"/>
<circle cx="90.19" cy="445.37" r="0.45" fill="#8f7f56" fill-opacity="0.44"/>
<circle cx="88.22" cy="444.01" r="0.45" fill="#8f7f56" fill-opacity="0.46"/>
<circle cx="92.14" cy="442.67" r="0.5" fill="#8f7f56" fill-opacity="0.37"/>
<circle cx="94.38" cy="441.26" r="0.52" fill="#8f7f56" fill-opacity="0.43"/>
<circle cx="91.62" cy="443.4" r="0.44" fill="#8f7f56" fill-opacity="0.4"/>
<circle cx="92.53" cy="439.91" r="0.77" fill="#8f7f56" fill-opacity="0.32"/>
<circle cx="92.02" cy="437.39" r="0.45" fill="#8f7f56" fill-opacity="0.31"/>
<circle cx="90.72" cy="443.21" r="0.76" fill="#8f7f56" fill-opacity="0.27"/>
<circle cx="87.52" cy="439.75" r="0.74" fill="#8f7f56" fill-opacity="0.42"/>
<circle cx="90.66" cy="440.44" r="0.51" fill="#8f7f56" fill-opacity="0.47"/>
<circle cx="83.99" cy="437.35" r="0.66" fill="#8f7f56" fill-opacity="0.29"/>
<circle cx="88.89" cy="443.04" r="0.57" fill="#8f7f56" fill-opacity="0.41"/>
<circle cx="92.25" cy="440.68" r="0.64" fill="#8f7f56" fill-opacity="0.38"/>
<circle cx="91.6" cy="439.98" r="0.5" fill="#8f7f56" fill-opacity="0.47"/>
<circle cx="89.8" cy="447.32" r="0.66" fill="#8f7f56" fill-opacity="0.3"/>
<circle cx="97.82" cy="441.18" r="0.63" fill="#8f7f56" fill-opacity="0.24"/>
<circle cx="92.51" cy="442.75" r="0.43" fill="#8f7f56" fill-opacity="0.22"/>
<circle cx="91.67" cy="443.48" r="0.63" fill="#8f7f56" fill-opacity="0.28"/>
<circle cx="93.26" cy="439.99" r="0.67" fill="#8f7f56" fill-opacity="0.43"/>
<circle cx="97.1" cy="436.98" r="0.47" fill="#8f7f56" fill-opacity="0.21"/>
<circle cx="94.59" cy="437.28" r="0.52" fill="#8f7f56" fill-opacity="0.25"/>
<circle cx="90.44" cy="439.21" r="0.58" fill="#8f7f56" fill-opacity="0.3"/>
<circle cx="90.82" cy="444.4" r="0.72" fill="#8f7f56" fill-opacity="0.37"/>
<circle cx="91.94" cy="437.93" r="0.65" fill="#8f7f56" fill-opacity="0.48"/>
<circle cx="92.24" cy="445" r="0.54" fill="#8f7f56" fill-opacity="0.45"/>
<circle cx="92.48" cy="446.67" r="0.65" fill="#8f7f56" fill-opacity="0.27"/>
<circle cx="86.72" cy="439.27" r="0.51" fill="#8f7f56" fill-opacity="0.5"/>
<circle cx="92.75" cy="441.28" r="0.73" fill="#8f7f56" fill-opacity="0.26"/>
<circle cx="92.13" cy="437.66" r="0.78" fill="#8f7f56" fill-opacity="0.36"/>
<circle cx="95.32" cy="442.67" r="0.66" fill="#8f7f56" fill-opacity="0.48"/>
<circle cx="94.34" cy="441.14" r="0.71" fill="#8f7f56" fill-opacity="0.22"/>
<circle cx="89.3" cy="440.57" r="0.45" fill="#8f7f56" fill-opacity="0.36"/>
<circle cx="86.33" cy="435.68" r="0.75" fill="#8f7f56" fill-opacity="0.35"/>
<circle cx="93.28" cy="438.26" r="0.48" fill="#8f7f56" fill-opacity="0.24"/>
<circle cx="93.52" cy="444.75" r="0.53" fill="#8f7f56" fill-opacity="0.24"/>
<circle cx="87.1" cy="442.38" r="0.59" fill="#8f7f56" fill-opacity="0.27"/>
<circle cx="91.84" cy="440.47" r="0.47" fill="#8f7f56" fill-opacity="0.5"/>
<circle cx="91.49" cy="440.77" r="0.75" fill="#8f7f56" fill-opacity="0.33"/>
<circle cx="90.06" cy="440.61" r="0.68" fill="#8f7f56" fill-opacity="0.33"/>
<circle cx="94.44" cy="443.75" r="0.44" fill="#8f7f56" fill-opacity="0.47"/>
<circle cx="93.31" cy="439.92" r="0.76" fill="#8f7f56" fill-opacity="0.38"/>
<circle cx="87.15" cy="439.11" r="0.49" fill="#8f7f56" fill-opacity="0.48"/>
<circle cx="91.08" cy="442.3" r="0.68" fill="#8f7f56" fill-opacity="0.26"/>
<circle cx="89.91" cy="443.48" r="0.64" fill="#8f7f56" fill-opacity="0.22"/>
<circle cx="92.03" cy="438.98" r="0.61" fill="#8f7f56" fill-opacity="0.39"/>
<circle cx="92.37" cy="444.04" r="0.67" fill="#8f7f56" fill-opacity="0.24"/>
<circle cx="89.11" cy="447.43" r="0.61" fill="#8f7f56" fill-opacity="0.42"/>
<circle cx="92.35" cy="444.08" r="0.58" fill="#8f7f56" fill-opacity="0.36"/>
<circle cx="92.28" cy="443.53" r="0.62" fill="#8f7f56" fill-opacity="0.28"/>
<circle cx="95.46" cy="437.43" r="0.69" fill="#8f7f56" fill-opacity="0.27"/>
<circle cx="88.52" cy="444.48" r="0.66" fill="#8f7f56" fill-opacity="0.36"/>
<circle cx="95.04" cy="442.94" r="0.47" fill="#8f7f56" fill-opacity="0.22"/>
<circle cx="93.05" cy="444.16" r="0.78" fill="#8f7f56" fill-opacity="0.5"/>
<circle cx="86.02" cy="437.8" r="0.75" fill="#8f7f56" fill-opacity="0.44"/>
<circle cx="93.62" cy="438.54" r="0.7" fill="#8f7f56" fill-opacity="0.49"/>
<circle cx="92.14" cy="443.27" r="0.6" fill="#8f7f56" fill-opacity="0.34"/>
<circle cx="88.06" cy="436.6" r="0.68" fill="#8f7f56" fill-opacity="0.21"/>
<circle cx="92.4" cy="441.74" r="0.58" fill="#8f7f56" fill-opacity="0.29"/>
<circle cx="87.82" cy="440.73" r="0.52" fill="#8f7f56" fill-opacity="0.31"/>
<circle cx="95.71" cy="439.18" r="0.75" fill="#8f7f56" fill-opacity="0.27"/>
</g></g>
<rect x="51.5" y="410.6" width="77.9" height="58.2" fill="none" stroke="#2b2a22" stroke-width="1.2"/>
<rect x="110.3" y="457.4" width="17.6" height="7.6" fill="#fff"/>
<rect x="110.3" y="464.9" width="17.6" height="1.8" fill="#000"/>
<text x="119.2" y="463.5" font-size="7.6" text-anchor="middle" textLength="16.4" lengthAdjust="spacingAndGlyphs" style="stroke-width:0.15px">1mm</text>
<clipPath id="c4"><rect x="140.8" y="410.5" width="77.7" height="58.1"/></clipPath><g clip-path="url(#c4)"><g filter="url(#soft)">
<rect x="140.8" y="410.5" width="77.7" height="58.1" fill="url(#g4)"/>
<rect x="140.8" y="410.5" width="77.7" height="58.1" fill="url(#g4h)"/>
<ellipse cx="176.9" cy="437.5" rx="9.5" ry="9.5" fill="url(#g4b)"/>
<circle cx="176.43" cy="434.99" r="0.87" fill="#665f42" fill-opacity="0.31"/>
<circle cx="179.51" cy="439.14" r="0.58" fill="#665f42" fill-opacity="0.5"/>
<circle cx="174.88" cy="442.28" r="0.7" fill="#756e50" fill-opacity="0.35"/>
<circle cx="176.43" cy="436.82" r="0.81" fill="#665f42" fill-opacity="0.27"/>
<circle cx="178.28" cy="438.06" r="0.84" fill="#5a543a" fill-opacity="0.44"/>
<circle cx="177.98" cy="439.01" r="0.71" fill="#5a543a" fill-opacity="0.34"/>
<circle cx="170.67" cy="439.01" r="0.45" fill="#665f42" fill-opacity="0.32"/>
<circle cx="182.54" cy="440.31" r="0.55" fill="#5a543a" fill-opacity="0.49"/>
<circle cx="178.82" cy="446.29" r="0.41" fill="#5a543a" fill-opacity="0.23"/>
<circle cx="175.95" cy="441.58" r="0.85" fill="#5a543a" fill-opacity="0.43"/>
<circle cx="177.24" cy="439.74" r="0.47" fill="#756e50" fill-opacity="0.5"/>
<circle cx="177.84" cy="434.63" r="0.56" fill="#756e50" fill-opacity="0.36"/>
<circle cx="174.58" cy="441.12" r="0.88" fill="#756e50" fill-opacity="0.42"/>
<circle cx="179.55" cy="431.35" r="0.65" fill="#665f42" fill-opacity="0.27"/>
<circle cx="168.72" cy="443.22" r="0.56" fill="#5a543a" fill-opacity="0.29"/>
<circle cx="174.89" cy="429.67" r="0.89" fill="#756e50" fill-opacity="0.46"/>
<circle cx="178.82" cy="437.67" r="0.88" fill="#5a543a" fill-opacity="0.24"/>
<circle cx="179.87" cy="433.77" r="0.63" fill="#5a543a" fill-opacity="0.27"/>
<circle cx="177.2" cy="435.15" r="0.61" fill="#665f42" fill-opacity="0.34"/>
<circle cx="175.24" cy="437.37" r="0.41" fill="#756e50" fill-opacity="0.21"/>
<circle cx="172.43" cy="443.21" r="0.7" fill="#756e50" fill-opacity="0.37"/>
<circle cx="177.17" cy="442.78" r="0.73" fill="#665f42" fill-opacity="0.46"/>
<circle cx="169.53" cy="436.85" r="0.75" fill="#756e50" fill-opacity="0.27"/>
<circle cx="175.22" cy="430.56" r="0.51" fill="#5a543a" fill-opacity="0.29"/>
<circle cx="179.02" cy="432.89" r="0.7" fill="#665f42" fill-opacity="0.38"/>
<circle cx="176.73" cy="436.88" r="0.6" fill="#5a543a" fill-opacity="0.35"/>
<circle cx="170.56" cy="446.07" r="0.78" fill="#5a543a" fill-opacity="0.24"/>
<circle cx="180.64" cy="437.12" r="0.61" fill="#5a543a" fill-opacity="0.48"/>
<circle cx="181.04" cy="440.56" r="0.71" fill="#756e50" fill-opacity="0.42"/>
<circle cx="176.39" cy="433.22" r="0.75" fill="#665f42" fill-opacity="0.26"/>
<circle cx="173.16" cy="440.96" r="0.75" fill="#756e50" fill-opacity="0.25"/>
<circle cx="171.45" cy="438.78" r="0.5" fill="#756e50" fill-opacity="0.28"/>
<circle cx="175.26" cy="436.56" r="0.86" fill="#665f42" fill-opacity="0.41"/>
<circle cx="179.65" cy="434.76" r="0.47" fill="#5a543a" fill-opacity="0.25"/>
<circle cx="180.79" cy="432.03" r="0.83" fill="#756e50" fill-opacity="0.32"/>
<circle cx="174.16" cy="440.39" r="0.79" fill="#756e50" fill-opacity="0.22"/>
<circle cx="175.57" cy="437.21" r="0.65" fill="#5a543a" fill-opacity="0.41"/>
<circle cx="179.88" cy="433.98" r="0.86" fill="#5a543a" fill-opacity="0.38"/>
<circle cx="178.62" cy="441.29" r="0.85" fill="#5a543a" fill-opacity="0.39"/>
<circle cx="177.44" cy="438.33" r="0.55" fill="#665f42" fill-opacity="0.42"/>
<circle cx="171.05" cy="447.38" r="0.56" fill="#756e50" fill-opacity="0.5"/>
<circle cx="177.73" cy="435.53" r="0.62" fill="#665f42" fill-opacity="0.27"/>
<circle cx="176.68" cy="433.97" r="0.41" fill="#756e50" fill-opacity="0.4"/>
<circle cx="171.99" cy="436.69" r="0.51" fill="#665f42" fill-opacity="0.36"/>
<circle cx="172.22" cy="434.57" r="0.76" fill="#5a543a" fill-opacity="0.22"/>
<circle cx="174.79" cy="436.58" r="0.49" fill="#665f42" fill-opacity="0.5"/>
<circle cx="176.78" cy="438.16" r="0.48" fill="#5a543a" fill-opacity="0.26"/>
<circle cx="176.67" cy="435.48" r="0.63" fill="#665f42" fill-opacity="0.31"/>
<circle cx="177.58" cy="442.24" r="0.49" fill="#756e50" fill-opacity="0.31"/>
<circle cx="183.65" cy="432.92" r="0.72" fill="#756e50" fill-opacity="0.2"/>
<circle cx="182.39" cy="429.46" r="0.7" fill="#756e50" fill-opacity="0.24"/>
<circle cx="172.38" cy="430.82" r="0.89" fill="#665f42" fill-opacity="0.29"/>
<circle cx="179.38" cy="440.96" r="0.42" fill="#665f42" fill-opacity="0.47"/>
<circle cx="171.16" cy="434.25" r="0.6" fill="#756e50" fill-opacity="0.44"/>
<circle cx="184.72" cy="436.72" r="0.56" fill="#5a543a" fill-opacity="0.28"/>
<circle cx="171.66" cy="436.87" r="0.76" fill="#5a543a" fill-opacity="0.39"/>
<circle cx="177" cy="437.28" r="0.82" fill="#756e50" fill-opacity="0.27"/>
<circle cx="178.49" cy="434.86" r="0.82" fill="#5a543a" fill-opacity="0.45"/>
<circle cx="178.97" cy="438.98" r="0.67" fill="#5a543a" fill-opacity="0.2"/>
<circle cx="178.12" cy="442.03" r="0.63" fill="#665f42" fill-opacity="0.25"/>
<circle cx="177.79" cy="432.4" r="0.4" fill="#756e50" fill-opacity="0.25"/>
<circle cx="183.69" cy="441.75" r="0.81" fill="#5a543a" fill-opacity="0.35"/>
<circle cx="180.12" cy="436.32" r="0.82" fill="#5a543a" fill-opacity="0.45"/>
<circle cx="180.44" cy="435.94" r="0.76" fill="#665f42" fill-opacity="0.45"/>
<circle cx="170.95" cy="433.11" r="0.78" fill="#5a543a" fill-opacity="0.47"/>
<circle cx="178.6" cy="435.67" r="0.57" fill="#665f42" fill-opacity="0.42"/>
<circle cx="173.09" cy="438.36" r="0.78" fill="#665f42" fill-opacity="0.33"/>
<circle cx="177.39" cy="437.89" r="0.85" fill="#756e50" fill-opacity="0.29"/>
<circle cx="173.01" cy="431.37" r="0.63" fill="#665f42" fill-opacity="0.3"/>
<circle cx="179.97" cy="437.63" r="0.68" fill="#756e50" fill-opacity="0.22"/>
<circle cx="177.19" cy="445.04" r="0.77" fill="#665f42" fill-opacity="0.49"/>
<circle cx="171.6" cy="443.71" r="0.51" fill="#665f42" fill-opacity="0.45"/>
<circle cx="171.63" cy="425.99" r="0.63" fill="#665f42" fill-opacity="0.3"/>
<circle cx="178.13" cy="436.85" r="0.89" fill="#756e50" fill-opacity="0.29"/>
<circle cx="174.3" cy="444.44" r="0.65" fill="#5a543a" fill-opacity="0.23"/>
<circle cx="171.4" cy="432.13" r="0.73" fill="#5a543a" fill-opacity="0.46"/>
<circle cx="177.61" cy="439.01" r="0.85" fill="#5a543a" fill-opacity="0.21"/>
<circle cx="179.46" cy="438.29" r="0.81" fill="#756e50" fill-opacity="0.26"/>
<circle cx="174.96" cy="437.35" r="0.71" fill="#5a543a" fill-opacity="0.23"/>
<circle cx="175.74" cy="440.68" r="0.82" fill="#5a543a" fill-opacity="0.3"/>
<circle cx="177.94" cy="444.41" r="0.65" fill="#756e50" fill-opacity="0.48"/>
<circle cx="175.95" cy="438.11" r="0.75" fill="#665f42" fill-opacity="0.26"/>
<circle cx="181.4" cy="439.02" r="0.51" fill="#5a543a" fill-opacity="0.27"/>
<circle cx="180.37" cy="442.32" r="0.5" fill="#756e50" fill-opacity="0.43"/>
<circle cx="171.54" cy="434.93" r="0.57" fill="#665f42" fill-opacity="0.49"/>
<circle cx="174.68" cy="441.25" r="0.88" fill="#756e50" fill-opacity="0.35"/>
<circle cx="180.13" cy="443.44" r="0.86" fill="#665f42" fill-opacity="0.29"/>
<circle cx="184.65" cy="441.55" r="0.55" fill="#5a543a" fill-opacity="0.4"/>
<circle cx="171.8" cy="441.85" r="0.58" fill="#665f42" fill-opacity="0.48"/>
<circle cx="173.21" cy="430.2" r="0.69" fill="#5a543a" fill-opacity="0.27"/>
<circle cx="167.39" cy="437.4" r="0.8" fill="#665f42" fill-opacity="0.46"/>
<circle cx="176.95" cy="435.63" r="0.83" fill="#5a543a" fill-opacity="0.45"/>
<circle cx="174.05" cy="437.44" r="0.67" fill="#665f42" fill-opacity="0.22"/>
<circle cx="178.17" cy="436.08" r="0.52" fill="#756e50" fill-opacity="0.43"/>
<circle cx="184.63" cy="439.15" r="0.55" fill="#756e50" fill-opacity="0.44"/>
<circle cx="177.28" cy="435.32" r="0.81" fill="#5a543a" fill-opacity="0.23"/>
<circle cx="175.57" cy="438.03" r="0.62" fill="#665f42" fill-opacity="0.25"/>
<circle cx="168.51" cy="436.94" r="0.59" fill="#756e50" fill-opacity="0.22"/>
<circle cx="172.97" cy="437.88" r="0.76" fill="#756e50" fill-opacity="0.2"/>
<circle cx="179.11" cy="434.77" r="0.42" fill="#756e50" fill-opacity="0.27"/>
<circle cx="172.31" cy="439.12" r="0.42" fill="#756e50" fill-opacity="0.43"/>
<circle cx="180.43" cy="434.43" r="0.56" fill="#756e50" fill-opacity="0.49"/>
<circle cx="179.36" cy="436.08" r="0.59" fill="#756e50" fill-opacity="0.42"/>
<circle cx="171.95" cy="433.76" r="0.63" fill="#5a543a" fill-opacity="0.46"/>
<circle cx="181.07" cy="438.1" r="0.53" fill="#756e50" fill-opacity="0.32"/>
<circle cx="178.83" cy="440.04" r="0.62" fill="#5a543a" fill-opacity="0.42"/>
<circle cx="179.93" cy="439.88" r="0.8" fill="#5a543a" fill-opacity="0.24"/>
<circle cx="186.25" cy="436.99" r="0.78" fill="#665f42" fill-opacity="0.32"/>
<circle cx="181.95" cy="436.04" r="0.54" fill="#5a543a" fill-opacity="0.42"/>
<circle cx="181.85" cy="438.83" r="0.59" fill="#665f42" fill-opacity="0.33"/>
<circle cx="175.32" cy="437.96" r="0.72" fill="#665f42" fill-opacity="0.37"/>
<circle cx="173.97" cy="430.43" r="0.45" fill="#665f42" fill-opacity="0.26"/>
<circle cx="176.77" cy="438.73" r="0.59" fill="#665f42" fill-opacity="0.34"/>
<circle cx="183.06" cy="436.9" r="0.44" fill="#665f42" fill-opacity="0.3"/>
<circle cx="170.48" cy="432.42" r="0.44" fill="#756e50" fill-opacity="0.37"/>
<circle cx="177.88" cy="431.1" r="0.44" fill="#665f42" fill-opacity="0.24"/>
<circle cx="175.45" cy="434.53" r="0.84" fill="#5a543a" fill-opacity="0.35"/>
<circle cx="176.73" cy="435.22" r="0.6" fill="#5a543a" fill-opacity="0.46"/>
<circle cx="171.51" cy="436.93" r="0.58" fill="#756e50" fill-opacity="0.31"/>
<circle cx="177.56" cy="436.86" r="0.79" fill="#756e50" fill-opacity="0.23"/>
<circle cx="174.4" cy="437.27" r="0.89" fill="#5a543a" fill-opacity="0.43"/>
<circle cx="174.97" cy="438.68" r="0.87" fill="#756e50" fill-opacity="0.22"/>
<circle cx="173.47" cy="433.47" r="0.78" fill="#665f42" fill-opacity="0.26"/>
<circle cx="175.95" cy="435.33" r="0.73" fill="#5a543a" fill-opacity="0.37"/>
<circle cx="172.55" cy="438.8" r="0.9" fill="#756e50" fill-opacity="0.35"/>
<circle cx="171.69" cy="437.14" r="0.78" fill="#665f42" fill-opacity="0.49"/>
<circle cx="174.78" cy="430.75" r="0.6" fill="#665f42" fill-opacity="0.4"/>
<circle cx="176.5" cy="444.23" r="0.86" fill="#665f42" fill-opacity="0.35"/>
<circle cx="176.89" cy="436.65" r="0.75" fill="#756e50" fill-opacity="0.28"/>
<circle cx="182.43" cy="434.83" r="0.57" fill="#5a543a" fill-opacity="0.36"/>
<circle cx="175.98" cy="436.17" r="0.81" fill="#665f42" fill-opacity="0.24"/>
<circle cx="179.15" cy="440.33" r="0.62" fill="#756e50" fill-opacity="0.34"/>
<circle cx="177.78" cy="436.6" r="0.52" fill="#665f42" fill-opacity="0.33"/>
<circle cx="176.33" cy="443.24" r="0.51" fill="#5a543a" fill-opacity="0.22"/>
<circle cx="176.64" cy="442.51" r="0.46" fill="#5a543a" fill-opacity="0.26"/>
<circle cx="171.83" cy="430.07" r="0.41" fill="#665f42" fill-opacity="0.43"/>
<circle cx="171.51" cy="434.34" r="0.77" fill="#5a543a" fill-opacity="0.28"/>
<circle cx="179.47" cy="437.21" r="0.55" fill="#756e50" fill-opacity="0.42"/>
<circle cx="174.37" cy="435.51" r="0.6" fill="#665f42" fill-opacity="0.45"/>
<circle cx="174.26" cy="435.74" r="0.68" fill="#756e50" fill-opacity="0.31"/>
<circle cx="177.71" cy="438.23" r="0.63" fill="#665f42" fill-opacity="0.48"/>
<circle cx="175.97" cy="434.76" r="0.59" fill="#5a543a" fill-opacity="0.39"/>
<circle cx="179.15" cy="433.69" r="0.54" fill="#5a543a" fill-opacity="0.44"/>
<circle cx="180.42" cy="440.17" r="0.62" fill="#665f42" fill-opacity="0.47"/>
<circle cx="180.07" cy="437.8" r="0.47" fill="#756e50" fill-opacity="0.48"/>
<circle cx="172.19" cy="437.59" r="0.65" fill="#5a543a" fill-opacity="0.42"/>
<circle cx="171.82" cy="430.28" r="0.62" fill="#756e50" fill-opacity="0.47"/>
<circle cx="178.13" cy="438.88" r="0.52" fill="#756e50" fill-opacity="0.44"/>
<circle cx="174.07" cy="440.56" r="0.45" fill="#665f42" fill-opacity="0.35"/>
<circle cx="174.66" cy="437.94" r="0.6" fill="#665f42" fill-opacity="0.35"/>
<circle cx="175.96" cy="436.57" r="0.46" fill="#756e50" fill-opacity="0.22"/>
<circle cx="184.21" cy="437.16" r="0.41" fill="#665f42" fill-opacity="0.3"/>
<circle cx="173.36" cy="447.19" r="0.7" fill="#756e50" fill-opacity="0.22"/>
<circle cx="172.48" cy="446.92" r="0.54" fill="#756e50" fill-opacity="0.34"/>
<circle cx="175.42" cy="440.38" r="0.82" fill="#5a543a" fill-opacity="0.45"/>
<circle cx="181.87" cy="440.34" r="0.41" fill="#756e50" fill-opacity="0.37"/>
<circle cx="179.18" cy="444.45" r="0.52" fill="#665f42" fill-opacity="0.41"/>
<circle cx="173.26" cy="441.23" r="0.61" fill="#756e50" fill-opacity="0.24"/>
<circle cx="174.43" cy="441.41" r="0.59" fill="#665f42" fill-opacity="0.36"/>
<circle cx="179.57" cy="435.38" r="0.6" fill="#756e50" fill-opacity="0.42"/>
<circle cx="174.64" cy="441.67" r="0.54" fill="#5a543a" fill-opacity="0.41"/>
<circle cx="175.33" cy="434.14" r="0.47" fill="#5a543a" fill-opacity="0.3"/>
<circle cx="184.93" cy="435.25" r="0.5" fill="#665f42" fill-opacity="0.3"/>
<circle cx="183.33" cy="439.77" r="0.66" fill="#5a543a" fill-opacity="0.33"/>
<circle cx="180.56" cy="438.52" r="0.75" fill="#5a543a" fill-opacity="0.49"/>
<circle cx="178.07" cy="433.26" r="0.5" fill="#665f42" fill-opacity="0.41"/>
<circle cx="177.96" cy="441.3" r="0.88" fill="#5a543a" fill-opacity="0.21"/>
<circle cx="177.27" cy="433.44" r="0.57" fill="#5a543a" fill-opacity="0.36"/>
<circle cx="171.61" cy="438.93" r="0.81" fill="#5a543a" fill-opacity="0.32"/>
<circle cx="172.69" cy="438" r="0.89" fill="#756e50" fill-opacity="0.39"/>
<circle cx="183.84" cy="436.76" r="0.56" fill="#665f42" fill-opacity="0.4"/>
<circle cx="176.44" cy="436.76" r="0.84" fill="#756e50" fill-opacity="0.24"/>
<circle cx="176.87" cy="433.67" r="0.73" fill="#5a543a" fill-opacity="0.37"/>
<circle cx="183.34" cy="441.47" r="0.59" fill="#665f42" fill-opacity="0.27"/>
<circle cx="173.19" cy="440.59" r="0.87" fill="#5a543a" fill-opacity="0.33"/>
<circle cx="176.81" cy="442.27" r="0.65" fill="#756e50" fill-opacity="0.35"/>
<circle cx="172.2" cy="440.55" r="0.65" fill="#5a543a" fill-opacity="0.33"/>
<circle cx="172.45" cy="431.82" r="0.45" fill="#756e50" fill-opacity="0.47"/>
<circle cx="182.85" cy="435.75" r="0.71" fill="#756e50" fill-opacity="0.23"/>
<circle cx="178.33" cy="443.93" r="0.81" fill="#665f42" fill-opacity="0.47"/>
<circle cx="175.05" cy="439.82" r="0.72" fill="#756e50" fill-opacity="0.48"/>
<circle cx="179.87" cy="436.69" r="0.88" fill="#5a543a" fill-opacity="0.24"/>
<circle cx="179.29" cy="433.85" r="0.76" fill="#665f42" fill-opacity="0.22"/>
<circle cx="182.64" cy="434.67" r="0.88" fill="#665f42" fill-opacity="0.42"/>
<circle cx="174.18" cy="446.51" r="0.7" fill="#756e50" fill-opacity="0.33"/>
<circle cx="175.41" cy="436.49" r="0.56" fill="#665f42" fill-opacity="0.4"/>
<circle cx="179.81" cy="438.71" r="0.5" fill="#5a543a" fill-opacity="0.35"/>
<circle cx="177.92" cy="434.68" r="0.81" fill="#756e50" fill-opacity="0.37"/>
<circle cx="180.47" cy="453.11" r="0.82" fill="#5a543a" fill-opacity="0.33"/>
<circle cx="179.53" cy="434.32" r="0.63" fill="#665f42" fill-opacity="0.25"/>
<circle cx="170.9" cy="436.99" r="0.52" fill="#756e50" fill-opacity="0.2"/>
<circle cx="176.97" cy="437.34" r="0.47" fill="#5a543a" fill-opacity="0.31"/>
<circle cx="172.14" cy="441.09" r="0.7" fill="#665f42" fill-opacity="0.29"/>
<circle cx="176.44" cy="438.61" r="0.59" fill="#5a543a" fill-opacity="0.39"/>
<circle cx="183.24" cy="437.99" r="0.86" fill="#5a543a" fill-opacity="0.34"/>
<circle cx="177.78" cy="436.1" r="0.89" fill="#756e50" fill-opacity="0.2"/>
<circle cx="177.44" cy="438.75" r="0.57" fill="#665f42" fill-opacity="0.47"/>
<circle cx="178.98" cy="444.91" r="0.5" fill="#5a543a" fill-opacity="0.24"/>
<circle cx="178.99" cy="433.91" r="0.44" fill="#5a543a" fill-opacity="0.25"/>
<circle cx="177.09" cy="438.68" r="0.82" fill="#665f42" fill-opacity="0.31"/>
<circle cx="186.99" cy="419.77" r="0.25" fill="#6e684c" fill-opacity="0.24"/>
<circle cx="187.64" cy="464.94" r="0.43" fill="#6e684c" fill-opacity="0.41"/>
<circle cx="183.95" cy="417.78" r="0.25" fill="#6e684c" fill-opacity="0.41"/>
<circle cx="191.67" cy="431.37" r="0.26" fill="#6e684c" fill-opacity="0.45"/>
<circle cx="179" cy="436.68" r="0.33" fill="#6e684c" fill-opacity="0.3"/>
<circle cx="200.58" cy="426.95" r="0.4" fill="#6e684c" fill-opacity="0.34"/>
<circle cx="180.28" cy="437.98" r="0.28" fill="#6e684c" fill-opacity="0.27"/>
<circle cx="191.97" cy="433.01" r="0.42" fill="#6e684c" fill-opacity="0.29"/>
<circle cx="179.97" cy="447.38" r="0.46" fill="#6e684c" fill-opacity="0.33"/>
<circle cx="182.83" cy="445.17" r="0.3" fill="#6e684c" fill-opacity="0.26"/>
<circle cx="212.97" cy="443.36" r="0.25" fill="#6e684c" fill-opacity="0.27"/>
<circle cx="175.84" cy="432.34" r="0.34" fill="#6e684c" fill-opacity="0.35"/>
<circle cx="168.86" cy="442.3" r="0.46" fill="#6e684c" fill-opacity="0.41"/>
<circle cx="189.24" cy="452.19" r="0.38" fill="#6e684c" fill-opacity="0.28"/>
<circle cx="182.18" cy="450.47" r="0.46" fill="#6e684c" fill-opacity="0.3"/>
<circle cx="147.62" cy="441.45" r="0.45" fill="#6e684c" fill-opacity="0.43"/>
<circle cx="160.68" cy="444.02" r="0.33" fill="#6e684c" fill-opacity="0.4"/>
<circle cx="181.76" cy="440.42" r="0.49" fill="#6e684c" fill-opacity="0.35"/>
<circle cx="177.89" cy="442.05" r="0.27" fill="#6e684c" fill-opacity="0.44"/>
<circle cx="179.9" cy="439.99" r="0.27" fill="#6e684c" fill-opacity="0.29"/>
<circle cx="173.93" cy="449.69" r="0.45" fill="#6e684c" fill-opacity="0.25"/>
<circle cx="163.19" cy="453.19" r="0.5" fill="#6e684c" fill-opacity="0.37"/>
<circle cx="186.76" cy="425.81" r="0.38" fill="#6e684c" fill-opacity="0.4"/>
<circle cx="191.3" cy="435.73" r="0.34" fill="#6e684c" fill-opacity="0.44"/>
<circle cx="196.86" cy="449.75" r="0.27" fill="#6e684c" fill-opacity="0.28"/>
<circle cx="186.45" cy="445.06" r="0.36" fill="#6e684c" fill-opacity="0.29"/>
<circle cx="186.45" cy="447.34" r="0.41" fill="#6e684c" fill-opacity="0.28"/>
<circle cx="192.89" cy="441.47" r="0.29" fill="#6e684c" fill-opacity="0.26"/>
<circle cx="191.67" cy="439.55" r="0.36" fill="#6e684c" fill-opacity="0.35"/>
<circle cx="176.43" cy="441.47" r="0.47" fill="#6e684c" fill-opacity="0.3"/>
<circle cx="166.63" cy="428.96" r="0.27" fill="#6e684c" fill-opacity="0.36"/>
<circle cx="187.98" cy="446.37" r="0.26" fill="#6e684c" fill-opacity="0.26"/>
<circle cx="203.79" cy="438.86" r="0.39" fill="#6e684c" fill-opacity="0.36"/>
<circle cx="164.92" cy="450.99" r="0.43" fill="#6e684c" fill-opacity="0.42"/>
<circle cx="183.34" cy="451.09" r="0.39" fill="#6e684c" fill-opacity="0.23"/>
<circle cx="164.93" cy="434.82" r="0.35" fill="#6e684c" fill-opacity="0.24"/>
<circle cx="155.45" cy="443.81" r="0.41" fill="#6e684c" fill-opacity="0.27"/>
<circle cx="194.17" cy="441.11" r="0.34" fill="#6e684c" fill-opacity="0.32"/>
<circle cx="166.63" cy="440.96" r="0.43" fill="#6e684c" fill-opacity="0.27"/>
<circle cx="169.34" cy="440.43" r="0.28" fill="#6e684c" fill-opacity="0.27"/>
<circle cx="183.23" cy="436.71" r="0.41" fill="#6e684c" fill-opacity="0.26"/>
<circle cx="191.86" cy="450.99" r="0.33" fill="#6e684c" fill-opacity="0.43"/>
<circle cx="201.94" cy="449.35" r="0.45" fill="#6e684c" fill-opacity="0.32"/>
<circle cx="184.97" cy="457.58" r="0.4" fill="#6e684c" fill-opacity="0.44"/>
<circle cx="166.7" cy="443.65" r="0.48" fill="#6e684c" fill-opacity="0.26"/>
<circle cx="208.92" cy="432.56" r="0.36" fill="#6e684c" fill-opacity="0.34"/>
<circle cx="190.06" cy="438.51" r="0.48" fill="#6e684c" fill-opacity="0.33"/>
<circle cx="160.26" cy="440.25" r="0.27" fill="#6e684c" fill-opacity="0.37"/>
<circle cx="183.38" cy="438" r="0.29" fill="#6e684c" fill-opacity="0.23"/>
<circle cx="193.17" cy="442.25" r="0.28" fill="#6e684c" fill-opacity="0.34"/>
<circle cx="195.93" cy="447.43" r="0.49" fill="#6e684c" fill-opacity="0.3"/>
<circle cx="213.39" cy="443.47" r="0.34" fill="#6e684c" fill-opacity="0.42"/>
<circle cx="197.2" cy="434.64" r="0.45" fill="#6e684c" fill-opacity="0.25"/>
<circle cx="172.6" cy="437.29" r="0.32" fill="#6e684c" fill-opacity="0.36"/>
<circle cx="166.6" cy="458.27" r="0.33" fill="#6e684c" fill-opacity="0.44"/>
<circle cx="185.93" cy="461.96" r="0.26" fill="#6e684c" fill-opacity="0.31"/>
<circle cx="190.94" cy="421.27" r="0.33" fill="#6e684c" fill-opacity="0.29"/>
<circle cx="180.95" cy="445.43" r="0.42" fill="#6e684c" fill-opacity="0.39"/>
<circle cx="185.52" cy="452.18" r="0.29" fill="#6e684c" fill-opacity="0.43"/>
<circle cx="183.48" cy="438.75" r="0.3" fill="#6e684c" fill-opacity="0.34"/>
<circle cx="182.13" cy="427.32" r="0.47" fill="#6e684c" fill-opacity="0.28"/>
<circle cx="162.8" cy="434.87" r="0.44" fill="#6e684c" fill-opacity="0.29"/>
<circle cx="179.09" cy="446.22" r="0.38" fill="#6e684c" fill-opacity="0.42"/>
<circle cx="171.43" cy="444.45" r="0.31" fill="#6e684c" fill-opacity="0.25"/>
<circle cx="177.96" cy="442.01" r="0.47" fill="#6e684c" fill-opacity="0.35"/>
<circle cx="208.89" cy="444.57" r="0.48" fill="#6e684c" fill-opacity="0.34"/>
<circle cx="200.16" cy="449.46" r="0.47" fill="#6e684c" fill-opacity="0.42"/>
<circle cx="166.99" cy="457.39" r="0.33" fill="#6e684c" fill-opacity="0.34"/>
<circle cx="166.53" cy="448.84" r="0.3" fill="#6e684c" fill-opacity="0.36"/>
<circle cx="161.79" cy="438.05" r="0.3" fill="#6e684c" fill-opacity="0.39"/>
</g></g>
<rect x="140.8" y="410.5" width="77.7" height="58.1" fill="none" stroke="#2b2a22" stroke-width="1.2"/>
<rect x="199.4" y="457.2" width="17.6" height="7.6" fill="#fff"/>
<rect x="199.4" y="464.7" width="17.6" height="1.8" fill="#000"/>
<text x="208.3" y="463.3" font-size="7.6" text-anchor="middle" textLength="16.4" lengthAdjust="spacingAndGlyphs" style="stroke-width:0.15px">1mm</text>
<text x="234.8" y="337" font-size="12.6" font-weight="bold" style="stroke-width:0.55px">G</text>
<line x1="269.5" y1="361.3" x2="269.5" y2="408.4" stroke="#231f20" stroke-width="1.3"/>
<line x1="269.5" y1="415.4" x2="269.5" y2="460" stroke="#231f20" stroke-width="1.3"/>
<line x1="265.7" y1="364.5" x2="269.5" y2="364.5" stroke="#231f20" stroke-width="1.1"/>
<text x="263" y="367.6" font-size="8.8" text-anchor="end">500</text>
<line x1="265.7" y1="379.25" x2="269.5" y2="379.25" stroke="#231f20" stroke-width="1.1"/>
<text x="263" y="382.35" font-size="8.8" text-anchor="end">400</text>
<line x1="265.7" y1="394" x2="269.5" y2="394" stroke="#231f20" stroke-width="1.1"/>
<text x="263" y="397.1" font-size="8.8" text-anchor="end">300</text>
<line x1="266.7" y1="408.4" x2="272.7" y2="408.4" stroke="#231f20" stroke-width="1.2"/>
<text x="263" y="411.1" font-size="8.8" text-anchor="end">200</text>
<line x1="266.7" y1="415.4" x2="272.7" y2="415.4" stroke="#231f20" stroke-width="1.2"/>
<text x="263" y="418.1" font-size="8.8" text-anchor="end">60</text>
<line x1="265.7" y1="430.5" x2="269.5" y2="430.5" stroke="#231f20" stroke-width="1.1"/>
<text x="263" y="433.6" font-size="8.8" text-anchor="end">40</text>
<line x1="265.7" y1="445.5" x2="269.5" y2="445.5" stroke="#231f20" stroke-width="1.1"/>
<text x="263" y="448.6" font-size="8.8" text-anchor="end">20</text>
<line x1="265.7" y1="460" x2="269.5" y2="460" stroke="#231f20" stroke-width="1.1"/>
<text x="263" y="463.1" font-size="8.8" text-anchor="end">0</text>
<line x1="268.9" y1="460" x2="414" y2="460" stroke="#231f20" stroke-width="1.3"/>
<line x1="305.5" y1="460" x2="305.5" y2="463" stroke="#231f20" stroke-width="1.1"/>
<line x1="377.5" y1="460" x2="377.5" y2="463" stroke="#231f20" stroke-width="1.1"/>
<text x="305.5" y="473.8" font-size="8.6" text-anchor="middle">1W</text>
<text x="377.5" y="474" font-size="8.6" text-anchor="middle">2W</text>
<text transform="translate(243.9,410.5) rotate(-90)" x="0" y="0" font-size="10.4" text-anchor="middle" textLength="43" lengthAdjust="spacingAndGlyphs"># of colonies</text>
<line x1="282.5" y1="403.75" x2="282.5" y2="400.5" stroke="#231f20" stroke-width="1.1"/>
<line x1="279.2" y1="400.5" x2="285.8" y2="400.5" stroke="#231f20" stroke-width="1.2"/>
<rect x="277.5" y="403.75" width="10" height="4.65" fill="#2e4c7f"/>
<rect x="277.5" y="415.5" width="10" height="44" fill="#2e4c7f"/>
<line x1="298" y1="407" x2="298" y2="404.25" stroke="#231f20" stroke-width="1.1"/>
<line x1="294.7" y1="404.25" x2="301.3" y2="404.25" stroke="#231f20" stroke-width="1.2"/>
<rect x="293" y="407" width="10" height="1.4" fill="#50266a"/>
<rect x="293" y="415.5" width="10" height="44" fill="#50266a"/>
<line x1="313.25" y1="385" x2="313.25" y2="382.5" stroke="#231f20" stroke-width="1.1"/>
<line x1="309.95" y1="382.5" x2="316.55" y2="382.5" stroke="#231f20" stroke-width="1.2"/>
<rect x="308.25" y="385" width="10" height="23.4" fill="#a4002b"/>
<rect x="308.25" y="415.5" width="10" height="44" fill="#a4002b"/>
<line x1="328.5" y1="393" x2="328.5" y2="392" stroke="#231f20" stroke-width="1.1"/>
<line x1="325.2" y1="392" x2="331.8" y2="392" stroke="#231f20" stroke-width="1.2"/>
<rect x="323.5" y="393" width="10" height="15.4" fill="#dd8c1d"/>
<rect x="323.5" y="415.5" width="10" height="44" fill="#dd8c1d"/>
<line x1="354.5" y1="438.25" x2="354.5" y2="436.5" stroke="#231f20" stroke-width="1.1"/>
<line x1="351.2" y1="436.5" x2="357.8" y2="436.5" stroke="#231f20" stroke-width="1.2"/>
<rect x="349.5" y="438.25" width="10" height="21.25" fill="#2e4c7f"/>
<line x1="369.75" y1="438.75" x2="369.75" y2="435" stroke="#231f20" stroke-width="1.1"/>
<line x1="366.45" y1="435" x2="373.05" y2="435" stroke="#231f20" stroke-width="1.2"/>
<rect x="364.5" y="438.75" width="10.5" height="20.75" fill="#50266a"/>
<line x1="385" y1="422" x2="385" y2="420" stroke="#231f20" stroke-width="1.1"/>
<line x1="381.7" y1="420" x2="388.3" y2="420" stroke="#231f20" stroke-width="1.2"/>
<rect x="380" y="422" width="10" height="37.5" fill="#a4002b"/>
<line x1="400.5" y1="438.75" x2="400.5" y2="433" stroke="#231f20" stroke-width="1.1"/>
<line x1="397.2" y1="433" x2="403.8" y2="433" stroke="#231f20" stroke-width="1.2"/>
<rect x="395.5" y="438.75" width="10" height="20.75" fill="#dd8c1d"/>
<line x1="297" y1="365" x2="328.25" y2="365" stroke="#231f20" stroke-width="1.1"/>
<circle cx="310.77" cy="361" r="1.2" fill="#2a2a2a"/>
<circle cx="314.22" cy="361" r="1.2" fill="#2a2a2a"/>
<line x1="282" y1="379" x2="312.5" y2="379" stroke="#231f20" stroke-width="1.1"/>
<circle cx="295.77" cy="375" r="1.2" fill="#2a2a2a"/>
<circle cx="299.22" cy="375" r="1.2" fill="#2a2a2a"/>
<line x1="312.5" y1="375.5" x2="328.25" y2="375.5" stroke="#231f20" stroke-width="1.1"/>
<circle cx="318.77" cy="371.5" r="1.2" fill="#2a2a2a"/>
<circle cx="322.22" cy="371.5" r="1.2" fill="#2a2a2a"/>
<line x1="354.3" y1="416.8" x2="384.4" y2="416.8" stroke="#231f20" stroke-width="1.1"/>
<circle cx="364.02" cy="412.8" r="1.2" fill="#2a2a2a"/>
<circle cx="367.47" cy="412.8" r="1.2" fill="#2a2a2a"/>
<circle cx="370.92" cy="412.8" r="1.2" fill="#2a2a2a"/>
<circle cx="374.38" cy="412.8" r="1.2" fill="#2a2a2a"/>
<line x1="385.1" y1="412.4" x2="398.6" y2="412.4" stroke="#231f20" stroke-width="1.1"/>
<circle cx="390.38" cy="408.4" r="1.2" fill="#2a2a2a"/>
<circle cx="393.82" cy="408.4" r="1.2" fill="#2a2a2a"/>
<rect x="352" y="343.5" width="6" height="5.1" fill="#2e4c7f"/>
<text x="362.2" y="348.6" font-size="7.8"><tspan font-style="italic" textLength="49.6" lengthAdjust="spacingAndGlyphs">NHD13/Setd2</tspan><tspan font-style="italic" font-size="5.46" dy="-3.28" style="stroke-width:0.05px" textLength="5.2" lengthAdjust="spacingAndGlyphs">f/f</tspan><tspan dy="3.28" textLength="33.6" lengthAdjust="spacingAndGlyphs"> - Control</tspan></text>
<rect x="352" y="355" width="6" height="5.1" fill="#50266a"/>
<text x="362.2" y="360.1" font-size="7.8"><tspan font-style="italic" textLength="49.6" lengthAdjust="spacingAndGlyphs">NHD13/Setd2</tspan><tspan font-style="italic" font-size="5.46" dy="-3.28" style="stroke-width:0.05px" textLength="5.2" lengthAdjust="spacingAndGlyphs">f/f</tspan><tspan dy="3.28" textLength="43.4" lengthAdjust="spacingAndGlyphs"> - rmS100a9</tspan></text>
<rect x="352" y="366.7" width="6" height="5.1" fill="#a4002b"/>
<text x="362.2" y="371.8" font-size="7.8"><tspan font-style="italic" textLength="49.6" lengthAdjust="spacingAndGlyphs">NHD13/Setd2</tspan><tspan font-style="italic" font-size="5.46" dy="-3.28" style="stroke-width:0.05px" textLength="6.6" lengthAdjust="spacingAndGlyphs">Δ/Δ</tspan><tspan dy="3.28" textLength="33.4" lengthAdjust="spacingAndGlyphs"> - Control</tspan></text>
<rect x="352" y="378" width="6" height="5.1" fill="#dd8c1d"/>
<text x="362.2" y="383.1" font-size="7.8"><tspan font-style="italic" textLength="49.6" lengthAdjust="spacingAndGlyphs">NHD13/Setd2</tspan><tspan font-style="italic" font-size="5.46" dy="-3.28" style="stroke-width:0.05px" textLength="6.6" lengthAdjust="spacingAndGlyphs">Δ/Δ</tspan><tspan dy="3.28" textLength="43.4" lengthAdjust="spacingAndGlyphs"> - rmS100a9</tspan></text>
<text x="7.6" y="502" font-size="12.6" font-weight="bold" style="stroke-width:0.55px">H</text>
<line x1="51.25" y1="511.5" x2="51.25" y2="605" stroke="#231f20" stroke-width="1.3"/>
<line x1="47.55" y1="514.5" x2="51.25" y2="514.5" stroke="#231f20" stroke-width="1.1"/>
<text x="44.75" y="517.6" font-size="8.8" text-anchor="end">400</text>
<line x1="47.55" y1="537" x2="51.25" y2="537" stroke="#231f20" stroke-width="1.1"/>
<text x="44.75" y="540.1" font-size="8.8" text-anchor="end">300</text>
<line x1="47.55" y1="560" x2="51.25" y2="560" stroke="#231f20" stroke-width="1.1"/>
<text x="44.75" y="563.1" font-size="8.8" text-anchor="end">200</text>
<line x1="47.55" y1="582.5" x2="51.25" y2="582.5" stroke="#231f20" stroke-width="1.1"/>
<text x="44.75" y="585.6" font-size="8.8" text-anchor="end">100</text>
<line x1="47.55" y1="605" x2="51.25" y2="605" stroke="#231f20" stroke-width="1.1"/>
<text x="44.75" y="608.1" font-size="8.8" text-anchor="end">0</text>
<line x1="50.65" y1="605" x2="117.5" y2="605" stroke="#231f20" stroke-width="1.3"/>
<line x1="59.5" y1="605" x2="59.5" y2="608.5" stroke="#231f20" stroke-width="1.1"/>
<line x1="76.25" y1="605" x2="76.25" y2="608.5" stroke="#231f20" stroke-width="1.1"/>
<line x1="93" y1="605" x2="93" y2="608.5" stroke="#231f20" stroke-width="1.1"/>
<line x1="109.5" y1="605" x2="109.5" y2="608.5" stroke="#231f20" stroke-width="1.1"/>
<line x1="59.5" y1="562.5" x2="59.5" y2="560.5" stroke="#231f20" stroke-width="1.1"/>
<line x1="56.2" y1="560.5" x2="62.8" y2="560.5" stroke="#231f20" stroke-width="1.2"/>
<rect x="54.5" y="562.5" width="10" height="42" fill="#2e4c7f"/>
<line x1="76.25" y1="565.5" x2="76.25" y2="562.5" stroke="#231f20" stroke-width="1.1"/>
<line x1="72.95" y1="562.5" x2="79.55" y2="562.5" stroke="#231f20" stroke-width="1.2"/>
<rect x="71.25" y="565.5" width="10" height="39" fill="#50266a"/>
<line x1="93" y1="541.25" x2="93" y2="537.5" stroke="#231f20" stroke-width="1.1"/>
<line x1="89.7" y1="537.5" x2="96.3" y2="537.5" stroke="#231f20" stroke-width="1.2"/>
<rect x="88" y="541.25" width="10" height="63.25" fill="#a4002b"/>
<line x1="109.5" y1="549.25" x2="109.5" y2="547.5" stroke="#231f20" stroke-width="1.1"/>
<line x1="106.2" y1="547.5" x2="112.8" y2="547.5" stroke="#231f20" stroke-width="1.2"/>
<rect x="104.5" y="549.25" width="10" height="55.25" fill="#dd8c1d"/>
<line x1="60" y1="512" x2="110" y2="512" stroke="#231f20" stroke-width="1.1"/>
<circle cx="81.55" cy="508" r="1.2" fill="#2a2a2a"/>
<circle cx="85" cy="508" r="1.2" fill="#2a2a2a"/>
<circle cx="88.45" cy="508" r="1.2" fill="#2a2a2a"/>
<line x1="76.25" y1="521.25" x2="110" y2="521.25" stroke="#231f20" stroke-width="1.1"/>
<circle cx="91.28" cy="517.25" r="1.2" fill="#2a2a2a"/>
<circle cx="94.73" cy="517.25" r="1.2" fill="#2a2a2a"/>
<line x1="93.75" y1="529.5" x2="110" y2="529.5" stroke="#231f20" stroke-width="1.1"/>
<circle cx="102" cy="525.5" r="1.2" fill="#2a2a2a"/>
<line x1="58.75" y1="534.5" x2="92.5" y2="534.5" stroke="#231f20" stroke-width="1.1"/>
<circle cx="73.78" cy="530.5" r="1.2" fill="#2a2a2a"/>
<circle cx="77.23" cy="530.5" r="1.2" fill="#2a2a2a"/>
<text x="84.75" y="618.8" font-size="8.6" text-anchor="middle" textLength="25.5" lengthAdjust="spacingAndGlyphs">CFU-G</text>
<text transform="translate(25.7,558.2) rotate(-90)" x="0" y="0" font-size="10.4" text-anchor="middle" textLength="43.3" lengthAdjust="spacingAndGlyphs"># of colonies</text>
<line x1="164.5" y1="515.5" x2="164.5" y2="605" stroke="#231f20" stroke-width="1.3"/>
<line x1="160.8" y1="519.25" x2="164.5" y2="519.25" stroke="#231f20" stroke-width="1.1"/>
<text x="158" y="522.35" font-size="8.8" text-anchor="end">80</text>
<line x1="160.8" y1="540.5" x2="164.5" y2="540.5" stroke="#231f20" stroke-width="1.1"/>
<text x="158" y="543.6" font-size="8.8" text-anchor="end">60</text>
<line x1="160.8" y1="561.75" x2="164.5" y2="561.75" stroke="#231f20" stroke-width="1.1"/>
<text x="158" y="564.85" font-size="8.8" text-anchor="end">40</text>
<line x1="160.8" y1="583.25" x2="164.5" y2="583.25" stroke="#231f20" stroke-width="1.1"/>
<text x="158" y="586.35" font-size="8.8" text-anchor="end">20</text>
<line x1="160.8" y1="605" x2="164.5" y2="605" stroke="#231f20" stroke-width="1.1"/>
<text x="158" y="608.1" font-size="8.8" text-anchor="end">0</text>
<line x1="163.9" y1="605" x2="230" y2="605" stroke="#231f20" stroke-width="1.3"/>
<line x1="172.75" y1="605" x2="172.75" y2="608.5" stroke="#231f20" stroke-width="1.1"/>
<line x1="189" y1="605" x2="189" y2="608.5" stroke="#231f20" stroke-width="1.1"/>
<line x1="205.5" y1="605" x2="205.5" y2="608.5" stroke="#231f20" stroke-width="1.1"/>
<line x1="221.75" y1="605" x2="221.75" y2="608.5" stroke="#231f20" stroke-width="1.1"/>
<line x1="172.75" y1="573" x2="172.75" y2="565" stroke="#231f20" stroke-width="1.1"/>
<line x1="169.45" y1="565" x2="176.05" y2="565" stroke="#231f20" stroke-width="1.2"/>
<rect x="167.5" y="573" width="10.5" height="31.5" fill="#2e4c7f"/>
<line x1="189" y1="582" x2="189" y2="577.5" stroke="#231f20" stroke-width="1.1"/>
<line x1="185.7" y1="577.5" x2="192.3" y2="577.5" stroke="#231f20" stroke-width="1.2"/>
<rect x="183.75" y="582" width="10.5" height="22.5" fill="#50266a"/>
<line x1="205.5" y1="536.25" x2="205.5" y2="534.5" stroke="#231f20" stroke-width="1.1"/>
<line x1="202.2" y1="534.5" x2="208.8" y2="534.5" stroke="#231f20" stroke-width="1.2"/>
<rect x="200.5" y="536.25" width="10" height="68.25" fill="#a4002b"/>
<line x1="221.88" y1="554" x2="221.88" y2="552" stroke="#231f20" stroke-width="1.1"/>
<line x1="218.57" y1="552" x2="225.18" y2="552" stroke="#231f20" stroke-width="1.2"/>
<rect x="216.75" y="554" width="10.25" height="50.5" fill="#dd8c1d"/>
<line x1="172" y1="511.25" x2="221.25" y2="511.25" stroke="#231f20" stroke-width="1.1"/>
<circle cx="196.75" cy="507.25" r="1.2" fill="#2a2a2a"/>
<line x1="188.25" y1="520.5" x2="221.25" y2="520.5" stroke="#231f20" stroke-width="1.1"/>
<circle cx="201.05" cy="516.5" r="1.2" fill="#2a2a2a"/>
<circle cx="204.5" cy="516.5" r="1.2" fill="#2a2a2a"/>
<circle cx="207.95" cy="516.5" r="1.2" fill="#2a2a2a"/>
<line x1="172" y1="531.75" x2="205" y2="531.75" stroke="#231f20" stroke-width="1.1"/>
<circle cx="186.53" cy="527.75" r="1.2" fill="#2a2a2a"/>
<circle cx="189.97" cy="527.75" r="1.2" fill="#2a2a2a"/>
<line x1="205.5" y1="528.25" x2="221.25" y2="528.25" stroke="#231f20" stroke-width="1.1"/>
<circle cx="211.28" cy="524.25" r="1.2" fill="#2a2a2a"/>
<circle cx="214.72" cy="524.25" r="1.2" fill="#2a2a2a"/>
<text x="198.1" y="618.8" font-size="8.6" text-anchor="middle" textLength="33.8" lengthAdjust="spacingAndGlyphs">CFU-GM</text>
<text transform="translate(142.9,560.1) rotate(-90)" x="0" y="0" font-size="10.4" text-anchor="middle" textLength="43.3" lengthAdjust="spacingAndGlyphs"># of colonies</text>
<rect x="233.75" y="520.5" width="6" height="5.1" fill="#2e4c7f"/>
<text x="243.9" y="525.6" font-size="7.6"><tspan font-style="italic" textLength="47.4" lengthAdjust="spacingAndGlyphs">NHD13/Setd2</tspan><tspan font-style="italic" font-size="5.32" dy="-3.19" style="stroke-width:0.05px" textLength="5.2" lengthAdjust="spacingAndGlyphs">f/f</tspan><tspan dy="3.19" textLength="33.4" lengthAdjust="spacingAndGlyphs"> - Control</tspan></text>
<rect x="233.75" y="532.5" width="6" height="5.1" fill="#50266a"/>
<text x="243.9" y="537.6" font-size="7.6"><tspan font-style="italic" textLength="47.4" lengthAdjust="spacingAndGlyphs">NHD13/Setd2</tspan><tspan font-style="italic" font-size="5.32" dy="-3.19" style="stroke-width:0.05px" textLength="5.2" lengthAdjust="spacingAndGlyphs">f/f</tspan><tspan dy="3.19" textLength="43.2" lengthAdjust="spacingAndGlyphs"> - rmS100a9</tspan></text>
<rect x="233.75" y="544.3" width="6" height="5.2" fill="#a4002b"/>
<text x="243.9" y="549.5" font-size="7.6"><tspan font-style="italic" textLength="47.4" lengthAdjust="spacingAndGlyphs">NHD13/Setd2</tspan><tspan font-style="italic" font-size="5.32" dy="-3.19" style="stroke-width:0.05px" textLength="6.6" lengthAdjust="spacingAndGlyphs">Δ/Δ</tspan><tspan dy="3.19" textLength="33.2" lengthAdjust="spacingAndGlyphs"> - Control</tspan></text>
<rect x="233.75" y="555.8" width="6" height="5.2" fill="#dd8c1d"/>
<text x="243.9" y="561" font-size="7.6"><tspan font-style="italic" textLength="47.4" lengthAdjust="spacingAndGlyphs">NHD13/Setd2</tspan><tspan font-style="italic" font-size="5.32" dy="-3.19" style="stroke-width:0.05px" textLength="6.6" lengthAdjust="spacingAndGlyphs">Δ/Δ</tspan><tspan dy="3.19" textLength="43.2" lengthAdjust="spacingAndGlyphs"> - rmS100a9</tspan></text>
<rect x="0.5" y="0.5" width="519" height="627" fill="none" stroke="#000" stroke-width="1.2"/>
</svg></body></html>
